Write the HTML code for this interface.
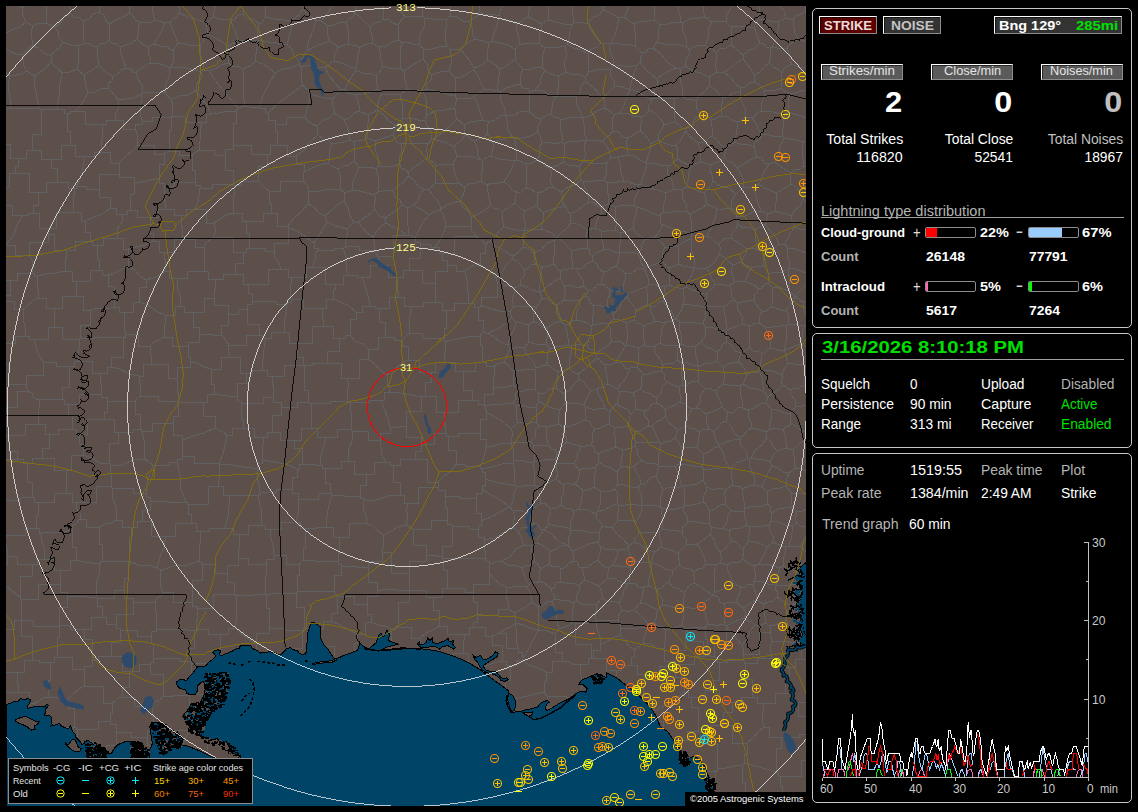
<!DOCTYPE html>
<html><head><meta charset="utf-8"><title>Lightning Map</title>
<style>
html,body{margin:0;padding:0;background:#000;}
body{width:1138px;height:812px;position:relative;overflow:hidden;font-family:"Liberation Sans", sans-serif;}
.t{position:absolute;white-space:nowrap;display:block;}
.pn{position:absolute;border:1px solid #c8c8c8;border-radius:5px;}
.bx{position:absolute;border:1px solid;border-color:#fff #8c8c8c #8c8c8c #fff;box-shadow:inset 1px 1px 0 rgba(0,0,0,.55);}
.ln{position:absolute;height:1px;background:#a0a0a0;}
.bar{position:absolute;width:49px;height:9px;border:1px solid #8c8c8c;border-radius:2px;background:#000;overflow:hidden;}
.bar i{position:absolute;left:0;top:0;height:9px;display:block;}
#map{position:absolute;left:6px;top:6px;width:800px;height:800px;}
#graph{position:absolute;left:812px;top:530px;}
</style></head><body>
<svg id="map" width="800" height="800" viewBox="6 6 800 800" fill="none" stroke-width="1">
<rect x="6" y="6" width="800" height="800" fill="#5d4f4a"/>
<path d="M806 804L804 804M806 716L798 716L798 702M798 702L806 702M804 804L795 804L795 792L782 792M806 760L801 760L801 776L780 776M782 792L782 786L780 786L780 776M781 737L769 737L769 727L764 727M781 737L781 748L776 748L776 772M747 743L753 738L758 732L764 727M747 743L747 754L744 754L744 763M744 763L755 766L766 769L776 772M781 737L799 737L799 734L806 734M776 772L778 772L778 776L780 776M580 664L574 665L568 661L562 661M580 664L581 675L581 680M581 686L581 686L582 690M570 697L566 697L566 696L547 696M562 661L552 661L552 672L546 672M546 672L546 681L544 681L544 692M544 692L547 696M508 701L519 698L531 695L544 692M522 660L516 660L516 665L510 665M510 665L510 680L505 680L505 687M522 660L529 665L538 668L546 672M550 708L550 707L547 707L547 706M547 699L547 696M806 659L801 659M801 659L795 659L795 667L789 667M798 702L791 702L791 693L785 693M789 667L789 677L785 677L785 693M764 727L762 719L763 711L763 703M785 693L775 693L775 703L763 703M691 697L705 697L705 690L713 690M691 697L691 707L698 707L698 731M713 690L719 690L719 702L732 702M732 702L732 712L723 712L723 725M723 725L710 725L710 733L703 733M698 731L703 733M747 743L732 743L732 725L723 725M752 697L757 697L757 703L763 703M752 697L741 697L741 702L732 702M717 769L717 744L703 744L703 733M717 769L726 768L734 766L742 765M744 763L742 765M23 309L14 309L14 301L6 301M23 309L23 318L25 327L26 336M26 336L15 336L15 343L6 343M478 6L479 6L480 12M480 12L486 15L493 14L499 16M499 16L500 12L502 7L502 6M469 21L473 19L477 16L480 12M469 21L463 21L457 17L450 16M450 16L451 11L450 6M803 166L800 169L795 170L791 173M803 166L803 158L802 150L803 142M791 173L786 170L780 166L775 162M775 162L779 155L780 146L784 138M803 142L797 140L790 139L784 138M806 166L803 166M806 141L803 142M736 804L736 806M736 804L741 804L741 796L745 796M745 796L755 796L755 804L770 804M770 806L770 804M715 800L728 800L728 804L736 804M717 769L717 770L715 770L715 771M742 765L742 782L745 782L745 796M715 771L715 788L715 788L715 789M782 792L782 796L770 796L770 804M522 660L528 650L533 640L538 630M562 661L562 652L555 652L555 634M538 630L544 630L550 632L555 634M591 658L592 658L592 658L593 658M591 658L588 658L588 664L580 664M616 676L616 670M593 658L606 658L606 670L616 670M659 721L663 721L663 727M675 740L679 740M679 740L679 746M679 740L687 740L687 731L698 731M715 771L708 771M599 586L602 583L605 581L608 578M599 586L601 590L602 594L602 598M608 578L615 579L621 582L628 584M602 598L607 601L613 601L619 603M628 584L624 590L622 597L619 603M789 667L780 667L780 658L772 658M752 697L752 679L745 679L745 663M772 658L757 658L757 663L745 663M801 659L801 648L802 648L802 642M802 642L788 642L788 641L772 641M772 658L771 652L770 647L772 641M719 662L727 662L727 660L743 660M719 662L719 680L713 680L713 690M743 660L744 660L744 663L745 663M687 629L693 627L699 627L705 628M687 629L687 641L703 641L703 656M705 628L705 639L707 639L707 655M703 656L705 656L705 655L707 655M702 607L696 608L690 608L684 607M702 607L705 612L706 618L708 624M683 608L684 607M683 608L684 614L683 620L682 625M708 624L705 628M685 628L682 625M685 628L687 629M685 628L685 650L678 650L678 664M678 664L694 664L694 656L703 656M708 624L714 625L719 625L724 624M724 624L726 626M726 626L726 641L714 641L714 657M714 657L707 655M25 6L22 8M19 6L22 8M47 6L46 13L46 23M26 22L24 18L22 13L22 8M26 22L33 26M33 26L37 24L42 23L46 23M529 6L529 10L528 17M528 17L524 19L521 22L516 24M499 17L504 20L511 20L516 24M611 43L619 44L627 44L635 46M611 43L615 35L617 27L619 18M635 46L636 39L635 31L634 24M634 24L631 22L627 20L625 17M619 18L625 17M640 62L642 53M640 62L645 69L651 74L657 79M657 79L663 74L669 71L676 68M676 68L668 63L661 54L653 48M653 48L649 48L646 52L642 53M660 25L658 31L659 36L657 42M660 25L655 20M657 42L653 48M655 20L648 21L641 21L634 24M635 46L642 53M6 295L10 295L10 280M6 280L10 280M6 459L17 459M9 435L9 451L17 451L17 459M9 435L6 435M153 465L169 465L169 462L177 462M153 465L150 474L147 483L146 493M146 493L146 497L150 497L150 501M150 501L168 501L168 502L186 502M177 462L180 475L181 489L186 502M749 326L752 325L755 323L759 323M749 326L749 334L749 341L750 348M759 323L765 327M750 348L753 351L757 351L761 353M761 353L765 353L767 349L771 348M765 327L768 334L770 341L771 348M752 268L749 272L747 277L745 281M752 268L748 266L744 264L741 262M741 262L733 265M733 265L731 271L733 277L733 283M733 283L737 281L741 282L745 281M743 324L742 316L738 310L737 302M743 324L749 326M759 323L759 319L760 315L762 312M737 302L742 302L748 301L754 300M762 312L759 308L756 304L754 300M782 375L783 371L786 367L788 363M782 375L775 372L768 370L761 370M761 370L760 364L762 359L761 353M771 348L775 349L780 351L784 350M788 363L786 359L786 354L784 350M685 66L686 60L689 55L689 50M685 66L681 68M657 42L667 45L677 44L687 47M681 68L676 68M689 50L687 47M805 12L805 7L806 6M805 12L806 12M793 20L786 18M793 20L796 16L801 14L805 12M780 6L784 11L786 18M798 39L795 33L794 27L793 20M798 39L804 41L806 41M806 118L801 116L794 114L788 112M806 90L805 90L798 92L790 94M790 94L788 100L788 106L788 112M782 136L784 138M782 136L783 129L783 122L785 115M785 115L788 112M607 183L613 182L618 182L624 181M607 183L604 180M618 157L620 165L621 173L624 181M618 157L611 157M604 180L606 175L606 170L606 164M611 157L606 164M627 155L618 157M627 155L628 149L626 143L628 138M628 138L622 137L619 132L613 131M613 131L610 135L605 138L603 142M611 157L609 151L607 146L603 142M762 134L760 139L755 142L754 147M762 134L769 135L776 137L782 136M769 164L764 163L762 158L757 157M769 164L775 162M754 147L757 157M738 224L736 229L732 233L731 238M738 224L743 228L749 227L755 230M731 238L736 241L742 245L746 249M755 230L755 236L756 242L756 248M746 249L756 248M761 211L753 212L745 216L736 216M761 211L768 214M768 214L765 224M736 216L738 224M765 224L762 227L758 228L755 230M719 254L724 257L728 261L733 265M719 254L720 251L720 247L719 244M719 244L722 241L726 238L731 238M741 262L743 258L746 254L746 249M765 224L770 231L776 237L779 244M765 253L769 249L775 248L779 244M765 253L763 250L758 251L756 248M764 265L763 261L764 257L765 253M764 265L760 267L756 266L752 268M660 216L661 224M660 216L652 213L644 209L636 207M636 207L636 214L634 221L633 228M633 228L636 233L641 236L645 240M661 224L661 229L658 233L655 237M645 240L649 239L652 238L655 237M607 183L607 190L609 197L608 204M634 205L628 206L622 205L616 207M634 205L635 198L638 192L639 185M639 185L634 184L629 182L624 181M608 204L616 207M444 412L444 425L445 425L445 433M444 412L458 412L458 400L472 400M445 433L446 433L446 436L448 436M448 436L458 436L458 433L480 433M472 400L478 400L478 404L484 404M484 404L484 406L485 406L485 406M485 406L485 410L486 410L486 412M480 433L480 419L486 419L486 412M701 342L704 338L706 332L705 327M701 342L696 346M696 346L691 346L686 346L681 344M705 327L703 323M681 344L682 336L679 329L680 322M703 323L695 323L688 322L680 322M802 642L802 640L803 640L803 638M806 636L803 638M554 599L560 600L567 600L573 603M554 599L552 601M552 601L555 610L557 620L559 629M559 629L564 627L569 625L573 622M573 603L573 609L572 616L573 622M591 658L591 644L575 644L575 623M559 629L555 634M573 622L575 623M600 645L606 642L613 638L620 635M600 645L600 637L597 629L596 621M596 620L603 621L611 620L618 620M620 635L621 628M621 628L618 620M593 658L593 650L600 650L600 645M616 670L621 670L621 665L631 665M634 650L634 657L631 657L631 665M634 650L629 646L625 640L620 635M575 623L582 623L589 623L596 621M596 605L597 610L595 615L596 620M596 605L589 604L582 604L576 601M576 601L573 603M602 598L596 605M622 610L619 603M622 610L620 613L618 616L618 620M669 582L665 584L662 588L657 589M669 582L673 587L679 589L684 593M684 593L684 598L683 602L684 607M683 608L676 608L669 606L662 605M657 589L659 594L662 599L662 605M673 571L665 569L659 565L651 563M673 571L672 575L669 578L669 582M651 563L651 571L649 578L648 586M657 589L654 589L651 586L648 586M613 565L615 561L617 556L618 551M613 565L618 566L624 566L630 568M630 568L633 561M633 561L631 556L629 552L628 547M628 547L625 550L621 549L618 551M608 568L604 566L601 564L598 560M608 568L613 565M598 560L599 555L601 551L600 546M600 546L605 549L612 549L618 551M608 578L607 575L609 571L608 568M628 584L630 583M630 583L629 578L630 573L630 568M630 583L635 583L638 587L643 587M651 563L645 562L639 562L633 561M648 586L643 587M534 562L537 563L539 566L541 569M534 562L534 556L531 551L531 546M537 543L531 546M537 543L542 545L546 548L551 551M541 569L549 564M551 551L549 555L550 560L549 564M544 530L541 534L538 538L537 543M544 530L552 534L558 541L567 545M551 551L556 549L561 546L567 545M582 568L579 567L577 562L574 561M582 568L583 572L584 576L584 580M584 580L579 586M579 586L573 583L566 583L560 582M574 561L569 563L566 567L561 569M560 582L561 578L560 573L561 569M599 586L594 584L590 582L584 580M598 560L593 563L588 567L582 568M576 601L576 596L579 591L579 586M552 589L555 587L556 583L560 582M552 589L551 592L554 595L554 599M539 581L539 576L539 572L541 569M539 581L544 583L548 586L552 589M549 564L553 567L558 566L561 569M772 641L770 632M743 660L743 658L743 658L743 654M770 632L759 632L759 654L743 654M673 571L679 565M684 593L687 589L690 585L694 583M679 565L684 568L689 568L694 572M694 583L695 579L693 575L694 572M687 544L684 547L681 550L678 554M687 544L690 544L694 545L697 544M679 565L680 561L678 558L678 554M694 572L698 569L703 568L706 564M697 544L701 550L704 557L706 564M26 22L20 27L12 30L6 33M6 108L10 108M6 144L10 144L10 158L18 158M18 158L26 158L26 150L32 150M10 108L20 108L29 108L39 108M39 108L41 110M41 110L41 134L32 134L32 150M69 6L70 9L70 13M46 23L55 27M55 27L61 23L64 17L70 13M6 187L9 187L9 173L15 173M15 173L29 173L29 192L38 192M6 205L12 205L12 215L23 215M38 192L38 205L33 205L33 213M23 215L28 215L28 213L33 213M18 158L18 166L15 166L15 173M6 245L13 236L17 225L23 215M142 121L140 112L141 103L141 94M142 121L142 124L135 124L135 129M141 94L134 98L126 99L118 100M118 100L119 107L116 113L115 120M135 129L123 129L123 120L115 120M75 111L85 111L85 124L102 124M75 111L80 106L84 100L88 93M88 93L95 92L101 89L108 88M108 88L112 92L115 96L118 100M102 124L106 124L106 120L115 120M57 182L57 168L51 168L51 159M57 182L68 182L68 188L74 188M74 188L76 188L76 186L77 186M77 186L81 176L83 166L85 156M51 159L61 159L61 145L70 145M85 156L75 156L75 145L70 145M32 150L41 150L41 159L51 159M38 192L46 192L46 182L57 182M67 113L67 131L70 131L70 145M67 113L64 113L64 109L57 109M57 109L52 109L46 109L41 110M67 113L70 113L70 111L75 111M101 152L101 139L102 139L102 124M101 152L94 152L94 156L85 156M245 106L243 94L243 82L243 70M245 106L238 108M228 63L232 66L239 66L243 70M228 63L221 65L215 69L209 71M209 71L218 84L228 96L238 108M209 71L203 70M203 70L201 72M201 72L201 78L197 84L196 90M196 90L201 98L207 105L211 114M238 108L236 111M236 111L227 111L219 113L211 114M275 124L275 131L277 131L277 145M275 124L275 120L268 120L268 113M277 145L270 145L270 154L267 154M268 113L265 113L265 108L259 108M259 108L254 107L250 107L245 106M236 111L236 123L233 123L233 145M267 154L251 154L251 145L233 145M211 114L206 114L206 122L202 122M233 145L233 149L225 149L225 155M225 155L214 155L214 150L199 150M199 150L200 141L200 131L202 122M171 100L179 96L188 95L196 90M171 100L173 105L172 110L172 116M202 122L185 122L185 116L172 116M171 100L165 93M142 121L152 121L152 117L171 117M141 94L143 92M143 92L150 93L158 92L165 93M172 116L172 116L171 116L171 117M199 150L192 155M171 117L171 130L169 130L169 151M169 151L179 151L179 155L192 155M213 6L215 7M215 7L216 6M179 13L180 9L178 6M179 13L177 17L173 19L170 22M170 22L165 23M165 23L155 20M155 20L152 10L152 6M140 23L145 22L151 22L155 20M140 23L136 20L133 16L130 13M130 13L129 9L130 6M165 93L166 84L169 76L170 68M201 72L191 69L181 67L171 67M170 68L171 67M178 43L185 44L193 46L200 45M178 43L173 51M200 45L200 54L203 62L203 70M171 67L173 62L173 56L173 51M178 43L175 36L172 29L170 22M165 23L162 30L158 37L154 44M173 51L167 47L160 46L154 44M469 21L472 27L472 33L475 39M499 17L497 25L494 33L492 41M475 39L479 40L484 41L488 43M492 41L488 43M611 43L609 44M637 65L629 67L621 65L613 67M637 65L640 62M609 44L610 52L613 59L613 67M637 65L634 73L632 80L630 88M630 88L625 88L620 86L615 86M615 86L614 81L611 76L610 70M610 70L613 67M572 6L572 10L573 16L574 23M603 10L603 9M603 10L599 15L592 18L588 23M600 6L603 9M574 23L579 22L584 23L588 23M603 10L609 12L614 15L619 18M609 44L601 43M588 23L591 30L596 37L601 43M589 72L588 66L588 60L588 54M589 72L596 70L603 69L610 70M601 43L597 47L591 49L588 54M6 245L15 245L15 255L29 255M10 280L17 280L17 273L33 273M33 273L32 266L32 260L29 255M23 309L28 306L32 301L38 298M38 298L38 289L37 289L37 276M33 273L34 273L34 276L37 276M431 372L419 372L419 360L408 360M431 372L431 382L425 382L425 396M425 396L421 397M421 397L411 395L400 393L389 392M408 360L401 364L394 370L387 375M389 392L389 385L387 385L387 375M444 412L436 412L436 396L425 396M472 400L472 390L463 390L463 371M463 371L455 371L455 362L444 362M444 362L435 362L435 372L431 372M406 426L406 437L421 437L421 444M406 426L406 411L421 411L421 397M445 433L434 433L434 444L421 444M390 427L399 427L399 426L406 426M390 427L388 418L384 409L381 400M381 400L384 400L384 392L389 392M272 376L284 376L284 365L303 365M272 376L272 385L273 385L273 397M303 365L304 365L304 365L304 365M273 397L273 402L281 402L281 407M281 407L297 407L297 402L308 402M304 365L304 390L308 390L308 402M9 435L25 435L25 424L38 424M17 459L23 459L23 463L27 463M38 424L45 424L45 434L49 434M49 434L49 448L42 448L42 458M27 463L32 463L32 458L42 458M66 470L54 470L54 458L42 458M66 470L66 483L66 483L66 493M66 493L54 493L54 502L38 502M27 463L27 482L32 482L32 497M32 497L34 497L34 502L38 502M32 497L20 497L20 500L6 500M6 672L17 672M6 629L14 629L14 620L21 620M21 620L21 636L32 636L32 660M17 672L24 672L24 660L32 660M6 692L18 692M17 672L17 684L18 684L18 692M9 435L8 426L7 417L6 407M39 400L39 408L38 416L38 424M39 400L34 398L32 393L27 391M6 407L17 407L17 391L27 391M69 366L69 387L62 387L62 399M69 366L56 366L56 362L43 362M43 362L43 375L26 375L26 384M62 399L54 399L47 399L39 400M27 391L27 388L26 388L26 384M34 339L36 347L39 355L43 362M34 339L29 339L29 336L26 336M26 384L8 384L8 364L6 364M34 339L48 339L48 327L54 327M69 366L74 366L74 361L78 361M78 361L78 349L79 349L79 339M79 339L62 339L62 327L54 327M38 298L46 298L46 308L54 308M76 281L72 281L72 271L65 271M76 281L76 286L76 291L76 296M37 276L46 274L56 273L65 271M76 296L62 296L62 308L54 308M54 327L54 319L54 319L54 308M68 404L68 415L72 415L72 429M68 404L79 404L79 394L101 394M104 419L104 412L107 412L107 401M104 419L87 419L87 434L79 434M79 434L76 434L76 429L72 429M107 401L107 397L101 397L101 394M62 399L64 399L64 404L68 404M49 434L58 434L58 429L72 429M78 361L92 361L92 373L100 373M100 373L100 383L101 383L101 394M83 455L83 444L79 444L79 434M83 455L92 458L100 463L109 464M109 464L109 443L118 443L118 432M118 432L114 432L114 419L104 419M83 455L71 455L71 470L66 470M386 462L374 462L374 474L366 474M386 462L382 455L381 447L380 440M366 474L354 474L354 461L348 461M348 461L348 451L352 441L352 431M380 440L368 440L368 431L352 431M390 427L390 433L380 433L380 440M415 459L415 451L421 451L421 444M415 459L400 459L400 465L393 465M393 465L390 465L390 462L386 462M330 493L330 483L325 483L325 468M330 493L331 493L331 495L332 495M325 468L341 468L341 461L348 461M366 474L366 485L360 485L360 496M360 496L344 496L344 495L332 495M269 628L284 628L284 630L302 630M269 628L269 633L256 633L256 644M294 649L294 648L302 648L302 630M256 644L256 648L257 648L257 649M294 440L280 440L280 432L272 432M294 440L294 448L302 448L302 464M302 464L299 464L299 469L297 469M263 437L267 437L267 432L272 432M263 437L263 444L262 444L262 460M297 469L286 464L274 462L262 460M215 428L215 416L203 416L203 402M215 428L219 430L223 432L227 435M227 435L232 435L232 428L243 428M243 428L243 419L241 419L241 403M214 394L207 394L207 402L203 402M214 394L221 395L229 396L237 396M237 396L237 401L241 401L241 403M182 440L193 436L204 433L215 428M182 440L182 451L182 451L182 456M219 463L194 463L194 456L182 456M219 463L223 454L225 445L227 435M263 437L254 437L254 428L243 428M272 432L272 415L281 415L281 407M273 397L263 397L263 403L241 403M272 376L267 376L267 370L262 370M246 373L252 373L252 370L262 370M246 373L246 383L237 383L237 396M157 568L157 569L160 569L160 571M157 568L160 557L164 547L166 536M160 571L173 566L187 565L199 561M166 536L175 536L175 523L191 523M199 561L199 543L200 543L200 531M200 531L196 531L196 523L191 523M142 521L137 521L137 527L131 527M142 521L151 521L151 536L166 536M131 527L131 537L129 537L129 561M129 561L138 565L148 565L157 568M202 564L202 580L192 580L192 602M202 564L202 562L199 562L199 561M192 602L173 602L173 592L163 592M163 592L160 585L161 578L160 571M142 521L142 510L150 510L150 501M186 502L187 502L187 504L188 504M188 504L188 514L191 514L191 523M415 459L427 459L427 482L438 482M448 436L448 450L456 450L456 464M438 482L444 476L451 471L456 464M357 634L348 629L340 625L331 621M357 634L365 634L365 622L371 622M371 622L371 614L367 614L367 604M331 621L331 613L337 613L337 596M367 604L354 604L354 596L337 596M163 592L161 596L157 598L155 602M155 602L146 602L146 602L133 602M129 561L128 561M128 561L128 578L124 578L124 590M124 590L124 598L133 598L133 602M34 706L34 703M66 727L69 727M72 727L74 727M48 697L43 698L39 701L34 703M48 697L59 697L59 699L68 699M68 699L68 708L74 708L74 727M18 692L29 692L29 698M31 703L34 703M77 729L76 729L76 727L74 727M77 729L77 737M50 662L39 662L39 660L32 660M50 662L50 680L48 680L48 697M112 703L103 703L103 686L84 686M112 703L112 713L110 713L110 721M110 721L98 721L98 729L77 729M84 686L79 689L73 694L68 699M806 301L803 302M795 296L803 302M795 296L800 291L805 286L806 284M806 316L804 310L803 302M805 326L800 325L794 324L789 324M805 326L802 332L802 338L801 344M801 344L795 346L790 348L784 350M784 350L786 342L786 334L787 325M787 325L789 324M806 325L805 326M806 347L805 346L801 344M788 363L794 364L800 364L806 366M765 327L773 327L780 326L787 325M789 324L788 319L788 314L786 310M795 296L793 301L789 306L786 310M762 312L766 311L769 309L771 307M771 307L776 308L781 310L786 310M783 430L778 429L774 428L769 430M783 430L785 427L789 426L791 423M769 430L770 423L772 416L771 409M791 423L790 414M790 414L784 413L777 410L771 409M782 375L782 379L781 382L783 385M803 385L804 380L806 374L806 374M803 385L799 388L794 388L790 390M783 385L790 390M759 371L756 373L751 372L747 375M759 371L762 378L763 385L764 392M747 375L743 384M743 384L750 388L757 389L764 392M790 414L796 406M796 406L795 400L791 395L790 390M771 409L766 403M783 385L778 390L773 393L768 397M766 403L768 397M761 370L759 371M764 392L768 397M712 22L705 17M712 22L708 29L708 38L705 45M705 45L699 45L694 47L689 50M687 47L686 39L683 31L682 23M705 17L698 18L690 19L682 23M660 25L667 24L674 22L681 22M681 22L682 23M798 39L794 42L790 44L787 48M806 69L805 68L798 67L792 64M792 64L789 59L789 53L787 48M779 21L786 18M779 21L778 30L776 39L772 47M787 48L782 48L777 48L772 47M681 68L680 78L682 87L682 96M657 79L657 86L654 91L654 98M682 96L674 99M674 99L667 98L661 98L654 98M630 89L638 92L645 96L651 100M651 100L654 98M685 66L693 71L701 73L709 77M716 53L717 59L715 66L717 72M716 53L713 49L708 48L705 45M717 72L709 77M716 53L720 49L726 48L731 45M731 45L735 48L739 52L743 55M743 55L743 59M743 59L736 63L731 68L724 72M717 72L724 72M696 101L691 99L686 99L682 96M696 101L699 96L705 91L709 86M709 77L709 86M743 55L748 51L755 48L760 43M760 43L764 44L766 47L770 48M743 59L747 64L751 69L754 75M770 48L771 53L770 58L769 63M754 75L760 72L764 67L769 63M792 64L788 66L784 69L782 73M772 47L770 48M769 63L773 67L778 69L782 73M790 94L787 92L784 91L781 88M781 88L781 83L781 78L782 73M435 184L443 183L451 184L459 183M435 184L435 178L435 172L436 166M459 183L456 177L454 170L453 164M436 166L442 164L447 164L453 164M465 135L462 140L457 143L454 147M465 135L468 136L471 140L474 141M474 141L477 147L477 154L481 160M481 160L473 157L465 156L457 156M454 147L457 156M481 181L481 175L483 168L482 161M481 181L476 183L469 184L464 187M464 187L459 183M482 161L481 160M453 164L457 156M776 211L781 213L786 214L791 216M776 211L775 205L777 199L776 193M791 216L795 210L800 206L803 199M776 193L782 190L786 187L791 184M791 184L796 187L800 192L803 197M803 197L803 199M768 214L776 211M779 244L785 244M785 244L788 238L791 232L795 227M795 227L794 223L791 220L791 216M761 211L758 203L756 195L752 187M752 187L759 184M759 184L764 188L770 190L776 193M769 164L765 170L762 177L759 184M791 173L790 177L790 180L791 184M806 195L803 197M806 202L803 199M752 187L743 187M757 157L750 160L744 164L737 168M743 187L743 180L741 174L737 168M736 216L736 212L734 210L731 208M731 208L731 202L733 198L736 194M743 187L736 194M719 244L715 242L711 238L707 236M731 208L726 208L722 210L717 209M717 209L715 219L711 228L707 236M719 254L716 260L712 265L706 268M691 239L691 249L694 258L695 268M691 239L692 236M706 268L703 269L699 268L695 268M707 236L702 237L697 235L692 236M661 224L671 228L681 231L691 233M691 239L686 241L682 243L678 246M678 246L673 247L669 247L665 247M655 237L659 240L662 243L665 247M692 236L691 233M645 240L642 244L641 249L638 254M665 247L663 251L662 256L662 261M662 261L656 264L650 266L644 267M638 254L640 258L641 263L644 267M707 307L712 306L718 306L723 307M707 307L706 303L706 299L706 295M706 295L709 291L713 288L715 284M723 307L727 305L730 302L734 300M715 284L720 284L725 285L730 285M734 300L731 295L731 290L730 285M705 327L712 327L719 330L726 331M726 330L726 322L725 315L723 307M703 323L705 318L705 313L707 308M743 324L737 326L732 328L726 330M737 302L734 300M733 283L730 285M706 268L710 273L712 279L715 284M745 281L749 283L754 285L758 288M758 288L757 292L754 295L754 300M706 295L699 292L692 290L686 287M694 268L692 275L688 281L686 287M678 246L678 252L678 258L678 264M694 268L689 267L683 266L678 264M662 261L664 263L666 266L670 268M678 264L670 268M557 237L562 241L567 246L571 250M557 237L562 232L567 228L571 223M571 223L577 224L583 227L588 230M588 230L586 235L588 242L587 248M571 250L577 250L581 248L587 248M480 433L480 439L486 439L486 446M456 464L465 464L465 466L480 466M486 446L485 453L483 460L480 466M699 367L698 371L699 377L698 382M699 367L698 365M698 365L692 365L686 362L681 363M698 382L692 381L687 385L682 385M682 385L682 377L681 370L681 363M696 346L695 353L697 359L698 365M681 344L679 346M679 346L677 350L677 355L677 360M677 360L681 363M717 361L723 367M717 361L717 352M723 367L728 364L733 363L738 362M717 352L721 349L722 345L726 342M726 342L732 345L735 351L741 353M741 353L738 362M701 342L706 347L712 349L717 352M699 367L705 363L711 364L717 361M723 384L725 378L724 372L723 367M723 384L729 385L735 385L740 386M747 375L745 370L742 365L738 362M740 386L743 384M726 331L726 335L727 338L726 342M750 348L741 353M682 486L676 488L669 487L663 490M682 486L680 479L679 473L675 467M659 466L664 466L670 466L675 467M659 466L656 476M656 476L658 481L661 485L663 490M651 563L652 559L653 556L655 552M678 554L673 551L667 549L661 547M661 547L655 552M687 544L686 539L683 536L682 532M659 532L660 537L661 542L661 547M659 532L662 529M662 529L669 530L675 530L682 532M748 458L742 461L736 463L731 468M748 458L746 451L741 446L740 439M740 439L733 440L726 442L719 445M729 467L731 468M729 467L725 460L723 452L719 446M719 446L719 445M707 487L703 480M707 487L713 490L720 488L726 490M726 490L732 485M732 485L732 479L731 474L731 468M704 470L712 469L720 468L729 467M704 470L703 480M766 432L769 430M766 432L761 430L756 429L751 428M766 403L760 404L754 408L748 410M751 428L751 422L748 416L748 410M766 432L766 438M751 458L755 450L762 445L766 438M751 458L749 458M740 439L740 438M751 428L747 431L744 435L740 438M740 386L740 394L742 400L743 408M743 408L748 410M675 467L679 464M683 486L690 485L697 484L703 480M704 470L702 467M679 464L687 465L694 466L702 467M719 446L714 448L709 452L703 454M702 467L703 463L704 459L703 454M679 464L681 459L681 453L682 448M703 454L697 448M697 448L692 447L687 447L682 448M723 384L716 390M698 382L705 389M716 390L712 390L709 388L705 389M194 631L194 630L196 630L196 629M194 631L182 629L169 629L156 629M192 602L192 606L197 606L197 608M156 629L156 611L155 611L155 602M197 608L197 620L196 620L196 629M190 661L190 662L191 662L191 663M190 661L190 648L194 648L194 631M191 663L205 663L205 663L207 663M220 650L220 644L221 634M196 629L208 629L208 634L221 634M256 644L249 639L241 634L235 628M221 634L228 634L228 628L235 628M634 650L637 648L640 646L643 643M621 628L629 629L638 628L646 627M643 643L644 638L646 632L646 627M682 625L676 627L671 629L665 630M678 664L676 664L676 666L675 666M675 666L675 661L664 661L664 649M664 649L665 642L666 636L665 630M644 674L659 674L659 666L675 666M644 674L644 686L643 686L643 697M654 710L654 704L649 704M643 699L643 697M654 711L664 706L674 700L684 692M684 692L684 677L675 677L675 666M631 665L637 665L637 674L644 674M643 643L650 644L657 648L664 649M641 697L643 697M691 697L688 697L688 692L684 692M719 662L717 662L717 657L714 657M803 638L798 632L792 627L785 622M770 632L770 626M785 622L780 623L775 625L770 626M749 458L750 467L754 476L755 485M732 485L736 487L740 486L742 489M742 489L747 487L751 485L755 485M751 458L757 459L764 460L770 462M766 438L771 441L773 446L777 451M770 462L772 458L774 454L777 451M783 430L785 436L786 442L786 448M786 448L777 451M544 530L540 529L538 524L534 523M544 530L549 524M549 524L548 518L551 513L550 508M534 523L532 519L530 516L530 512M530 512L534 508L537 506L541 503M541 503L545 503L547 506L550 508M493 387L493 394L484 394L484 404M493 387L500 387L507 387L514 385M514 385L518 391M485 406L494 404L503 404L513 403M513 403L516 399L515 395L518 391M486 412L495 417L503 422L511 429M511 443L502 443L494 446L486 446M511 443L511 442M511 442L512 437L513 433L511 429M609 424L610 420L609 416L610 412M609 424L604 426L600 428L595 429M585 407L585 412L585 416L586 420M585 407L592 409L598 409L605 408M595 429L592 426L590 422L586 420M605 408L610 412M585 407L584 405M584 405L586 400L588 395L591 391M605 408L603 402L599 396L597 389M591 391L597 389M568 545L572 551M568 545L568 540L570 535L571 530M572 551L581 548L589 544L598 542M571 530L581 530L590 533L599 532M599 532L599 535L599 539L598 542M567 545L568 545M574 561L573 557L573 554L572 551M571 529L564 527L556 526L549 524M571 529L571 530M600 546L598 542M726 626L732 623L738 620L744 618M726 626L731 633L737 639L742 645M742 645L747 639L750 631L755 625M744 618L748 621L752 622L755 625M743 654L743 649L742 649L742 645M765 623L770 626M765 623L762 625L759 625L755 625M694 583L701 587L706 591L713 595M706 564L716 565M716 565L714 574L714 584L714 593M714 593L713 595M724 624L725 618L726 611L724 604M743 608L736 602M743 608L745 611L745 615L744 618M724 604L728 602L732 603L736 602M702 607L705 602L709 599L713 595M724 604L720 602L718 597L713 595M749 541L743 549M749 541L755 542L761 544L767 547M759 564L762 558L765 553L767 547M759 564L754 566M743 549L744 553L742 556L743 559M754 566L750 564L747 562L743 559M714 593L721 590L727 587L733 583M736 602L738 597L740 592L741 587M733 583L741 587M716 565L720 563M720 563L727 565M733 583L731 577L728 571L727 565M10 108L10 98L8 87L10 76M39 108L37 98L35 87L34 76M34 76L27 71M10 76L16 75L22 74L27 71M10 76L6 73M22 54L23 60L24 66L27 71M22 54L16 54L11 52L6 49M32 46L32 39L31 32L33 26M32 46L29 48L26 51L22 54M32 46L39 48L44 53L51 56M55 27L58 32L59 38L63 42M63 42L60 47L55 51L51 56M34 76L40 72L46 68L51 62M57 109L59 97L60 85L62 72M62 72L58 69L55 66L51 62M51 62L51 56M119 167L119 163M119 167L119 174M119 174L119 177L134 177L134 183M119 163L125 157L132 151L138 145M134 183L142 182L150 180L159 178M138 145L154 145L154 154L164 154M164 154L164 164L159 164L159 178M99 189L86 189L86 186L77 186M99 189L99 174L119 174M101 152L110 152L110 163L119 163M135 129L137 134L137 139L138 145M169 151L164 154M164 186L164 183L159 183L159 178M164 186L174 186L174 182L195 182M195 182L195 170L192 170L192 155M303 181L280 181L280 191L269 191M303 181L306 183L308 187L309 191M288 226L294 218L302 211L308 204M288 226L277 226L277 213L271 213M309 191L308 195L308 199L308 204M271 213L271 203L269 203L269 191M303 181L304 172M277 145L287 145L287 156L296 156M304 172L304 164L296 164L296 156M267 154L267 166L258 166L258 181M269 191L265 188L261 184L258 181M130 210L130 194L134 194L134 183M130 210L127 210L127 214L123 214M99 189L99 197L110 197L110 208M123 214L116 214L116 208L110 208M130 210L137 210L137 217L150 217M164 186L164 201L165 201L165 209M165 209L158 209L158 217L150 217M259 108L263 96L269 84L275 73M243 70L247 67L252 65L255 61M275 73L269 68L263 64L255 61M130 13L123 17L116 20L110 24M110 24L106 21L104 15L99 12M99 12L99 6M70 13L74 17L79 17L83 21M83 21L89 19L93 14L99 12M207 23L213 17M207 23L206 27L208 31L207 34M213 17L219 19L225 19L231 20M207 34L215 38L222 42L229 46M231 20L233 27L236 33L238 40M229 46L232 44L235 42L238 40M215 7L213 17M179 13L188 17L198 20L207 23M200 45L203 42L204 38L207 34M243 14L243 9L242 6M243 14L238 15L235 19L231 20M228 63L228 57L227 51L229 46M255 61L256 54L257 47L258 40M258 40L251 41L244 41L238 40M148 47L148 52L150 57L150 63M148 47L144 45L140 42L137 39M120 47L126 45L132 43L137 39M120 47L121 54L124 61L126 68M150 63L145 66L141 69L136 72M126 68L130 68L133 72L136 72M170 68L164 65L157 63L150 63M154 44L148 47M140 23L138 28L138 34L137 39M109 40L112 43L117 44L120 47M109 40L110 35L109 29L110 24M143 92L142 85L138 79L136 72M113 77L112 81L108 84L108 88M113 77L118 74L121 70L126 68M548 6L548 13L548 20M574 23L572 25M548 20L556 22L564 24L572 25M528 17L533 19L537 21L541 24M548 20L541 24M588 54L581 50L574 48L567 44M572 25L570 31L569 38L567 44M492 41L500 43L508 45L515 49M488 43L488 49L487 54L487 60M499 69L496 65L491 62L487 60M499 69L505 67L510 63L515 59M515 59L516 56L515 52L515 49M541 24L541 30L539 36L539 43M565 46L559 47L552 47L545 48M565 46L567 44M539 43L545 48M516 24L517 31L519 38L519 45M539 43L533 43L526 43L519 45M519 45L515 49M493 387L493 380L495 373L494 366M463 371L475 371L475 362L482 362M494 366L486 366L486 362L482 362M445 342L445 353L444 353L444 362M445 342L457 339L468 337L480 336M482 362L482 345L480 345L480 336M478 307L478 320L483 320L483 332M478 307L474 307L474 303L468 303M445 342L444 338M468 303L454 303L454 310L446 310M444 338L444 328L446 328L446 310M483 332L480 336M510 312L500 311L491 309L481 305M510 312L514 306M514 306L512 300L514 294L515 288M481 305L481 297L497 297L497 282M497 282L503 285L509 285L515 288M496 278L502 272L506 265L512 259M496 278L497 282M512 259L517 261L521 265L524 270M524 270L524 276L520 280L520 285M520 285L515 288M540 293L542 298M540 293L546 288L553 282L560 278M542 298L548 299L552 303L557 305M560 278L564 286M564 286L565 291L565 295L564 300M564 300L557 305M520 285L527 287L532 290L539 292M539 292L540 293M537 306L542 298M537 306L529 307L521 306L514 306M561 271L565 269L568 269L572 268M561 271L560 278M584 286L577 288L571 285L564 286M584 286L583 280L579 275L577 269M577 269L572 268M356 69L357 62L358 55L360 48M356 69L349 66L341 63L334 61M360 48L357 46L352 45L348 44M348 44L345 45L341 46L338 48M334 61L334 56L336 52L338 48M304 172L312 168L320 165L328 163M296 156L304 150L310 142L318 135M318 135L323 139L328 140L332 144M332 144L329 150L330 156L328 163M340 189L330 189L320 191L309 191M340 189L340 182L340 175L338 169M338 169L334 167L331 166L328 163M408 173L414 167L421 163L427 157M408 173L406 170L401 168L400 164M400 164L399 158L402 151L401 144M427 157L427 152L426 148L428 144M428 144L419 143L410 143L401 144M422 6L422 10L423 16M423 16L417 16L411 16L405 17M405 17L401 11L400 6M450 16L446 20M423 16L424 18M446 20L439 19L432 19L424 18M468 303L468 292L467 281L465 271M435 283L435 271L447 271L447 265M435 283L435 289L436 295L435 302M446 310L442 310L442 302L435 302M447 265L456 265L456 271L465 271M478 307L480 307L480 305L481 305M496 278L492 272L485 268L480 263M465 271L470 267L475 265L480 263M408 360L408 346L402 346L402 340M444 338L422 338L422 333L409 333M402 340L409 333M435 302L423 302L423 306L412 306M409 333L409 324L410 315L412 306M344 201L337 205L331 211L325 216M344 201L348 208L350 216L354 222M347 229L354 222M347 229L340 227L333 225L327 222M327 222L325 216M340 189L345 193M345 193L344 201M308 204L314 207L319 213L325 216M374 250L359 250L359 246L345 246M374 250L374 241L373 241L373 237M373 237L367 233L362 227L358 222M345 246L346 241L347 235L347 229M358 222L354 222M326 437L337 437L337 429L351 429M326 437L317 437L317 428L311 428M311 428L311 413L311 413L311 403M311 403L330 403L330 401L348 401M351 429L351 413L350 413L350 402M350 402L350 402L348 402L348 401M320 465L322 465L322 468L325 468M320 465L321 455L324 446L326 437M352 431L352 430L351 430L351 429M294 440L301 440L301 428L311 428M302 464L315 464L315 465L320 465M308 402L309 402L309 403L311 403M304 365L312 365L312 363L327 363M327 363L341 363L341 378L347 378M347 378L349 386L347 393L348 401M381 400L369 400L369 402L350 402M387 375L380 370L375 364L368 359M347 378L359 378L359 359L368 359M323 326L323 319L322 319L322 308M323 326L312 326L312 343L297 343M322 308L303 308L303 299L291 299M297 343L289 343L289 332L284 332M284 332L284 323L286 314L286 304M291 299L291 302L286 302L286 304M303 365L303 357L297 357L297 343M327 363L327 351L339 351L339 338M339 338L333 338L333 326L323 326M262 370L263 359L264 349L266 338M266 338L271 338L271 332L284 332M312 267L315 261L315 255L318 250M312 267L306 267L306 277L291 277M314 243L306 237L297 231L288 227M314 243L314 248L318 248L318 250M288 227L288 243L274 243L274 251M274 251L275 258L279 263L281 269M291 277L288 277L288 269L281 269M343 248L346 257L346 266L348 275M343 248L334 248L334 250L318 250M348 275L343 275L343 284L335 284M335 284L325 284L325 267L312 267M333 299L326 299L326 308L322 308M333 299L333 289L335 289L335 284M291 299L290 291L291 284L291 277M288 226L288 227L288 227L288 227M327 222L323 229L319 236L314 243M343 248L343 247L345 247L345 246M99 527L105 524L111 523L116 520M99 527L86 527L86 519L80 519M116 520L117 509L113 499L112 488M77 502L76 508L80 513L80 519M77 502L96 502L96 486L111 486M111 486L112 488M131 527L122 527L122 520L116 520M102 561L115 561L115 561L128 561M102 561L102 544L99 544L99 527M146 493L133 493L133 488L112 488M110 465L110 473L111 473L111 486M66 493L72 493L72 502L77 502M153 465L145 459M145 459L133 460L122 465L110 465M21 620L21 613L21 613L21 599M6 586L12 591L20 597M21 599L20 597M38 502L38 515L36 515L36 528M36 528L25 528L25 535L6 535M6 564L7 564L7 556M20 597L20 576L32 576L32 564M32 564L17 564L17 556L7 556M6 535L6 538M6 544L7 549L7 556M90 310L90 325L80 325L80 338M90 310L98 308L106 309L114 307M80 338L94 338L94 337L123 337M114 307L119 307L119 312L124 312M124 312L124 320L124 327L126 334M126 334L125 334L125 337L123 337M79 339L79 338L80 338L80 338M76 296L83 296L83 310L90 310M100 373L107 373L107 367L111 367M111 367L111 357L123 357L123 337M139 302L148 305L156 311L165 315M139 302L133 302L133 312L124 312M165 315L165 324L164 324L164 337M126 334L138 334L138 346L150 346M150 346L154 342L159 340L164 337M182 440L182 435L173 435L173 423M203 402L195 402L195 402L178 402M173 423L173 416L178 416L178 402M145 459L144 450L144 440L142 431M182 456L182 459L177 459L177 462M173 423L152 423L152 431L142 431M118 432L133 432L133 429L140 429M140 429L141 429L141 431L142 431M107 401L127 401L127 401L135 401M140 429L140 414L135 414L135 401M360 496L360 498L364 498L364 501M332 495L329 505L327 516L326 527M326 527L333 527L333 537L339 537M339 537L349 537L349 523L366 523M366 523L366 516L363 508L364 501M393 465L393 482L400 482L400 495M364 501L376 500L388 496L400 495M338 561L326 561L315 561L303 560M338 561L338 553L339 553L339 537M326 527L316 527L316 528L305 528M303 560L303 548L305 548L305 528M219 463L219 463L219 463L219 464M262 460L262 463L257 463L257 469M257 469L244 467L232 465L219 464M188 504L208 504L208 486L218 486M225 528L228 517L229 506L229 495M225 528L209 528L209 531L200 531M229 495L223 495L223 486L218 486M219 464L219 478L218 478L218 486M539 581L536 583L532 582L529 585M534 562L530 565L526 566L522 568M522 568L524 574L526 580L529 585M377 591L377 582L368 582L368 567M377 591L387 589L398 590L409 590M409 590L409 584L409 578L409 573M409 573L391 573L391 552L382 552M382 552L382 561L368 561L368 567M367 604L367 596L377 596L377 591M341 566L341 575L334 575L334 591M341 566L357 566L357 567L368 567M337 596L334 591M338 561L338 564L341 564L341 566M383 535L378 531L373 526L366 523M383 535L383 546L382 546L382 552M552 601L547 602L543 605L539 607M539 607L538 614L539 622L538 630M529 585L527 587M527 587L530 592L531 597L531 602M539 607L531 602M191 663L191 673L191 673M197 694L202 694L202 696L203 696M99 563L100 563L100 561L102 561M99 563L99 574L96 585L96 597M124 590L114 590L114 598L97 598M96 597L97 598M788 269L782 272L775 272L769 274M788 269L789 277L790 284L789 291M789 291L783 289L778 287L772 287M769 274L768 283M768 283L772 287M795 296L789 291M771 307L773 300L772 294L772 287M764 265L765 268L768 271L769 274M758 288L762 288L765 284L768 283M803 385L806 388M796 406L802 406L806 405M732 6L731 8L727 14L726 22M726 22L731 27M731 27L738 26L746 27L754 27M758 6L759 7L759 14L758 20M754 27L758 20M712 22L717 21L721 21L726 22M705 17L703 10L703 6M731 45L732 39L731 33L731 27M760 43L758 38L756 32L754 27M779 21L772 22L765 19L758 20M628 138L632 136L636 133L640 131M613 131L612 125L612 120L614 115M620 113L614 115M620 113L627 113L633 116L640 117M640 117L642 121L640 126L640 131M630 89L627 97L624 105L620 113M651 100L651 103L648 106L649 110M640 117L644 116L647 113L649 110M674 99L674 107L674 115L676 123M676 123L672 122L668 124L664 124M649 110L655 113L660 118L664 124M724 72L730 77L735 83L741 88M754 75L754 82M741 88L745 87L749 83L754 82M781 88L776 90L770 90L764 90M764 90L761 87L758 84L754 82M785 115L777 113L769 111L761 111M764 90L764 97L761 104L761 111M762 134L758 129L756 123L752 118M752 118L755 116L757 113L761 111M504 227L503 222L502 217L502 212M504 227L499 231L495 237L490 241M491 205L494 208L499 209L502 212M491 205L485 210L478 214L471 218M471 226L471 218M471 226L471 230L474 233L476 236M476 236L479 238L482 241L485 243M490 241L487 241L487 243L485 243M524 231L518 230L511 229L504 227M524 231L526 224L523 217L525 211M525 211L521 209L518 206L515 203M515 203L511 206L506 209L502 212M512 256L505 251L497 247L490 241M512 256L517 254L520 250L524 247M524 247L523 241L523 236L525 231M487 185L492 183L498 183L504 182M487 185L488 192L489 198L491 205M504 182L509 185L512 190L517 192M517 192L515 196L516 199L515 203M481 181L487 185M464 187L464 192L462 197L460 201M460 201L463 207L469 212L471 218M442 253L442 260L447 260L447 265M442 253L454 253L454 236L476 236M480 263L480 253L485 253L485 243M512 256L512 259M435 184L429 189M460 201L453 203L447 205L441 209M429 189L433 196L438 201L441 209M408 173L408 176M436 166L434 163L430 160L427 157M408 176L414 180L418 186L424 189M429 189L424 189M352 190L360 191L367 193L374 195M352 190L345 193M358 222L364 218L370 214L375 209M374 195L376 199L374 204L375 209M785 244L788 248M788 269L789 268M789 268L789 261L787 254L788 248M789 268L795 269L801 271L806 273M795 227L800 229L806 229L806 229M788 248L795 249L801 251L806 253M717 209L714 207L711 206L707 204M691 233L691 227L691 220L690 214M690 214L696 211L702 208L707 204M696 101L696 106L698 111L700 115M676 123L679 125L682 128L686 128M686 128L692 125L694 119L700 115M603 9L605 6M625 17L627 11L629 6M655 20L654 16L655 10L654 6M560 321L560 316L558 311L557 305M560 321L564 324M579 300L579 307L576 313L577 320M579 300L574 301L569 300L564 300M564 324L569 324L572 320L577 320M571 223L570 214M602 207L601 214L597 220L595 228M602 207L597 206L594 202L589 202M588 230L595 228M570 214L577 211L583 206L589 202M604 180L597 180L590 182L583 181M608 204L602 207M589 202L588 195L585 188L583 181M579 167L580 172L580 176L581 180M579 167L583 161M606 164L598 163L591 163L583 161M583 181L581 180M616 207L615 215L617 223L615 230M595 228L601 231M601 231L606 231L610 230L615 230M634 205L636 207M633 228L629 230L625 232L620 233M620 233L615 230M553 264L554 256L554 248L555 240M553 264L549 266L545 267L542 267M555 240L547 243L541 250L533 253M533 253L534 257L534 261L536 264M536 264L542 267M557 237L556 238M571 250L571 256L573 262L572 268M556 238L555 240M561 271L558 270L556 266L553 264M539 292L540 283L541 275L542 267M556 238L552 233L547 231L541 229M541 229L536 230L530 229L525 231M524 247L527 248L531 250L533 253M524 270L528 268L531 265L536 264M659 532L653 532L646 532L639 532M655 552L647 550L641 545L634 542M639 532L638 535L635 538L634 542M628 547L629 546M629 546L634 542M684 505L691 505L697 504L703 502M684 505L683 507M683 507L684 512L687 516L688 521M688 521L695 522L702 523L709 524M703 502L706 504L708 508L710 511M709 524L709 520L709 515L710 511M683 486L685 492L684 499L684 505M707 487L706 492L703 497L703 502M663 490L661 496L660 501L660 507M660 507L661 508M661 508L668 509L676 509L683 507M662 529L662 522L662 515L661 508M682 532L682 527L686 525L688 521M725 504L720 505L715 509L710 511M725 504L726 499L724 495L726 490M660 507L654 505L648 506L643 505M639 532L638 529L636 525L635 521M635 521L639 517L641 512L642 506M643 505L642 506M659 466L658 465M675 438L678 441L680 445L682 448M675 438L671 441L665 442L661 444M661 444L660 451L658 458L658 465M740 438L734 433L731 426L726 421M743 408L738 407L734 412L728 412M728 412L726 421M716 390L717 395L720 401L722 407M728 412L722 407M719 445L716 440L715 436L713 431M726 421L721 423L718 428L713 431M357 634L357 643L354 643L354 651M322 629L323 629L323 621L331 621M326 646L334 646L334 657M658 610L652 607L646 604L640 603M658 610L656 614L656 618L654 622M654 622L648 624M648 624L644 619L639 614L634 610M634 610L640 603M643 587L643 592L642 598L640 603M662 605L658 610M665 630L662 626L657 626L654 622M646 627L648 624M622 610L626 611L630 611L634 610M510 665L506 665L506 661L502 661M502 661L494 663L486 666L478 667M754 566L755 571L756 576L754 581M741 587L745 587L748 584L753 584M743 559L738 563L732 562L727 565M754 581L753 584M743 608L748 605L752 602L757 600M753 584L754 589L756 594L757 600M765 623L765 617L764 611L763 604M757 600L763 604M785 622L787 617L788 611L791 606M763 604L768 602L773 601L777 597M791 606L786 603L781 600L777 597M806 607L806 607L800 606L793 604M791 606L793 604M754 581L762 582L768 584L775 585M777 597L778 593L775 589L775 585M772 513L770 510L770 506L767 504M772 513L771 521M767 504L760 507L752 506L745 509M769 525L771 521M769 525L762 526L756 526L749 527M749 527L747 525M747 525L746 520L744 516L744 511M744 511L745 509M749 541L748 536L750 532L749 527M767 547L774 542M774 542L773 536L770 531L769 525M731 510L735 512L739 511L744 511M731 510L725 504M742 489L743 495L744 502L745 509M755 485L762 487M770 462L772 466M772 466L768 473L765 480L762 487M767 504L767 500L767 496L767 492M762 487L767 492M485 479L485 472L482 472L482 469M485 479L495 482L506 484L516 486M482 469L492 467L502 464L513 463M516 486L514 479L515 471L513 463M511 443L513 449L513 455L514 461M482 469L482 468L480 468L480 466M513 463L514 461M559 424L558 419L559 414L560 410M559 424L563 427M584 405L578 403L572 404L566 402M586 420L578 423L571 426L563 427M560 410L566 402M536 407L529 408L523 405L516 406M536 407L536 412L536 417L536 422M536 422L530 423L524 423L518 422M516 406L517 412L516 417L518 422M535 390L529 389L524 391L518 391M535 390L538 393M513 403L516 406M538 393L539 401M539 401L536 407M511 429L518 422M533 445L538 446L544 445L549 446M533 445L531 441M531 441L535 437L535 430L539 426M549 446L547 439L546 433L546 427M546 427L539 426M511 442L518 442L525 443L531 441M536 422L539 426M559 424L555 425L550 426L546 427M563 427L563 432L566 437L567 442M567 442L563 445L560 450L557 453M557 453L555 449L551 449L549 446M539 401L545 405L552 408L560 410M628 426L623 427L619 427L614 427M628 426L629 422L629 418L631 414M614 427L609 424M610 412L612 409L614 406L617 404M617 404L621 407L627 409L631 414M680 402L681 397L679 391L680 386M680 402L675 405L670 407L665 410M680 386L675 386L671 384L667 382M665 410L663 407L660 405L657 403M657 403L656 398M667 382L662 387L661 393L656 398M509 507L500 512L491 517L481 521M509 507L501 500L491 495L482 489M481 521L481 513L476 513L476 498M482 489L482 493L476 493L476 498M485 479L485 485L482 485L482 489M510 507L509 507M510 507L513 501L514 493L517 487M489 573L489 567L489 567L489 564M489 573L494 579L500 584L506 587M522 568L515 565L508 565L501 561M506 587L513 587L520 586L527 587M501 561L497 561L493 563L489 564M531 546L524 545M501 561L510 557L516 549L524 545M534 523L529 527L523 527L518 532M524 545L522 541L521 536L518 532M530 512L524 512L519 510L513 511M513 511L515 517L513 522L514 528M518 532L514 528M720 552L725 549L728 545L732 541M720 552L716 546L714 540L710 534M712 528L715 527L719 529L723 528M712 528L710 534M723 528L729 531M729 531L729 535L730 538L732 541M720 563L721 560L721 556L720 552M743 549L740 546L736 542L732 541M697 544L702 541L706 538L710 534M731 510L728 516L727 522L723 528M709 524L712 528M747 525L741 528L734 528L729 531M83 44L79 45M83 44L88 43L93 46L98 46M79 45L78 53L79 61L77 69M98 46L97 52L98 59L99 65M99 65L94 69L89 72L84 75M84 75L77 69M83 21L83 29L83 36L83 44M63 42L68 44L74 46L79 45M109 40L106 43L101 43L98 46M62 72L68 73L72 71L77 69M113 77L108 73L103 70L99 65M88 93L86 87L85 81L84 75M271 213L263 213L263 221L246 221M274 251L265 251L265 248L249 248M246 221L246 233L249 233L249 248M76 281L90 281L90 270L99 270M114 307L114 286L108 286L108 275M108 275L102 275L102 270L99 270M90 241L90 232L85 232L85 221M90 241L75 241L75 250L66 250M66 250L54 250L54 234L48 234M73 212L81 212L81 221L85 221M73 212L56 212L56 228L48 228M48 228L48 230L48 230L48 234M123 214L122 222L117 229L117 238M110 208L103 214L94 217L85 221M117 238L103 238L103 245L97 245M97 245L92 245L92 241L90 241M65 271L65 258L66 258L66 250M97 245L97 259L99 259L99 270M29 255L29 242L48 242L48 234M74 188L74 195L73 195L73 212M33 213L39 213L39 228L48 228M286 304L276 304L276 301L252 301M281 269L268 269L268 284L248 284M248 284L248 293L252 293L252 301M259 335L262 335L262 338L266 338M259 335L259 324L247 324L247 309M247 309L247 304L252 304L252 301M246 373L240 373L240 357L229 357M214 394L214 384L211 384L211 369M211 369L221 369L221 357L229 357M259 335L246 335L246 345L229 345M229 345L228 349L229 353L229 357M146 280L153 278L159 275L165 271M146 280L140 276L135 270L128 267M128 267L128 255L128 255L128 249M128 249L136 247L145 245L153 241M165 271L165 260L164 260L164 252M153 241L159 241L159 252L164 252M139 302L139 287L146 287L146 280M108 275L115 273L121 270L128 267M117 238L123 238L123 249L128 249M150 217L150 233L153 233L153 241M302 6L302 7M301 6L302 7M318 135L317 126M344 120L341 117L337 115L334 113M344 120L347 126L349 133L350 140M350 140L344 142L338 143L332 144M334 113L329 118L322 121L317 126M275 124L286 124L286 117L305 117M305 117L308 121L312 124L317 126M301 67L309 65L317 68L325 67M301 67L302 73L301 79L303 85M325 67L329 76L335 83L341 90M303 85L305 88L308 90L309 93M309 93L317 96L325 98L333 99M341 90L338 93L335 96L333 99M268 113L279 103L291 94L303 85M275 73L283 69L291 68L299 64M299 64L301 67M356 70L352 76L348 83L345 89M345 89L341 90M334 61L331 62L329 66L325 67M305 117L307 109L309 102L309 93M334 113L334 108L332 104L333 99M307 51L314 47L322 44L330 41M307 51L309 40L313 31L316 20M330 41L328 36L327 30L327 25M327 25L321 21M321 21L316 20M299 64L299 61M299 61L303 58L304 54L307 51M338 48L336 45L332 43L330 41M346 22L348 29L349 36L348 44M346 22L340 22L334 25L327 25M355 13L353 17L349 19L346 22M355 13L355 6M332 6L328 13L321 21M302 7L302 10M302 10L307 13L311 17L316 20M400 164L393 166L386 166L379 166M408 176L404 182L398 186L393 191M393 191L388 190L383 191L378 192M378 192L378 184L378 176L376 169M379 166L376 169M352 190L353 182L356 174L359 167M378 192L374 195M376 169L371 167L365 168L359 167M350 140L354 142M338 169L343 166L349 165L354 161M354 142L355 148L354 155L354 161M359 167L354 161M475 39L469 42L465 45L460 49M487 60L483 64L479 66L474 68M474 68L470 61L465 55L460 49M484 89L481 83L478 76L474 70M484 89L481 92L477 94L474 97M474 97L469 99L463 98L457 99M474 70L468 73L462 77L455 78M455 78L455 84L455 90L455 96M455 96L457 99M499 69L499 76L498 83L497 90M497 90L493 90L489 89L484 89M474 68L474 70M345 89L348 93L351 94L355 95M344 120L350 118L354 113L359 111M355 95L358 100L359 105L359 111M356 70L362 73L370 73L376 76M355 95L363 94L371 92L378 89M376 76L376 80L377 85L378 89M457 119L455 115L456 111L454 108M457 119L450 126L442 133L433 139M454 108L445 110L436 111L427 115M433 139L432 139M432 139L431 132L427 126L425 120M425 120L427 115M464 125L457 119M464 125L470 122L477 121L483 120M483 120L480 112L478 105L474 97M457 99L454 108M465 135L464 132L464 129L464 125M454 147L447 143L440 141L433 139M426 89L423 91M426 89L436 91L446 94L455 96M423 91L426 99L426 107L427 115M428 144L432 139M403 119L410 118L418 120L425 120M403 119L402 111L402 103L400 95M423 91L418 90L412 91L407 89M400 95L407 89M404 71L404 77L406 83L407 89M404 71L400 68M376 76L379 73L381 70L383 66M378 89L382 94M382 94L388 94L394 94L400 95M400 68L394 69L389 68L383 66M423 59L427 64L428 70L431 75M423 59L424 50M424 50L432 49L439 47L447 46M431 75L437 73L443 71L449 71M449 71L451 64L451 56L450 49M447 46L450 49M426 89L427 84L431 80L431 75M404 71L410 67L416 63L423 59M419 44L424 50M419 44L413 44L408 42L402 42M402 42L400 51L400 60L400 68M446 20L446 29L445 37L447 46M424 18L424 27L420 35L419 44M455 78L449 71M460 49L450 49M333 299L341 302L349 306L356 312M339 338L345 338L345 335L350 335M356 312L356 319L350 319L350 335M368 359L368 349M350 335L355 341L363 344L368 349M402 340L394 340L394 337L385 337M385 337L378 337L378 349L368 349M398 297L389 297L389 308L379 308M398 297L398 291L397 291L397 277M397 277L388 277L388 265L379 265M370 306L375 306L375 308L379 308M370 306L368 296L365 286L362 277M362 277L370 277L370 265L379 265M412 306L404 306L404 297L398 297M385 337L385 322L379 322L379 308M435 283L422 283L422 270L409 270M409 270L403 270L403 277L397 277M356 312L362 312L362 306L370 306M348 275L357 275L357 277L362 277M378 256L378 259L379 259L379 265M378 256L374 250M76 560L76 547L72 547L72 530M76 560L70 560L70 570L60 570M60 570L54 570L54 559L44 559M44 559L45 550L42 542L41 533M72 530L62 532L51 532L41 533M99 563L91 563L84 562L76 560M80 519L77 523L73 525L72 530M60 584L60 575L60 575L60 570M60 584L60 592L67 592L67 596M96 597L87 597L87 596L67 596M21 599L38 599L38 584L60 584M32 564L37 564L37 559L44 559M36 528L39 528L39 533L41 533M177 378L168 378L168 364L151 364M177 378L177 392L178 392L178 401M178 401L158 401L158 396L140 396M140 396L140 383L139 383L139 376M139 376L143 376L143 364L151 364M150 346L150 356L151 356L151 364M164 337L172 337L172 346L188 346M190 362L190 357L188 357L188 346M190 362L190 367L177 367L177 378M211 369L204 367L197 363L190 362M135 401L140 396M111 367L120 369L129 374L139 376M406 525L408 517L406 510L408 503M406 525L413 529M413 529L431 529L431 520L447 520M408 503L418 503L418 487L438 487M447 520L447 508L445 508L445 496M438 487L438 490L445 490L445 496M383 535L391 531L398 527L406 525M400 495L404 495L404 503L408 503M426 555L426 545L413 545L413 529M426 555L426 561L409 561L409 573M438 482L438 483L438 483L438 487M476 498L459 498L459 496L445 496M443 558L459 558L459 558L485 558M443 558L442 558L442 556L442 556M442 556L442 546L452 546L452 526M452 526L469 526L469 529L478 529M478 529L478 537L484 537L484 540M485 558L485 550L484 550L484 540M447 588L465 588L465 592L473 592M447 588L447 570L443 570L443 558M473 592L473 584L489 584L489 573M489 564L489 561L485 561L485 558M447 588L442 588L442 597L433 597M426 555L437 555L437 556L442 556M409 590L426 590L426 597L433 597M447 520L447 524L452 524L452 526M481 521L481 525L478 525L478 529M510 507L513 511M514 528L504 532L495 538L484 540M334 591L319 591L319 591L297 591M303 560L299 564M299 564L299 575L297 575L297 591M308 628L304 628M304 628L304 607L296 607L296 593M297 591L297 592L296 592L296 593M269 628L269 608L266 608L266 595M302 630L303 630L303 628L304 628M296 593L286 593L276 593L266 595M261 525L265 525L265 529L270 529M261 525L262 514L260 505L258 495M270 529L281 529L281 522L296 522M258 495L258 494L260 494L260 492M260 492L276 492L276 489L292 489M296 522L298 514L299 507L298 499M298 499L298 493L292 493L292 489M239 534L248 534L248 525L261 525M239 534L233 534L233 528L225 528M229 495L246 495L246 495L258 495M305 528L300 528L300 522L296 522M299 564L286 564L286 555L274 555M274 555L273 546L271 538L270 529M257 469L257 477L259 484L260 492M297 469L297 477L292 477L292 489M330 493L318 493L318 499L298 499M515 624L510 627L505 629L500 633M515 624L516 623M516 623L514 613M500 633L492 636M509 609L514 613M509 609L498 609L498 615L477 615M492 636L485 636L485 627L473 627M477 615L477 622L473 622L473 627M518 648L516 640L517 632L515 624M518 648L506 648L506 633L500 633M522 660L522 652L518 652L518 648M538 630L530 628L523 625L516 623M531 602L526 607L520 610L514 613M502 661L502 645L492 645L492 636M506 587L506 595L508 602L509 609M473 592L473 602L477 602L477 615M152 706L155 702L160 700L163 696M152 706L152 716L153 716L153 721M163 696L173 696L173 695L189 695M189 695L189 706M191 726L191 729M164 728L166 728L166 730L189 730M191 729L190 729L190 730L189 730M133 602L133 614L116 614L116 624M97 598L97 606L102 606L102 617M116 624L106 624L106 617L102 617M149 731L147 731L147 737M183 744L184 742L189 730M147 737L147 745L151 745M112 703L115 701L118 698L122 697M110 721L110 724L116 724L116 732M152 706L134 706L134 697L122 697M147 737L131 737L131 732L116 732M116 732L116 745L106 745L106 749M723 98L729 96L734 93L740 91M723 98L722 104L721 110L721 116M740 91L741 100L745 108L746 117M721 116L727 117L732 120L737 122M746 117L743 119L740 121L737 122M709 86L715 89L719 94L723 98M741 88L740 91M700 115L704 116L707 116L711 119M711 119L715 119L718 117L721 116M752 118L746 117M754 147L748 144L740 144L734 142M734 142L736 135L737 129L737 122M471 226L463 227L454 226L446 227M441 209L440 210M446 227L445 221L443 215L440 210M442 253L439 253L439 247L435 247M446 227L443 234L440 240L435 247M409 270L409 258L420 258L420 244M435 247L430 247L430 244L420 244M393 191L395 197L400 200L402 205M375 209L377 213L380 216L385 218M402 205L397 210L391 214L385 218M373 237L377 231L381 226L386 223M386 223L385 218M378 256L393 256L393 235L406 235M386 223L393 227L400 230L406 235M639 185L641 184M660 216L663 212M641 184L649 188L658 190L666 193M666 193L665 200L663 206L663 212M690 214L687 212M663 212L671 212L679 211L687 212M664 124L662 129L659 134L658 140M640 131L644 134L648 139L651 144M651 144L658 140M627 155L634 156L640 160L646 163M651 144L650 150L648 156L646 163M641 184L643 177L645 171L647 164M646 163L647 164M636 310L633 305L629 301L627 296M636 310L640 308L643 306L648 305M648 305L647 299L647 293L646 287M646 287L640 289L633 292L627 294M627 294L627 296M625 274L632 273L637 269L644 268M625 274L625 280L623 285L623 291M644 268L646 273L648 278L649 284M649 284L646 287M623 291L627 294M670 268L669 273L669 279L669 285M686 287L684 288M669 285L674 287L679 288L684 288M649 284L654 284L659 286L664 287M669 285L664 287M707 308L699 306L691 305L683 304M684 288L683 293L685 299L683 304M680 322L676 319M683 304L682 309L679 314L676 319M681 22L680 15L678 9L678 6M597 358L600 360L602 363L605 365M597 358L596 354M605 365L609 364L613 364L616 362M616 362L619 356L623 351L625 345M625 345L621 342L617 341L612 341M596 354L602 349L608 346L612 341M564 324L567 331L568 338L569 345M577 320L582 321L587 323L592 326M569 345L571 346M571 346L577 344L582 345L587 345M587 345L589 338L591 332L592 326M561 192L563 196L562 202L565 206M561 192L553 187M565 206L557 208L550 210L543 213M553 187L548 188L544 191L539 193M539 193L537 197L538 202L537 206M543 213L537 206M570 214L565 206M581 180L575 185L568 187L561 192M579 167L574 165L568 165L563 162M550 168L554 167L559 165L563 162M550 168L552 174L550 181L553 187M541 229L542 224L544 218L543 213M525 211L529 209L533 207L537 206M527 188L524 189L521 192L517 192M527 188L531 189L535 192L539 193M619 252L619 257L618 262L616 266M619 252L614 252L610 249L604 249M616 266L611 268L608 271L603 272M604 249L601 251L596 253L593 256M603 272L599 269L597 264L592 261M592 261L593 256M638 254L632 252L626 252L619 252M625 274L623 271L619 269L616 266M620 233L621 240L619 246L619 252M601 231L601 237L603 243L604 249M587 248L590 250L589 254L593 256M577 269L582 268L587 264L592 261M512 318L505 324L497 329L488 333M512 318L516 322M516 322L514 330L510 337L508 345M488 333L494 337L500 342L508 345M483 332L485 332L485 333L488 333M510 312L512 318M533 322L538 323L542 327L548 327M533 322L528 325M528 325L528 331L528 337L529 342M548 327L547 333L547 338L546 344M546 344L540 344L535 344L529 342M560 321L555 323L551 325L548 327M537 306L535 311L533 316L533 322M516 322L520 322L524 324L528 325M550 349L556 347L563 346L569 345M550 349L546 344M524 348L519 347L514 348L510 349M524 348L527 355L533 361L536 368M510 349L508 353L506 358L504 362M504 362L508 365L511 369L515 371M515 371L522 370L529 369L536 369M508 345L510 349M529 342L524 348M546 365L548 360L547 354L550 349M546 365L543 365L540 367L536 368M494 366L497 364L501 363L504 362M514 385L513 380L513 376L515 371M535 390L536 383L535 376L536 369M569 368L565 370L561 371L557 371M569 368L572 371L575 373L578 374M578 374L579 379M579 379L574 384L570 390L563 393M557 371L557 377L557 382L556 388M556 388L563 393M546 365L550 366L553 369L557 371M571 346L571 354L569 361L569 368M597 358L591 363L585 369L578 374M596 354L594 350L589 349L587 345M605 365L606 371L607 378L607 384M607 384L604 387L600 387L597 389M591 391L587 387L584 382L579 379M566 402L563 393M538 393L545 393L550 388L556 388M618 521L612 527M618 521L617 516L619 510L618 505M617 504L611 506L604 510L597 512M612 527L608 528L605 526L601 528M601 528L601 523L597 519L596 514M597 512L596 514M635 521L630 520L624 520L618 521M629 546L623 539L617 534L612 527M642 506L634 504L626 505L618 505M600 491L605 491L610 491L615 489M600 491L601 498L600 505L597 512M615 489L617 493L617 499L617 504M599 532L601 528M640 485L638 488M640 485L640 479L637 473L634 466M638 488L631 487L625 485L618 484M618 484L617 480L617 476L617 472M634 466L630 468L625 466L620 468M620 468L617 472M656 476L650 478L646 483L640 485M643 505L641 500L641 494L638 488M658 465L653 463L647 463L642 460M642 460L634 466M615 489L618 484M642 460L638 456L637 450L635 446M635 446L631 448L627 449L623 450M623 450L622 456L621 462L620 468M660 443L652 442L644 442L636 442M660 443L657 437L655 432L652 426M648 426L652 426M648 426L643 429L639 431L634 432M634 432L634 435L634 439L636 442M661 444L660 443M635 446L636 442M678 430L675 438M678 430L673 426L668 422L665 416M665 416L661 420L656 422L652 426M665 410L665 416M657 403L652 404L649 409L644 411M644 411L645 416L648 420L648 426M628 426L634 432M644 411L636 409M631 414L636 409M614 427L614 433L616 440L615 447M615 447L623 450M699 432L695 429L690 428L686 426M699 432L702 430L705 429L709 429M709 429L707 424L706 419L706 414M686 426L687 420L689 414L692 409M706 414L703 412L700 409L696 408M692 409L696 408M678 430L686 426M697 448L698 443L699 437L699 432M713 431L709 429M722 407L717 410L711 412L706 414M680 402L685 404L688 407L692 409M705 389L701 394L700 402L696 408M680 386L682 385M191 729L196 733L198 733M210 755L210 753L207 753L207 739M371 622L378 625L385 626L391 629M409 590L409 602L398 602L398 627M391 629L395 629L395 627L398 627M391 629L391 641M391 647L391 648M795 571L796 575L797 579L800 583M795 571L791 569L787 568L783 566M776 585L783 586L791 585L799 584M776 585L777 579L778 573L780 568M799 584L800 583M780 568L783 566M806 584L805 583L800 583M806 559L802 563L799 568L795 571M793 604L794 597L797 591L799 584M759 564L766 564L773 566L780 568M774 542L777 544L781 546L785 547M785 547L785 553L783 560L783 566M789 546L792 546L796 546L800 547M789 546L791 539L792 533L792 526M800 547L803 541L806 536M806 527L805 527L800 526L797 523M792 526L797 523M785 547L789 546M806 552L800 547M771 521L778 522L785 525L792 526M790 507L796 512M790 507L784 508L778 509L772 513M796 512L796 516L795 519L797 523M772 466L778 468L783 472L789 473M767 492L773 489L780 488L786 486M789 473L787 478L786 482L786 486M790 507L792 503L791 498L792 493M792 493L786 486M571 529L570 523L573 517L574 511M550 508L554 509L558 507L561 505M561 505L565 508L570 508L574 511M596 514L591 512L585 509L579 509M579 509L574 511M615 447L609 450L604 451L598 454M617 472L611 468L605 466L599 462M599 462L598 454M595 429L592 434L593 440L591 445M598 454L595 452L594 447L591 445M567 442L572 444L577 445L582 447M591 445L582 447M556 479L558 474L556 469L557 463M556 479L550 482L544 486L537 487M555 460L548 459L541 461L534 461M555 460L557 463M537 487L534 485M534 485L534 477L534 469L533 462M534 461L533 462M541 503L540 497L538 492L537 487M563 485L564 492L561 498L561 505M563 485L556 479M557 453L555 460M533 445L534 450L534 456L534 461M574 464L577 458L578 452L582 447M574 464L569 463L563 464L557 463M517 487L522 486L528 485L534 485M514 461L521 460L527 462L533 462M617 404L618 399L620 395L619 391M636 409L635 404L635 398L633 393M633 393L629 392L624 391L619 391M656 398L651 394L645 392L640 389M633 393L640 389M607 384L610 385L614 387L617 389M617 389L619 391M616 362L622 363L625 368L630 368M617 389L623 382L627 376L630 368M677 360L673 364L667 363L663 366M667 382L664 379L664 374L661 371M663 366L661 371M679 346L673 345L666 346L660 343M660 343L654 347M663 366L661 360L656 354L654 347M640 389L642 384L641 379L643 374M661 371L655 371L649 374L643 374M630 368L637 367M637 367L643 374M165 209L174 209L174 215L181 215M164 252L174 252L174 239L182 239M181 215L181 227L182 227L182 239M233 213L226 215L220 219L214 223M233 213L233 195L234 195L234 185M233 184L233 184L233 185L234 185M233 184L212 184L212 188L200 188M214 223L206 223L206 209L195 209M200 188L199 195L198 202L195 209M258 181L241 181L241 185L234 185M246 221L242 221L242 213L233 213M225 155L225 170L233 170L233 184M195 182L195 185L200 185L200 188M181 215L186 215L186 209L195 209M247 309L238 309L238 314L228 314M229 345L227 342L224 338L221 335M228 314L228 325L221 325L221 335M188 346L188 342L199 342L199 334M221 335L213 335L213 334L199 334M249 248L246 248L246 252L243 252M214 223L215 228L215 233L213 237M243 252L233 252L233 237L213 237M248 284L243 284L243 274L235 274M243 252L243 263L235 263L235 274M182 239L195 239L195 247L204 247M204 247L206 243L210 240L213 237M287 45L277 43L268 42L258 40M287 45L289 37L291 29L291 21M291 21L283 20L274 19L266 17M258 40L257 34L258 29L259 24M259 24L262 23L264 19L266 17M299 61L294 56L292 49L287 45M302 10L299 15L295 18L291 21M266 6L265 10L266 17M243 14L247 18L254 20L259 24M497 90L500 92M483 120L489 122M500 92L500 100L504 107L506 115M506 115L500 116L495 120L489 122M474 141L479 139L484 137L488 134M489 122L487 126L487 130L488 134M542 67L535 67L529 70L523 69M542 67L545 71M545 71L541 77L540 84L535 90M523 69L521 74L520 79L520 84M520 84L523 88L528 88L530 92M530 92L535 90M515 59L517 63L520 66L523 69M545 48L543 54L542 61L542 67M500 92L506 88L513 86L520 84M565 46L567 55L564 63L566 72M545 71L549 73L554 75L558 76M566 72L558 76M589 72L585 77M566 72L572 75L579 74L585 77M368 115L371 113L374 112L377 110M368 115L368 123L367 130L367 138M377 110L384 115L389 121L396 126M367 138L375 141M375 141L381 139L387 137L393 135M393 135L396 126M359 111L368 115M382 94L379 99L378 104L377 110M354 142L358 140L363 140L367 138M403 119L396 126M379 166L378 157L375 149L375 141M401 144L397 142L395 138L393 135M398 25L393 23L389 20L384 19M398 25L398 30L398 35L398 40M398 40L392 42L386 46L379 47M384 19L379 22L374 23L370 27M370 27L371 32L373 38L372 43M372 43L379 47M405 17L402 19L400 22L398 25M383 6L383 12L384 19M402 42L398 40M383 66L381 60L380 53L379 47M355 13L360 17L365 22L370 27M360 48L364 45L368 44L372 43M265 594L265 575L266 575L266 564M265 594L254 594L254 595L236 595M266 564L248 564L248 558L238 558M236 595L235 595L235 594L234 594M234 594L234 582L227 582L227 573M227 573L227 565L238 565L238 558M274 555L274 559L266 559L266 564M266 595L266 595L266 594L265 594M235 628L237 617L236 606L236 595M239 534L239 549L238 549L238 558M197 608L213 608L213 594L234 594M202 564L215 564L215 573L227 573M111 656L111 642L120 642L120 630M111 656L122 656L122 671L129 671M120 630L137 630L137 636L151 636M129 671L139 671L139 664L150 664M151 636L151 643L153 643L153 658M153 658L153 662L150 662L150 664M156 629L156 631L151 631L151 636M116 624L116 628L120 628L120 630M163 696L163 674L150 674L150 664M122 697L122 687L129 687L129 671M190 661L179 661L179 658L153 658M84 629L84 639L92 639L92 660M84 629L70 629L70 625L59 625M59 626L59 637L57 637L57 657M59 626L59 626L59 625L59 625M57 657L72 657L72 669L84 669M84 669L84 666L92 666L92 660M102 617L91 617L91 629L84 629M111 656L98 656L98 660L92 660M67 596L67 607L59 607L59 625M21 620L33 620L33 626L59 626M50 662L54 662L54 657L57 657M84 686L84 680L84 680L84 669M429 215L423 222L419 230L415 238M429 215L424 211L418 208L413 205M413 205L408 208M408 208L407 217L408 226L409 235M415 238L409 235M440 210L436 211L432 213L429 215M420 244L420 242L415 242L415 238M424 189L420 194L418 201L413 205M402 205L408 208M406 235L409 235M736 194L729 188L720 186L713 181M707 204L705 200L706 196L704 193M713 181L711 185L708 189L704 193M579 300L586 296M584 286L588 291M588 291L586 296M603 272L603 276L601 280L602 284M588 291L593 290L597 285L602 284M623 291L618 292L613 291L609 289M602 284L609 289M613 314L612 311L609 308L607 306M613 314L614 319M614 319L608 324M608 324L603 323L598 324L593 325M607 306L602 306L597 305L593 306M593 325L592 318L594 312L593 306M627 296L622 302L619 309L613 314M609 289L610 295L607 300L607 306M612 341L610 335L611 329L608 324M592 326L593 325M586 296L589 298L590 302L593 306M643 326L643 333L644 339L644 345M643 326L641 324L637 323L634 320M634 320L626 323M626 323L627 330L628 337L626 345M626 345L631 346L635 347L639 348M639 348L644 345M636 310L635 313L635 317L634 320M614 319L618 319L622 321L626 323M637 367L639 361L638 354L639 348M654 347L651 346L647 347L644 345M655 321L665 323M655 321L653 316L651 312L650 307M650 307L655 306L659 302L663 301M663 301L667 307L672 312L675 319M665 323L668 321L672 321L675 319M660 343L661 336L662 329L665 323M643 326L647 324L652 323L655 321M648 305L650 307M664 287L665 292L665 296L663 301M676 319L675 319M420 638L420 645L421 645L421 648M420 638L426 633L433 630L439 626M439 626L447 626L447 634L464 634M453 655L453 653L463 653M463 653L463 647L464 640L464 634M398 627L411 627L411 638L420 638M433 597L433 610L439 610L439 626M473 627L469 627L469 634L464 634M468 662L468 653L463 653M791 423L796 426L800 430L805 432M796 468L800 469L803 470L806 470M796 468L794 462L794 456L793 450M793 450L796 447L800 443L805 441M805 441L806 442M786 448L793 450M789 473L796 468M805 432L805 441M796 512L803 511L806 509M792 493L798 494L804 493L806 493M595 467L590 469L584 468L579 470M595 467L595 474L594 481L594 487M579 470L579 475L578 480L575 484M594 487L590 489L587 490L583 490M583 490L575 484M574 464L579 470M599 462L595 467M600 491L594 487M563 485L567 483L571 484L575 484M579 509L581 502L582 496L583 490M214 298L204 298L204 312L193 312M214 298L214 289L215 289L215 279M204 271L208 271L208 279L215 279M204 271L187 271L187 278L178 278M178 278L177 287L180 296L180 306M180 306L184 306L184 312L193 312M228 314L228 305L214 305L214 298M199 334L199 327L193 327L193 312M235 274L223 274L223 279L215 279M204 247L204 258L204 258L204 271M165 271L169 271L169 278L178 278M165 315L175 315L175 306L180 306M530 92L529 98L530 105L529 112M506 115L514 115L521 111L529 112M482 161L484 159L488 157L491 156M488 134L490 136L490 141L493 143M491 156L492 152L493 148L493 143M504 182L508 175L512 168L515 160M491 156L499 159L507 160L515 160M506 115L507 122L508 130L512 136M493 143L499 140L505 139L512 136M615 86L611 90L607 94L604 99M585 77L586 82M586 82L593 87L598 93L604 99M614 115L611 112L608 110L605 108M604 99L605 108M603 142L598 140L592 141L587 140M583 161L586 154L584 147L586 140M586 140L587 140M563 162L564 156L564 150L564 144M586 140L579 141L571 141L564 144M686 128L686 131M658 140L664 143L670 145L676 145M686 131L683 136L680 141L676 145M542 143L541 140L540 136L538 132M542 143L539 148L540 155L537 160M538 132L530 136L522 138L514 139M514 139L516 146L516 153L517 160M537 160L534 162L531 163L527 163M527 163L523 163L520 161L517 160M550 168L545 166L542 162L537 160M564 144L562 142M562 142L555 144L549 142L542 143M529 112L533 114L535 117L540 119M540 119L540 123L537 128L538 132M512 136L514 139M515 160L517 160M527 188L526 180L526 171L527 163M576 97L577 105L580 111L583 118M576 97L570 96L563 96L557 96M583 118L575 117L568 118L561 120M556 97L557 96M556 97L553 102L552 108L551 114M551 114L554 117L558 117L561 120M586 82L581 86L580 93L576 97M605 108L597 111L591 115L583 118M558 76L558 83L558 89L557 96M587 140L584 133L584 125L583 118M562 142L562 135L560 127L561 120M535 90L543 91L549 95L556 97M540 119L543 117L547 115L551 114M698 143L700 149L700 156L701 162M698 143L703 142L708 139L712 136M712 136L717 140L721 145L726 150M711 165L701 162M711 165L715 163L720 161L724 157M724 157L726 150M711 119L711 124L713 130L712 136M686 131L689 136L693 139L698 143M734 142L732 145L728 146L726 150M737 168L733 163L728 161L724 157M713 181L712 175L710 170L711 165M667 165L671 165L674 162L678 159M667 165L668 174L672 181L674 189M678 159L682 162L687 164L692 165M692 165L689 172L688 180L686 187M674 189L682 190M682 190L686 187M647 164L654 163L660 165L667 165M676 145L678 150L677 155L678 159M666 193L674 189M701 162L692 165M704 193L698 191L692 188L686 187M687 212L686 204L682 197L682 190" stroke="#5f6162" shape-rendering="crispEdges"/>
<path d="M6.0 806.0 L6.0 704.4 L9.3 703.7 L13.9 701.7 L18.5 701.1 L20.5 698.5 L24.5 699.8 L27.7 698.5 L30.4 699.8 L29.7 703.7 L27.1 705.7 L27.7 708.3 L33.0 707.0 L40.3 706.4 L45.5 706.4 L46.2 704.4 L48.2 705.0 L47.5 707.7 L45.5 708.3 L45.5 712.3 L44.2 715.6 L48.2 715.3 L50.8 716.2 L51.5 719.5 L52.1 724.8 L50.8 726.1 L55.4 724.8 L59.4 723.5 L61.4 726.1 L64.7 727.5 L68.0 728.8 L70.6 726.1 L71.9 730.1 L73.2 732.1 L75.2 734.0 L75.9 737.3 L77.8 739.3 L79.8 741.3 L81.8 744.6 L83.8 743.3 L85.1 741.3 L88.4 740.6 L90.4 742.6 L93.0 743.3 L95.6 742.6 L96.9 745.2 L99.6 745.9 L100.9 748.5 L104.2 747.9 L106.2 751.2 L106.8 753.2 L111.4 753.8 L114.1 748.5 L118.0 744.6 L124.6 742.0 L132.5 741.3 L139.1 744.6 L145.7 747.2 L148.4 751.2 L149.7 757.8 L148.5 754.4 L149.8 749.1 L152.4 743.8 L151.1 735.9 L149.8 726.7 L151.7 722.1 L156.4 722.7 L161.6 726.7 L165.6 732.0 L169.5 735.9 L173.5 733.3 L177.5 732.0 L181.4 737.2 L182.7 741.8 L178.8 744.5 L182.7 745.1 L188.0 746.2 L192.0 747.8 L198.5 750.4 L203.8 753.0 L209.1 755.7 L214.4 758.0 L240.7 758.0 L240.7 757.0 L235.4 754.4 L230.2 751.7 L228.9 746.4 L226.2 741.8 L220.9 742.5 L217.0 738.5 L211.7 739.9 L206.4 737.2 L201.2 737.2 L198.5 732.0 L193.3 726.7 L189.3 722.7 L185.4 720.1 L182.7 716.1 L188.0 709.5 L192.0 703.0 L198.5 705.6 L201.2 700.3 L203.8 696.4 L205.1 689.8 L203.8 681.2 L201.2 682.5 L197.9 685.8 L197.2 691.1 L195.2 694.4 L190.6 695.0 L186.7 693.1 L185.4 689.8 L182.7 689.1 L178.8 687.8 L176.8 684.5 L176.8 681.9 L179.4 679.9 L184.0 679.9 L186.7 680.5 L189.3 676.6 L193.3 672.6 L197.6 666.9 L202.2 666.9 L206.1 665.6 L208.8 662.3 L212.1 659.7 L215.4 656.4 L214.7 653.7 L212.7 652.4 L214.0 650.4 L218.0 649.8 L220.6 651.1 L219.3 654.4 L221.3 655.7 L225.9 653.7 L231.2 651.7 L235.8 649.1 L239.1 648.5 L240.4 645.8 L250.9 645.8 L252.3 648.5 L256.9 650.4 L260.8 653.1 L265.4 652.4 L269.4 651.7 L273.4 652.4 L277.3 654.4 L281.3 654.4 L284.6 651.1 L286.5 648.5 L290.5 647.8 L293.1 649.8 L297.1 650.4 L299.7 653.7 L303.7 654.4 L305.7 652.4 L305.8 655.3 L307.0 642.9 L308.2 630.6 L311.9 622.0 L315.6 623.2 L320.5 626.9 L320.5 638.0 L324.2 645.4 L327.9 649.1 L331.6 655.3 L335.3 659.0 L340.2 657.2 L343.9 655.3 L351.3 652.8 L357.5 650.3 L359.9 642.9 L363.6 646.6 L368.6 649.1 L376.0 642.9 L378.4 635.6 L380.9 633.1 L383.3 636.8 L387.0 630.6 L389.5 634.3 L388.3 640.5 L394.4 642.9 L398.1 644.2 L388.3 646.6 L380.9 649.8 L390.7 649.1 L406.0 647.9 L400.0 648.0 L408.4 648.3 L421.1 648.7 L436.6 650.8 L449.2 654.6 L460.5 658.8 L470.3 663.7 L478.7 668.7 L487.2 675.0 L495.6 681.3 L502.6 686.2 L508.3 690.5 L509.0 693.3 L507.6 698.2 L506.6 701.7 L507.6 705.9 L509.7 710.1 L511.8 713.0 L516.7 711.5 L522.3 711.0 L526.5 709.4 L532.2 708.7 L537.8 706.6 L540.6 703.1 L543.4 701.7 L547.6 700.3 L549.0 702.4 L546.2 704.5 L545.5 708.7 L546.9 710.8 L551.8 708.0 L557.5 704.5 L560.0 703.1 L569.8 698.4 L576.0 693.4 L580.9 691.0 L585.8 692.2 L587.0 688.5 L583.3 684.8 L578.4 684.8 L582.1 679.9 L588.3 677.4 L596.9 673.7 L606.0 677.4 L606.0 672.5 L615.9 677.4 L625.7 684.8 L635.6 692.2 L642.9 699.6 L650.3 707.0 L656.5 716.8 L660.2 726.7 L667.6 731.6 L673.7 740.2 L679.9 748.9 L682.4 756.2 L679.9 763.6 L687.3 758.7 L694.7 756.2 L700.8 761.2 L704.5 766.1 L708.2 776.0 L711.9 783.3 L714.4 790.7 L714.4 806.0 L6.0 806.0 Z" fill="#004468" stroke="#000" shape-rendering="crispEdges"/>
<path d="M806.0 600.0 L806.0 600.0 L800.6 604.9 L801.6 614.8 L799.1 624.6 L802.6 634.5 L800.1 643.1 L806.0 645.6 L812.0 646.0 L812.0 600.0 Z" fill="#004468" stroke="#000" shape-rendering="crispEdges"/>
<path d="M806.0 562.4 L800.5 567.6 L802.2 574.5 L798.8 584.8 L802.2 591.7 L800.5 602.1 L802.9 612.4 L802.0 622.8 L804.4 633.1 L807.0 636.6 L807.0 562.4 Z" fill="#004468" stroke="#000" shape-rendering="crispEdges"/>
<path d="M416.9 644.1 L419.7 641.2 L419.0 644.1 L422.5 644.8 L426.7 642.0 L427.4 637.7 L430.2 640.5 L432.3 638.4 L433.0 642.7 L438.0 643.4 L443.6 641.2 L448.5 638.4 L449.2 642.0 L453.4 640.5 L452.7 644.1 L455.5 647.6 L453.4 649.0 L447.8 645.5 L442.2 646.9 L439.4 649.0 L435.9 646.9 L431.6 646.2 L426.7 647.6 L421.1 647.6 L417.6 644.8 Z" fill="#004468" stroke="#000" shape-rendering="crispEdges"/>
<path d="M473.1 655.3 L475.9 657.4 L480.8 655.3 L482.2 658.8 L485.8 659.5 L490.0 657.4 L493.5 654.6 L495.6 651.8 L498.4 653.2 L497.0 656.7 L492.8 659.5 L489.3 661.6 L485.8 663.7 L483.0 665.9 L485.1 669.4 L487.9 670.8 L491.4 671.5 L497.0 672.2 L499.8 676.4 L502.6 678.5 L506.9 677.8 L508.3 679.9 L504.7 681.3 L501.2 680.6 L497.7 676.4 L494.2 674.3 L490.0 673.6 L485.8 672.2 L482.2 670.1 L479.4 665.9 L477.3 661.6 L475.2 660.2 Z" fill="#004468" stroke="#000" shape-rendering="crispEdges"/>
<path d="M509.0 693.3 L512.5 695.4 L515.0 699.6 L515.6 705.9 L514.2 710.4 L512.2 711.8 L510.4 708.7 L508.5 703.8 L507.6 698.2 Z" fill="#004468" stroke="#000" shape-rendering="crispEdges"/>
<path d="M523.0 713.0 L527.9 715.8 L533.6 719.7 L540.6 718.3 L549.0 714.4 L560.0 708.0 L563.6 705.0 L569.8 699.6 L576.0 695.2" stroke="#000" stroke-width="1.5" shape-rendering="crispEdges"/>
<path d="M507.1 695.0 L506.2 700.3 L507.6 705.9 L509.7 710.1 L511.8 713.2" stroke="#000" stroke-width="1.5" shape-rendering="crispEdges"/>
<path d="M363.6 648.6 L378.4 650.8 L390.7 649.8 L406.0 648.4 L408.4 648.4 L421.1 649.0" stroke="#000" stroke-width="1.5" shape-rendering="crispEdges"/>
<path d="M799 577h3v2h-3zM802 636h4v3h-4zM798 578h2v2h-2zM798 595h2v2h-2zM795 632h3v3h-3zM802 566h4v3h-4zM802 601h4v3h-4zM802 572h3v2h-3zM800 576h2v2h-2zM798 602h3v2h-3zM795 605h2v2h-2zM795 638h3v2h-3zM800 621h2v2h-2zM798 611h4v2h-4zM794 592h4v2h-4zM797 594h4v2h-4zM796 650h2v2h-2zM799 576h4v2h-4zM798 605h3v3h-3zM798 616h2v2h-2zM799 621h3v2h-3zM801 629h3v2h-3zM801 577h3v2h-3zM799 595h3v2h-3zM794 643h2v2h-2zM796 605h3v2h-3zM794 576h4v3h-4zM801 605h2v2h-2zM793 620h3v2h-3zM801 597h3v2h-3zM797 628h3v2h-3zM798 646h4v2h-4zM801 646h3v2h-3zM798 640h4v2h-4zM801 613h3v2h-3zM795 609h2v2h-2zM802 622h2v2h-2zM799 614h4v2h-4zM800 622h3v2h-3zM797 574h3v2h-3zM800 618h2v2h-2zM794 620h3v2h-3zM795 605h3v2h-3zM796 578h2v3h-2zM801 625h2v2h-2zM801 596h4v3h-4zM799 577h3v3h-3zM800 615h3v2h-3zM800 576h3v3h-3zM797 633h2v3h-2zM798 615h3v3h-3zM799 589h3v2h-3zM796 616h3v2h-3zM799 568h4v2h-4zM799 638h4v3h-4zM793 617h4v2h-4zM797 608h4v2h-4zM793 582h4v2h-4zM799 584h4v3h-4zM800 600h4v2h-4zM795 591h2v2h-2zM797 604h3v2h-3zM800 617h3v2h-3zM797 604h3v3h-3zM798 596h2v2h-2zM796 590h4v3h-4zM798 575h2v3h-2zM801 589h4v2h-4zM794 649h4v2h-4zM796 622h3v2h-3z" fill="#004468" shape-rendering="crispEdges"/>
<path d="M796.9 563.3 L797.0 561.9 L796.2 560.5 L796.1 562.0 M795.7 562.2 L796.1 561.2 L796.3 559.6 L796.3 558.3 L795.8 559.1 M793.9 564.1 L793.9 562.7 L794.4 561.5 L793.6 562.4 M793.3 564.6 L793.1 565.9 L792.7 564.3 M792.4 563.3 L791.8 562.4 L791.2 561.5 L790.5 560.0 M789.3 564.7 L789.3 563.7 L789.2 562.8 L789.5 563.9 L788.8 565.5 M788.3 563.3 L788.4 564.5 L788.2 566.1 L788.5 567.1 L788.8 565.5 M800.9 563.0 L799.5 563.9 L798.0 562.9 L796.9 563.3 L795.7 562.2 L795.0 562.7 L793.9 564.1 L793.3 564.6 L792.4 563.3 L791.6 563.4 L790.2 563.1 L789.3 564.7 L788.3 563.3 M798.3 566.4 L798.6 565.1 L798.7 566.1 M796.9 566.7 L796.0 565.7 L795.8 564.7 M795.3 565.7 L795.2 564.9 L795.5 566.2 L794.5 565.0 M792.6 567.5 L791.7 569.2 L791.1 568.4 M790.4 569.1 L790.4 567.4 L789.8 565.8 L788.9 566.7 L788.7 565.0 M787.0 570.8 L787.4 572.4 L786.8 574.2 L786.2 575.4 L785.5 574.1 M785.9 570.1 L786.1 568.8 L785.7 569.9 M800.5 566.2 L799.3 566.4 L798.3 566.4 L796.9 566.7 L795.3 565.7 L793.9 567.3 L792.6 567.5 L791.3 567.5 L790.4 569.1 L789.4 570.0 L788.2 570.4 L787.0 570.8 L785.9 570.1 L785.3 569.5 L784.5 568.5 M801.2 571.3 L800.5 569.6 L800.4 570.6 L800.7 572.2 M796.8 569.9 L796.6 568.3 L796.7 566.8 L796.7 567.9 L796.0 566.5 M802.1 570.7 L801.2 571.3 L799.7 571.9 L798.9 570.9 L798.0 570.0 L796.8 569.9 L795.7 568.9 M802.2 572.8 L801.7 574.6 L801.2 572.9 L801.3 571.4 L801.0 570.4 M803.8 574.0 L802.2 572.8 L801.4 572.3 L800.2 572.7 L799.2 573.6 M803.8 576.6 L803.7 577.9 L803.3 577.0 M798.8 575.4 L798.4 576.7 L798.9 575.5 L799.3 577.0 M789.2 579.4 L788.2 580.8 L788.4 579.5 M804.8 576.8 L803.8 576.6 L802.3 577.6 L801.6 576.8 L800.9 576.2 L799.4 575.4 L798.8 575.4 L797.3 575.3 L795.8 575.4 L794.7 576.6 L793.4 577.4 L792.3 578.5 L791.5 578.5 L790.6 579.1 L789.2 579.4 M798.0 582.2 L797.8 583.5 L797.1 584.8 L797.4 586.2 M802.5 581.1 L801.4 580.8 L800.3 580.8 L799.6 580.9 L798.0 582.2 M802.1 585.3 L802.1 586.3 L801.8 587.9 L802.1 589.4 M800.8 586.5 L800.6 585.2 L799.8 583.8 L799.1 582.8 L798.5 584.5 M802.7 586.4 L802.1 585.3 L800.8 586.5 L799.8 585.9 L799.0 587.5 M792.7 590.5 L792.9 588.7 L792.0 587.3 M791.9 591.1 L791.9 592.3 L791.9 590.9 M789.5 590.6 L788.8 592.3 L788.1 593.7 L788.4 595.3 L788.5 593.7 M802.6 589.3 L801.9 588.9 L800.4 589.1 L799.6 589.5 L798.9 589.7 L797.5 589.3 L796.2 588.8 L794.8 589.7 L794.2 590.6 L792.7 590.5 L791.9 591.1 L791.3 591.7 L790.5 591.6 L789.5 590.6 L788.2 591.6 M802.5 594.3 L801.9 592.7 L802.0 591.8 M803.5 594.5 L802.5 594.3 L801.6 594.7 L800.7 596.1 L799.8 596.6 L798.7 596.3 L797.4 596.9 L795.8 595.4 L794.5 594.6 L793.8 593.6 L793.1 592.8 L792.0 592.9 L790.8 594.5 L789.4 593.1 L788.1 591.6 M799.2 597.6 L798.8 598.9 L798.6 600.3 L798.6 601.1 M796.8 598.4 L796.2 597.1 L795.6 597.9 L794.7 599.4 M795.9 599.3 L795.0 600.2 L794.1 598.8 M801.7 597.5 L800.2 597.6 L799.2 597.6 L797.8 597.8 L796.8 598.4 L795.9 599.3 L795.2 599.6 M798.8 600.1 L798.6 601.6 L798.1 603.1 L797.8 601.4 M797.4 599.3 L796.8 600.4 L796.3 598.9 L795.7 597.2 M796.3 599.8 L796.8 599.0 L796.9 597.5 L797.2 598.4 L797.6 597.1 M792.8 597.5 L792.1 596.3 L791.5 597.9 L791.4 599.0 L790.8 597.7 M790.1 595.5 L790.5 593.8 L790.1 595.1 M787.9 595.4 L788.0 596.8 L787.1 598.0 M786.5 594.8 L785.6 593.9 L784.8 592.8 L784.7 594.4 M799.5 600.6 L798.8 600.1 L797.4 599.3 L796.3 599.8 L795.1 599.4 L794.3 598.9 L792.8 597.5 L791.9 596.2 L791.2 594.9 L790.1 595.5 L788.8 594.9 L787.9 595.4 L786.5 594.8 M796.4 606.8 L796.5 605.7 L796.6 604.0 L796.9 603.1 L796.2 604.2 M794.2 607.4 L793.7 608.6 L793.0 607.1 L792.2 608.7 M792.7 606.9 L791.9 608.6 L791.4 610.1 L790.7 611.9 M791.1 606.1 L791.1 604.9 L791.0 606.0 L790.2 607.1 L790.5 605.5 M801.6 605.3 L800.5 606.4 L799.7 607.2 L798.8 605.7 L797.7 605.9 L796.4 606.8 L795.6 607.7 L794.2 607.4 L792.7 606.9 L791.1 606.1 L790.4 604.7 M804.0 609.5 L803.1 608.6 L801.9 608.9 L800.8 608.7 L799.8 610.0 M800.1 612.6 L800.3 611.0 L800.2 612.6 M796.1 615.9 L796.4 617.2 L796.9 616.4 L796.1 614.8 L796.5 616.2 M793.2 616.4 L792.4 614.8 L792.2 613.4 M791.2 614.7 L790.2 613.5 L789.7 612.0 L789.2 610.6 M804.3 613.9 L803.2 613.1 L801.7 612.6 L800.1 612.6 L799.5 613.9 L798.0 615.2 L797.2 615.0 L796.1 615.9 L795.0 617.1 L794.3 617.9 L793.2 616.4 L792.1 615.3 L791.2 614.7 M801.3 615.8 L800.5 614.1 L800.7 615.8 M798.8 615.9 L798.2 617.0 L798.2 618.6 L798.2 619.4 M795.3 613.9 L795.7 612.7 L795.1 614.4 M791.9 614.7 L791.5 616.5 L790.8 615.4 L791.1 616.8 M802.3 616.4 L801.3 615.8 L799.9 617.2 L798.8 615.9 L798.0 614.6 L796.7 613.6 L795.3 613.9 L794.2 613.9 L792.9 615.0 L791.9 614.7 L791.2 614.3 L789.8 615.3 L789.1 616.2 L787.9 615.7 L787.2 616.4 M799.0 617.3 L799.1 616.0 L798.5 614.3 L798.2 613.0 M796.7 618.9 L796.8 620.0 L796.4 619.0 M795.5 617.6 L794.9 616.5 L794.4 617.9 M802.5 620.5 L801.4 619.0 L800.0 617.8 L799.0 617.3 L798.1 618.6 L796.7 618.9 L795.5 617.6 M800.8 624.8 L801.1 625.8 L800.8 626.8 L799.9 625.4 M800.2 625.4 L799.8 626.5 L798.9 628.1 L798.7 629.7 M801.6 624.9 L800.8 624.8 L800.2 625.4 L798.7 625.1 L797.5 626.4 L796.4 626.2 L795.5 624.7 M790.1 629.6 L789.4 627.9 L789.1 628.7 L789.2 629.5 L789.5 631.2 M787.5 627.8 L787.6 628.7 L786.9 630.4 L787.1 629.4 M800.7 630.1 L799.8 631.0 L798.3 630.2 L797.5 631.4 L796.4 630.2 L795.3 630.7 L793.8 632.3 L792.3 631.8 L791.2 630.8 L790.1 629.6 L788.7 629.2 L787.5 627.8 L786.1 627.3 M800.4 633.6 L799.9 635.1 L800.0 636.8 M797.5 632.2 L796.8 630.7 L797.0 629.2 M796.4 631.6 L796.2 630.2 L796.3 631.9 L796.5 630.8 L796.1 629.5 M795.8 632.9 L796.3 634.2 L796.1 633.3 M794.2 631.9 L793.9 630.3 L794.1 628.9 L793.3 629.7 L792.4 628.7 M789.5 635.8 L789.9 636.9 L789.7 638.4 M801.2 633.1 L800.4 633.6 L799.1 632.4 L797.5 632.2 L796.4 631.6 L795.8 632.9 L794.2 631.9 L793.0 632.4 L791.8 633.3 L790.7 634.4 L789.5 635.8 L788.1 635.0 L787.3 635.2 M796.2 634.4 L795.9 633.0 L796.3 633.9 M794.4 635.1 L794.7 636.2 L794.4 637.0 L794.3 638.5 L793.8 637.6 M793.1 635.4 L792.9 634.6 L792.8 633.7 L792.4 635.0 L792.8 633.5 M789.9 634.4 L789.8 633.6 L789.7 632.0 L789.4 630.8 M787.5 634.6 L786.8 633.3 L786.7 634.9 M800.7 635.7 L800.0 635.6 L799.1 635.9 L797.7 635.9 L796.2 634.4 L795.3 634.8 L794.4 635.1 L793.1 635.4 L791.8 636.9 L790.9 635.7 L789.9 634.4 L788.9 635.5 L787.5 634.6 L786.4 634.6 L785.6 634.5 M798.8 638.8 L798.2 640.1 L797.7 639.1 M795.4 637.0 L795.2 638.1 L794.6 637.0 L794.2 637.8 M794.7 637.3 L794.5 638.6 L794.8 639.7 L794.7 640.7 M792.0 635.6 L792.3 634.0 L792.1 632.4 M799.8 639.5 L798.8 638.8 L797.9 637.7 L796.9 638.5 L795.4 637.0 L794.7 637.3 L793.9 636.6 L792.8 636.2 L792.0 635.6 M799.2 645.8 L799.6 646.6 L799.5 647.7 L798.9 646.7 M798.2 645.7 L797.7 644.1 L796.8 642.9 L796.9 644.4 L797.4 645.3 M796.7 647.0 L796.5 648.3 L796.5 649.1 L796.9 650.8 M788.6 648.6 L788.1 649.7 L788.0 648.8 M801.8 644.9 L801.2 646.1 L800.2 644.8 L799.2 645.8 L798.2 645.7 L796.7 647.0 L795.6 646.2 L794.8 646.1 L793.2 645.7 L791.7 646.6 L790.5 646.3 L789.6 647.3 L788.6 648.6 L787.8 647.8 L787.0 646.2" stroke="#000" stroke-width="1.4" shape-rendering="crispEdges"/>
<path d="M806.0 646.3 L804.8 646.2 L804.0 646.3 L803.1 646.9 L801.6 647.7 L799.8 647.8 L798.2 647.5 L797.3 647.0 L796.9 646.9 L796.6 647.4 L795.9 648.5 L794.7 649.5 L793.1 650.2 L791.4 650.2 L789.9 649.7 L789.1 649.4 L787.9 649.9 L787.9 650.3 L788.1 651.1 L788.3 652.4 L788.1 653.9 L787.5 655.5 L786.5 656.9 L785.7 657.8 L784.9 658.5 L784.2 659.2 L783.9 659.8 L783.9 660.4 L784.3 661.2 L784.7 662.4 L784.9 663.9 L784.5 665.5 L783.8 666.9 L782.8 668.0 L782.1 668.7 L781.6 669.1 L781.7 669.8 L781.5 670.8 L782.7 671.8 L783.5 673.2 L783.9 675.0 L783.3 675.9 L783.4 675.7 L784.8 675.3 L786.5 676.3 L787.5 678.2 L787.4 680.2 L786.6 681.2 L786.5 681.5 L787.0 681.5 L788.1 681.8 L789.5 682.7 L790.6 684.2 L791.1 685.9 L791.0 687.5 L790.2 688.2 L790.6 687.8 L792.3 687.9 L793.8 690.5 L792.4 692.1 L791.0 692.3 L791.1 692.3 L792.1 692.9 L793.0 694.7 L792.9 696.9 L792.4 698.2 L791.7 699.3 L791.5 699.9 L791.7 700.1 L792.6 700.3 L793.8 700.9 L795.1 702.1 L795.8 703.7 L795.1 705.8 L793.8 706.3 L792.9 706.4 L792.7 706.5 L793.0 707.2 L793.3 708.4 L793.2 710.0 L792.3 711.8 L790.9 712.9 L789.5 713.3 L788.5 713.4 L788.1 713.5 L788.1 714.0 L788.0 714.9 L788.3 716.4 L788.2 718.1 L787.4 719.8 L786.3 721.1 L785.6 721.5 L785.0 722.1 L784.9 722.8 L785.2 723.7 L785.5 725.0 L785.4 726.6 L784.8 727.9 L784.2 728.8 L784.0 729.6 L784.1 730.6" stroke="#000" stroke-width="3.6" stroke-linejoin="round"/>
<path d="M806.0 646.3 L804.8 646.2 L804.0 646.3 L803.1 646.9 L801.6 647.7 L799.8 647.8 L798.2 647.5 L797.3 647.0 L796.9 646.9 L796.6 647.4 L795.9 648.5 L794.7 649.5 L793.1 650.2 L791.4 650.2 L789.9 649.7 L789.1 649.4 L787.9 649.9 L787.9 650.3 L788.1 651.1 L788.3 652.4 L788.1 653.9 L787.5 655.5 L786.5 656.9 L785.7 657.8 L784.9 658.5 L784.2 659.2 L783.9 659.8 L783.9 660.4 L784.3 661.2 L784.7 662.4 L784.9 663.9 L784.5 665.5 L783.8 666.9 L782.8 668.0 L782.1 668.7 L781.6 669.1 L781.7 669.8 L781.5 670.8 L782.7 671.8 L783.5 673.2 L783.9 675.0 L783.3 675.9 L783.4 675.7 L784.8 675.3 L786.5 676.3 L787.5 678.2 L787.4 680.2 L786.6 681.2 L786.5 681.5 L787.0 681.5 L788.1 681.8 L789.5 682.7 L790.6 684.2 L791.1 685.9 L791.0 687.5 L790.2 688.2 L790.6 687.8 L792.3 687.9 L793.8 690.5 L792.4 692.1 L791.0 692.3 L791.1 692.3 L792.1 692.9 L793.0 694.7 L792.9 696.9 L792.4 698.2 L791.7 699.3 L791.5 699.9 L791.7 700.1 L792.6 700.3 L793.8 700.9 L795.1 702.1 L795.8 703.7 L795.1 705.8 L793.8 706.3 L792.9 706.4 L792.7 706.5 L793.0 707.2 L793.3 708.4 L793.2 710.0 L792.3 711.8 L790.9 712.9 L789.5 713.3 L788.5 713.4 L788.1 713.5 L788.1 714.0 L788.0 714.9 L788.3 716.4 L788.2 718.1 L787.4 719.8 L786.3 721.1 L785.6 721.5 L785.0 722.1 L784.9 722.8 L785.2 723.7 L785.5 725.0 L785.4 726.6 L784.8 727.9 L784.2 728.8 L784.0 729.6 L784.1 730.6" stroke="#004468" stroke-width="1.8" stroke-linejoin="round"/>
<path d="M784.1 731.9 L789.0 734.3 L793.9 740.5 L796.4 747.9 L791.5 754.1 L787.8 750.4 L785.3 743.0 L783.3 736.8 Z" fill="#2d4a6b"/>
<path d="M312.4 663.4 L321.8 661.7 L331.6 660.7 L336.0 658.7 L336.8 659.9 L332.1 662.2 L321.8 663.1 L312.9 664.6 Z" fill="#5d4f4a" stroke="#000" shape-rendering="crispEdges"/>
<path d="M15.9 719.5 L20.5 717.6 L25.8 716.2 L29.7 718.2 L34.3 720.9 L39.0 721.9 L37.6 724.2 L34.3 726.1 L35.0 729.4 L31.0 730.1 L27.1 726.8 L21.8 724.2 L17.9 722.8 L15.2 720.9 Z" fill="#5d4f4a" stroke="#000" shape-rendering="crispEdges"/>
<path d="M65.3 742.6 L68.0 745.2 L71.9 740.0 L74.5 739.3 L76.5 742.0 L77.8 746.6 L81.1 748.5 L79.8 751.8 L75.9 751.8 L71.9 749.9 L68.0 746.6 L66.0 744.6 Z" fill="#5d4f4a" stroke="#000" shape-rendering="crispEdges"/>
<path d="M523.0 712.4 L532.2 712.0 L531.9 714.8 L528.6 716.5 L525.8 714.4 Z" fill="#5d4f4a" stroke="#000" shape-rendering="crispEdges"/>
<path d="M194 707h2v2h-2zM205 713h2v1h-2zM207 698h2v2h-2zM190 728h3v1h-3zM201 728h3v1h-3zM185 713h3v2h-3zM227 673h2v2h-2zM214 680h3v1h-3zM217 683h2v1h-2zM223 679h1v2h-1zM218 674h1v1h-1zM202 721h2v2h-2zM223 674h2v1h-2zM208 679h2v1h-2zM188 717h3v2h-3zM189 728h3v1h-3zM187 712h1v1h-1zM201 726h3v1h-3zM226 683h1v1h-1zM212 684h2v1h-2zM224 683h3v2h-3zM206 696h2v2h-2zM198 731h1v2h-1zM223 686h2v1h-2zM208 695h1v2h-1zM214 689h3v1h-3zM198 722h2v1h-2zM195 705h2v2h-2zM209 689h3v2h-3zM217 706h3v1h-3zM199 704h1v2h-1zM217 685h1v2h-1zM194 706h2v1h-2zM225 689h2v1h-2zM191 724h1v2h-1zM215 695h3v1h-3zM193 730h1v1h-1zM200 708h3v1h-3zM207 690h2v2h-2zM192 717h3v1h-3zM209 681h3v1h-3zM212 690h1v1h-1zM206 701h3v2h-3zM206 718h2v1h-2zM222 691h3v1h-3zM225 685h2v1h-2zM213 677h3v1h-3zM208 711h2v2h-2zM220 698h2v1h-2zM205 708h3v2h-3zM191 720h2v1h-2zM193 713h2v2h-2zM198 704h3v1h-3zM215 691h3v1h-3zM212 694h2v1h-2zM185 720h2v1h-2zM206 711h2v1h-2zM200 704h3v1h-3zM202 728h3v2h-3zM199 704h1v2h-1zM191 714h2v1h-2zM220 693h2v1h-2zM195 720h3v1h-3zM219 693h3v2h-3zM223 697h3v2h-3zM206 714h2v2h-2zM201 706h2v2h-2zM223 678h3v1h-3zM205 692h3v1h-3zM184 716h3v2h-3zM207 673h3v1h-3zM193 733h3v2h-3zM206 688h3v2h-3zM209 686h3v2h-3zM202 726h3v2h-3zM205 682h1v2h-1zM225 680h1v2h-1zM200 703h1v1h-1zM208 707h3v2h-3zM223 688h1v1h-1zM220 679h3v2h-3zM196 727h3v2h-3zM214 699h3v1h-3zM199 705h2v2h-2zM189 721h2v1h-2zM208 710h2v1h-2zM214 691h1v1h-1zM203 726h2v1h-2zM185 722h3v2h-3zM204 720h2v1h-2zM201 709h2v1h-2zM214 702h3v2h-3zM205 702h1v1h-1zM186 715h3v2h-3zM190 710h1v1h-1zM226 679h1v2h-1zM194 703h3v1h-3zM205 707h2v1h-2zM205 697h2v1h-2zM204 703h1v2h-1zM207 691h2v2h-2zM201 724h1v1h-1zM225 676h1v1h-1zM200 730h2v2h-2zM215 693h2v2h-2zM199 722h3v1h-3zM203 704h2v2h-2zM203 716h2v1h-2zM191 713h3v2h-3zM192 711h3v2h-3zM206 691h3v1h-3zM209 708h3v2h-3zM203 729h1v1h-1zM226 691h3v1h-3zM178 744h2v1h-2zM172 733h2v2h-2zM171 741h1v2h-1zM163 735h1v1h-1zM171 744h2v1h-2zM178 736h3v2h-3zM166 740h2v2h-2zM156 732h3v1h-3zM166 752h1v1h-1zM163 736h2v2h-2zM152 729h1v2h-1zM162 729h3v1h-3zM153 737h2v1h-2zM175 734h3v1h-3zM174 745h3v2h-3zM160 742h2v2h-2zM179 736h2v1h-2zM157 744h3v1h-3zM156 728h2v2h-2zM175 746h2v2h-2zM163 748h3v1h-3zM151 725h2v2h-2zM167 743h1v2h-1zM180 746h3v1h-3zM163 753h2v2h-2zM164 751h2v1h-2zM169 738h2v1h-2zM156 729h1v1h-1zM159 739h2v1h-2zM168 732h2v2h-2zM164 743h3v2h-3zM157 733h3v1h-3zM165 750h2v1h-2zM165 750h3v1h-3zM174 733h2v2h-2zM170 731h3v2h-3zM161 755h1v1h-1zM170 745h2v1h-2zM180 740h2v1h-2zM173 738h3v1h-3zM159 730h3v2h-3zM172 745h2v2h-2zM164 746h3v2h-3zM163 724h3v2h-3zM154 725h2v1h-2zM166 734h2v1h-2zM168 735h2v1h-2zM161 728h3v2h-3zM169 734h1v1h-1zM171 733h1v1h-1zM165 733h3v1h-3zM161 747h3v1h-3zM176 743h1v1h-1zM164 737h3v1h-3zM174 740h3v1h-3zM162 726h3v2h-3zM142 747h2v2h-2zM131 743h2v1h-2zM139 756h2v1h-2zM133 750h1v2h-1zM130 747h3v2h-3zM143 750h2v2h-2zM143 746h2v2h-2zM142 756h2v2h-2zM140 750h3v1h-3zM138 745h2v2h-2zM142 746h1v1h-1zM137 755h3v1h-3zM137 753h2v2h-2zM133 754h1v2h-1zM131 744h3v1h-3zM146 752h2v2h-2zM140 746h2v2h-2zM136 750h2v1h-2zM136 756h1v1h-1zM138 749h2v2h-2zM134 748h3v1h-3zM133 753h3v2h-3zM136 757h2v2h-2zM137 755h2v1h-2zM142 751h2v1h-2zM139 745h3v2h-3zM137 753h3v1h-3zM140 751h3v2h-3zM140 744h3v2h-3zM137 754h3v2h-3zM136 746h3v1h-3zM137 751h3v1h-3zM147 751h3v2h-3zM219 740h3v1h-3zM218 747h2v1h-2zM207 740h2v2h-2zM225 742h1v2h-1zM230 752h1v2h-1zM231 752h2v2h-2zM210 738h1v1h-1zM215 739h3v1h-3zM220 744h2v1h-2zM203 740h2v2h-2zM207 738h3v2h-3zM207 738h3v1h-3zM215 744h2v1h-2zM90 753h2v1h-2zM98 757h3v1h-3zM90 751h3v1h-3zM100 749h2v2h-2zM95 756h1v1h-1zM90 755h3v2h-3zM98 749h1v1h-1zM89 750h3v1h-3zM100 754h1v2h-1zM91 755h2v2h-2zM85 751h3v2h-3zM92 748h3v2h-3zM101 753h3v2h-3zM93 746h2v2h-2zM97 756h3v2h-3zM100 757h1v2h-1zM97 756h3v1h-3zM104 751h2v2h-2zM95 752h1v2h-1zM98 754h3v1h-3zM105 753h2v2h-2zM91 745h1v2h-1zM92 743h3v2h-3zM92 755h2v1h-2zM87 755h2v1h-2zM88 754h3v2h-3zM97 753h2v1h-2zM104 755h1v2h-1zM103 754h2v2h-2zM98 744h2v1h-2zM103 752h3v1h-3zM89 751h2v1h-2zM94 744h2v1h-2zM95 755h1v1h-1zM94 753h3v1h-3zM89 749h1v1h-1zM98 752h3v1h-3zM90 754h3v2h-3zM87 744h2v2h-2zM97 748h3v1h-3zM687 763h2v1h-2zM689 764h2v1h-2zM682 759h2v2h-2zM687 756h3v2h-3zM684 754h1v2h-1zM685 763h2v2h-2zM686 764h2v2h-2zM679 760h2v2h-2zM688 763h2v2h-2zM687 764h2v2h-2zM686 757h1v1h-1zM686 757h2v2h-2zM680 756h1v1h-1zM707 783h1v1h-1zM713 781h3v2h-3zM710 781h3v2h-3zM708 778h2v2h-2zM713 790h3v1h-3zM711 784h2v1h-2zM707 787h3v1h-3zM708 788h1v1h-1zM709 780h1v2h-1zM706 784h2v2h-2zM707 781h1v1h-1zM711 786h3v1h-3zM710 790h3v2h-3zM707 782h2v2h-2zM707 784h3v1h-3zM710 784h3v1h-3zM598 674h2v2h-2zM600 678h1v1h-1zM594 676h1v1h-1zM596 678h3v1h-3zM599 675h2v1h-2zM594 680h2v1h-2zM594 678h2v1h-2z" fill="#5d4f4a" shape-rendering="crispEdges"/>
<path d="M186 721h3v1h-3zM205 719h3v2h-3zM220 701h2v2h-2zM212 691h3v2h-3zM192 726h3v2h-3zM200 710h3v2h-3zM203 719h2v2h-2zM198 723h3v2h-3zM199 718h3v1h-3zM197 711h2v2h-2zM187 711h2v1h-2zM198 726h1v2h-1zM202 705h2v2h-2zM193 720h3v2h-3zM206 684h3v1h-3zM207 699h3v1h-3zM194 728h3v1h-3zM192 707h1v1h-1zM195 730h2v1h-2zM209 698h2v1h-2zM222 677h3v2h-3zM213 710h2v2h-2zM200 724h3v2h-3zM197 734h3v2h-3zM187 710h1v2h-1zM200 725h2v1h-2zM215 690h2v1h-2zM218 705h2v1h-2zM204 717h3v2h-3zM207 703h3v1h-3zM206 703h3v2h-3zM222 680h2v1h-2zM220 685h3v2h-3zM202 717h3v1h-3zM219 676h2v2h-2zM191 718h1v2h-1zM187 724h1v1h-1zM225 674h3v2h-3zM205 685h3v2h-3zM207 679h3v2h-3zM196 719h2v1h-2zM208 714h3v2h-3zM200 729h1v2h-1zM203 725h1v2h-1zM203 698h3v2h-3zM214 673h2v1h-2zM218 687h2v2h-2zM219 685h3v2h-3zM196 715h2v1h-2zM206 704h1v2h-1zM203 721h3v2h-3zM206 717h3v2h-3zM205 673h3v2h-3zM195 727h3v2h-3zM192 723h2v2h-2zM210 705h1v1h-1zM203 698h1v1h-1zM227 686h1v2h-1zM190 712h2v1h-2zM220 690h3v2h-3zM209 673h2v2h-2zM205 684h3v2h-3zM226 674h2v2h-2zM196 727h1v2h-1zM193 723h3v2h-3zM187 717h1v2h-1zM217 693h2v1h-2zM201 734h1v2h-1zM192 727h3v2h-3zM225 692h3v1h-3zM199 711h3v1h-3zM200 723h1v1h-1zM221 675h2v2h-2zM207 699h2v2h-2zM218 698h3v1h-3zM196 706h3v1h-3zM192 704h1v2h-1zM192 723h2v1h-2zM223 696h2v2h-2zM204 706h3v1h-3zM220 691h2v1h-2zM219 695h2v1h-2zM214 704h2v2h-2zM202 721h2v1h-2zM202 705h2v2h-2zM208 698h2v2h-2zM220 701h3v1h-3zM205 687h3v2h-3zM209 708h3v1h-3zM187 715h2v1h-2zM211 708h1v1h-1zM209 683h3v1h-3zM207 697h1v2h-1zM215 692h1v2h-1zM222 700h3v2h-3zM222 683h2v2h-2zM214 706h2v1h-2zM210 693h3v1h-3zM210 686h2v1h-2zM208 712h2v1h-2zM188 720h3v2h-3zM214 678h3v1h-3zM203 716h1v2h-1zM208 679h2v1h-2zM219 697h3v1h-3zM212 710h2v2h-2zM206 687h1v1h-1zM208 690h3v1h-3zM196 731h2v2h-2zM199 722h3v1h-3zM197 721h2v2h-2zM216 687h2v2h-2zM217 685h2v2h-2zM192 725h2v1h-2zM217 697h3v2h-3zM222 704h3v1h-3zM193 725h3v2h-3zM223 681h2v1h-2zM212 681h3v2h-3zM199 703h3v1h-3zM215 708h3v1h-3zM190 732h3v1h-3zM190 715h1v1h-1zM208 692h2v1h-2zM214 687h2v1h-2zM188 729h2v1h-2zM206 717h3v2h-3zM208 710h3v1h-3zM191 714h2v1h-2zM216 696h1v2h-1zM217 703h2v1h-2zM198 725h2v2h-2zM187 723h3v2h-3zM213 700h2v1h-2zM214 699h1v1h-1zM201 736h1v1h-1zM207 690h3v1h-3zM206 703h2v2h-2zM220 704h2v1h-2zM187 716h3v1h-3zM198 723h3v2h-3zM210 712h2v2h-2zM206 688h3v2h-3zM218 673h3v1h-3zM201 703h3v2h-3zM192 730h1v1h-1zM190 717h3v2h-3zM201 736h2v1h-2zM224 687h2v2h-2zM196 710h2v2h-2zM208 679h3v2h-3zM224 689h2v1h-2zM194 721h3v1h-3zM223 694h2v1h-2zM208 698h2v2h-2zM203 718h2v2h-2zM219 696h3v2h-3zM208 703h3v2h-3zM228 682h3v2h-3zM204 700h3v1h-3zM220 675h3v1h-3zM198 734h2v1h-2zM210 680h2v2h-2zM190 731h3v2h-3zM217 683h2v1h-2zM212 706h3v2h-3zM194 716h1v2h-1zM192 705h1v1h-1zM197 711h2v2h-2zM204 709h2v2h-2zM199 707h2v1h-2zM205 693h2v2h-2zM194 718h3v1h-3zM208 716h2v1h-2zM209 694h2v2h-2zM220 696h2v2h-2zM200 709h1v1h-1zM211 710h2v2h-2zM195 733h3v2h-3zM194 716h3v2h-3zM208 700h1v2h-1zM214 700h1v2h-1zM207 677h3v2h-3zM200 731h2v1h-2zM215 708h2v1h-2zM191 717h1v2h-1zM221 695h1v1h-1zM208 699h1v2h-1zM224 686h3v2h-3zM223 682h1v2h-1zM227 687h3v2h-3zM215 691h1v2h-1zM190 707h2v1h-2zM209 707h3v1h-3zM205 705h1v2h-1zM216 707h2v1h-2zM220 681h3v1h-3zM211 688h3v2h-3zM193 727h3v2h-3zM210 690h2v1h-2zM201 724h3v1h-3zM191 717h2v2h-2zM217 694h1v2h-1zM198 703h3v2h-3zM198 703h2v2h-2zM221 692h2v2h-2zM221 694h1v1h-1zM197 702h2v1h-2zM192 725h3v1h-3zM223 684h2v1h-2zM226 674h3v2h-3zM215 684h2v2h-2zM203 718h2v1h-2zM191 715h1v2h-1zM195 711h2v1h-2zM196 734h2v2h-2zM217 683h2v1h-2zM206 688h2v1h-2zM194 721h3v2h-3zM203 700h2v1h-2zM208 681h3v1h-3zM221 701h1v2h-1zM199 729h3v1h-3zM221 699h1v1h-1zM195 734h2v1h-2zM222 691h2v2h-2zM199 728h2v1h-2zM183 716h3v2h-3zM217 682h1v1h-1zM222 696h3v2h-3zM216 692h1v1h-1zM212 691h3v2h-3zM206 716h2v1h-2zM195 723h2v1h-2zM205 680h3v2h-3zM210 689h2v1h-2zM224 693h2v2h-2zM197 729h2v1h-2zM187 721h3v2h-3zM213 694h2v2h-2zM216 684h3v2h-3zM217 697h3v2h-3zM203 707h1v1h-1zM209 678h3v2h-3zM221 690h3v1h-3zM185 717h2v1h-2zM204 705h1v1h-1zM212 673h3v1h-3zM206 711h3v1h-3zM211 683h3v1h-3zM220 695h3v2h-3zM219 691h3v1h-3zM222 694h1v2h-1zM223 683h2v1h-2zM228 678h1v2h-1zM191 727h2v1h-2zM191 715h1v2h-1zM192 710h2v1h-2zM206 706h3v2h-3zM203 714h2v1h-2zM213 676h3v1h-3zM190 727h2v2h-2zM206 716h2v1h-2zM218 700h3v2h-3zM197 707h1v1h-1zM186 722h2v1h-2zM199 722h2v1h-2zM204 699h3v2h-3zM208 686h3v2h-3zM208 681h3v1h-3zM206 675h2v2h-2zM210 677h3v1h-3zM216 687h2v1h-2zM188 715h2v1h-2zM215 696h2v1h-2zM214 709h3v1h-3zM201 701h3v2h-3zM214 696h2v2h-2zM192 708h3v2h-3zM202 705h2v1h-2zM203 713h3v1h-3zM188 730h3v2h-3zM221 695h3v2h-3zM202 701h1v2h-1zM199 708h1v2h-1zM219 690h2v2h-2zM218 689h1v1h-1zM207 694h2v2h-2zM200 717h3v1h-3zM212 679h1v2h-1zM205 705h2v1h-2zM208 702h3v2h-3zM210 687h2v1h-2zM205 718h3v1h-3zM203 712h1v2h-1zM211 675h2v2h-2zM225 688h1v2h-1zM216 698h2v1h-2zM216 688h3v1h-3zM207 684h2v2h-2zM206 714h2v1h-2zM206 695h3v2h-3zM214 679h2v1h-2zM190 717h1v1h-1zM213 673h2v1h-2zM199 715h3v2h-3zM198 720h2v1h-2zM221 675h1v1h-1zM213 691h2v1h-2zM197 728h3v2h-3zM206 713h2v1h-2zM220 685h2v2h-2zM226 678h2v2h-2zM223 693h1v2h-1zM196 716h2v1h-2zM225 672h2v2h-2zM193 709h2v1h-2zM215 705h2v2h-2zM189 726h1v2h-1zM225 692h3v2h-3zM214 707h2v2h-2zM212 696h3v1h-3zM200 717h3v2h-3zM221 701h3v1h-3zM221 681h1v1h-1zM202 731h2v2h-2zM193 728h2v2h-2zM228 680h3v2h-3zM213 687h2v2h-2zM200 728h1v2h-1zM196 728h2v1h-2zM219 676h2v2h-2zM224 690h1v2h-1zM208 692h2v1h-2zM208 686h3v1h-3zM205 694h2v1h-2zM209 702h2v1h-2zM214 707h1v2h-1zM209 677h2v1h-2zM219 672h3v2h-3zM190 725h3v2h-3zM213 708h2v1h-2zM205 699h3v2h-3zM222 681h3v1h-3zM205 680h2v2h-2zM211 693h2v1h-2zM202 703h2v1h-2zM213 698h1v2h-1zM222 679h2v1h-2zM222 681h1v2h-1zM196 709h3v2h-3zM214 686h1v2h-1zM212 680h2v2h-2zM216 684h2v2h-2zM212 685h1v1h-1zM218 705h3v2h-3zM211 704h2v1h-2zM218 695h3v1h-3zM198 712h2v1h-2zM216 683h3v1h-3zM214 678h2v1h-2zM223 697h3v1h-3zM194 703h3v2h-3zM200 725h2v2h-2zM219 677h1v2h-1zM202 722h3v2h-3zM222 698h2v1h-2zM204 723h2v2h-2zM206 686h3v1h-3zM223 682h3v2h-3zM214 693h2v2h-2zM220 699h1v1h-1zM206 693h2v1h-2zM226 686h2v1h-2zM192 711h1v1h-1zM223 695h2v1h-2zM205 696h2v1h-2zM197 717h3v1h-3zM213 673h3v1h-3zM206 718h3v2h-3zM227 686h2v2h-2zM211 706h2v2h-2zM225 680h3v2h-3zM195 715h2v2h-2zM188 728h1v1h-1zM222 689h2v2h-2zM189 710h3v2h-3zM189 708h2v1h-2zM201 713h2v2h-2zM199 726h2v2h-2zM221 679h2v2h-2zM190 709h3v2h-3zM198 725h2v2h-2zM206 712h1v1h-1zM191 729h3v1h-3zM205 704h2v1h-2zM187 715h3v1h-3zM202 704h2v2h-2zM226 684h3v1h-3zM208 683h3v2h-3zM208 696h3v1h-3zM207 689h2v2h-2zM200 702h1v2h-1zM190 730h2v1h-2zM214 674h3v1h-3zM223 690h2v1h-2zM199 727h2v2h-2zM210 679h1v2h-1zM193 718h1v2h-1zM206 703h2v2h-2zM211 694h2v1h-2zM223 684h2v2h-2zM213 701h3v2h-3zM201 737h1v2h-1zM211 676h3v1h-3zM188 724h3v2h-3zM205 694h1v2h-1zM226 675h3v1h-3zM209 682h2v2h-2zM228 683h1v2h-1zM214 704h2v2h-2zM216 680h1v2h-1zM226 676h3v1h-3zM194 709h2v2h-2zM208 700h3v2h-3zM190 708h3v2h-3zM194 718h3v1h-3zM208 711h1v1h-1zM223 696h2v1h-2zM190 722h2v2h-2zM199 709h3v1h-3zM197 705h2v1h-2zM212 711h1v1h-1zM216 683h2v1h-2zM198 708h2v1h-2zM200 724h2v1h-2zM203 699h2v2h-2zM207 700h3v2h-3zM195 704h2v2h-2zM196 730h1v1h-1zM215 674h1v1h-1zM224 691h2v1h-2zM208 679h1v2h-1zM220 680h2v2h-2zM193 718h2v2h-2zM199 717h3v2h-3zM216 705h3v1h-3zM208 678h2v1h-2zM224 697h3v2h-3zM207 717h3v1h-3zM217 673h3v2h-3zM202 718h2v2h-2zM224 696h3v2h-3zM196 702h3v1h-3zM223 699h3v2h-3zM214 684h3v1h-3zM197 715h2v2h-2zM198 707h3v2h-3zM215 689h3v2h-3zM193 704h2v2h-2zM202 706h3v2h-3zM215 698h2v1h-2zM199 731h3v2h-3zM216 674h1v2h-1zM220 705h2v1h-2zM201 725h3v1h-3zM214 694h1v1h-1zM190 717h1v2h-1zM208 685h2v2h-2zM211 689h2v1h-2zM218 696h2v2h-2zM216 696h2v1h-2zM201 707h1v1h-1zM208 681h2v1h-2zM209 684h2v1h-2zM200 729h2v1h-2zM209 680h3v2h-3zM209 702h3v2h-3zM214 692h3v1h-3zM210 708h3v2h-3zM211 710h2v2h-2zM207 717h1v2h-1zM207 703h3v1h-3zM189 725h2v2h-2zM222 680h3v2h-3zM217 675h2v1h-2zM224 672h2v1h-2zM205 698h2v2h-2zM214 674h2v1h-2zM199 727h3v2h-3zM204 708h2v1h-2zM205 699h1v2h-1zM187 723h3v2h-3zM196 725h1v2h-1zM194 708h3v1h-3zM199 707h1v2h-1zM190 731h1v1h-1zM218 690h2v1h-2zM195 713h2v2h-2zM196 726h3v2h-3zM201 736h2v1h-2zM213 694h2v2h-2zM196 731h3v2h-3zM205 697h3v1h-3zM192 708h2v2h-2zM208 701h2v1h-2zM211 696h1v2h-1zM217 705h2v1h-2zM199 719h3v2h-3zM186 723h2v2h-2zM204 723h2v2h-2zM220 700h1v1h-1zM217 699h2v1h-2zM200 701h1v1h-1zM206 692h1v1h-1zM198 705h3v2h-3zM212 682h2v1h-2zM220 695h3v2h-3zM220 695h3v1h-3zM204 716h1v2h-1zM185 721h3v2h-3zM211 703h3v1h-3zM219 675h1v1h-1zM201 726h2v1h-2zM218 685h3v1h-3zM211 695h3v1h-3zM219 687h3v1h-3zM204 724h2v2h-2zM218 683h2v1h-2zM194 727h3v2h-3zM210 697h1v2h-1zM219 706h3v2h-3zM221 672h3v1h-3zM185 717h1v2h-1zM194 707h1v1h-1zM218 685h3v2h-3zM194 709h2v1h-2zM189 720h2v2h-2zM207 689h3v1h-3zM190 729h2v1h-2zM206 685h3v2h-3zM221 699h3v2h-3zM199 705h3v1h-3zM188 724h2v1h-2zM197 707h2v2h-2zM201 719h2v2h-2zM203 706h1v1h-1zM189 726h3v1h-3zM212 673h3v2h-3zM198 708h1v2h-1zM218 691h1v2h-1zM189 709h2v2h-2zM201 719h2v2h-2zM228 680h2v2h-2zM203 706h1v2h-1zM189 710h3v2h-3zM205 715h2v1h-2zM199 711h2v1h-2zM213 678h3v2h-3zM195 727h2v1h-2zM203 716h2v2h-2zM201 713h2v2h-2zM191 732h3v2h-3zM219 683h1v2h-1zM193 726h2v2h-2zM227 678h3v2h-3zM200 707h1v2h-1zM207 701h2v1h-2zM208 679h2v1h-2zM208 710h3v1h-3zM206 680h3v1h-3zM204 676h3v2h-3zM192 703h3v1h-3zM200 709h2v2h-2zM205 720h1v1h-1zM212 695h3v1h-3zM208 684h3v2h-3zM185 717h3v1h-3zM209 695h1v2h-1zM206 687h1v1h-1zM212 681h1v2h-1zM178 746h3v2h-3zM157 728h1v2h-1zM178 736h1v2h-1zM165 749h1v1h-1zM157 745h3v1h-3zM175 741h3v2h-3zM161 751h2v1h-2zM157 742h3v2h-3zM159 726h2v1h-2zM175 744h3v1h-3zM170 747h3v1h-3zM169 749h3v2h-3zM161 730h3v1h-3zM168 737h3v1h-3zM168 732h3v1h-3zM168 741h3v1h-3zM161 735h3v1h-3zM172 743h3v1h-3zM156 737h2v1h-2zM157 736h1v1h-1zM178 739h2v2h-2zM161 743h3v2h-3zM153 727h3v1h-3zM158 738h1v2h-1zM155 736h2v2h-2zM178 739h2v1h-2zM162 752h2v2h-2zM155 725h2v2h-2zM159 752h2v2h-2zM160 750h3v1h-3zM178 744h2v1h-2zM153 736h3v2h-3zM160 746h2v1h-2zM159 741h2v1h-2zM162 735h3v2h-3zM171 738h1v1h-1zM164 739h1v2h-1zM165 748h3v1h-3zM167 745h2v1h-2zM158 726h2v2h-2zM157 723h2v1h-2zM161 744h1v1h-1zM156 742h3v1h-3zM174 746h3v2h-3zM176 747h2v2h-2zM156 736h2v1h-2zM169 746h2v2h-2zM165 731h1v1h-1zM159 722h1v1h-1zM161 729h2v1h-2zM161 741h3v2h-3zM171 737h2v2h-2zM156 736h3v2h-3zM156 741h2v2h-2zM179 738h3v1h-3zM159 736h3v2h-3zM157 722h1v2h-1zM156 728h3v2h-3zM160 738h3v1h-3zM161 731h2v2h-2zM156 742h2v1h-2zM168 742h2v1h-2zM171 742h1v1h-1zM177 746h2v2h-2zM174 736h3v2h-3zM160 733h2v2h-2zM161 723h3v1h-3zM162 751h2v1h-2zM175 734h3v1h-3zM161 725h3v2h-3zM161 730h1v2h-1zM160 746h2v2h-2zM158 736h2v2h-2zM180 741h3v2h-3zM154 729h3v1h-3zM172 741h2v2h-2zM154 729h2v2h-2zM151 724h3v2h-3zM173 741h2v1h-2zM174 740h1v2h-1zM179 743h2v1h-2zM163 752h3v1h-3zM175 733h3v2h-3zM159 731h3v2h-3zM156 722h3v1h-3zM177 742h2v2h-2zM178 735h3v2h-3zM163 737h2v2h-2zM165 736h3v2h-3zM175 737h2v1h-2zM170 738h2v1h-2zM156 742h1v2h-1zM157 729h2v1h-2zM163 726h2v1h-2zM173 732h3v1h-3zM162 726h1v1h-1zM162 730h3v2h-3zM161 731h2v2h-2zM181 740h1v1h-1zM155 742h3v1h-3zM179 743h2v1h-2zM166 743h3v1h-3zM172 746h2v2h-2zM163 731h3v2h-3zM163 723h1v2h-1zM160 735h2v2h-2zM154 728h2v2h-2zM151 725h1v2h-1zM157 738h2v2h-2zM167 728h1v1h-1zM168 747h2v2h-2zM155 740h2v1h-2zM166 730h2v2h-2zM177 739h2v1h-2zM177 734h2v1h-2zM159 748h2v1h-2zM158 744h3v1h-3zM161 733h2v1h-2zM166 745h3v2h-3zM169 747h2v2h-2zM166 751h2v2h-2zM165 732h3v1h-3zM158 724h3v2h-3zM160 747h2v2h-2zM161 737h3v2h-3zM157 746h1v1h-1zM152 728h2v2h-2zM177 740h2v1h-2zM170 739h2v2h-2zM162 726h2v2h-2zM169 731h2v1h-2zM170 734h3v1h-3zM155 740h3v1h-3zM160 752h3v2h-3zM161 723h3v1h-3zM163 732h2v1h-2zM150 725h3v2h-3zM163 751h3v1h-3zM161 735h2v2h-2zM153 729h1v2h-1zM168 744h3v1h-3zM164 747h1v2h-1zM158 737h2v1h-2zM160 747h1v2h-1zM151 728h2v1h-2zM179 744h2v2h-2zM158 738h1v2h-1zM162 752h3v1h-3zM159 743h1v2h-1zM168 749h2v2h-2zM182 738h2v2h-2zM159 739h1v1h-1zM160 736h3v1h-3zM161 740h2v2h-2zM174 742h1v2h-1zM165 727h2v1h-2zM162 751h3v2h-3zM174 743h3v2h-3zM163 729h2v1h-2zM164 745h2v1h-2zM159 728h1v1h-1zM170 733h2v1h-2zM179 742h1v1h-1zM164 751h2v2h-2zM153 728h2v1h-2zM180 742h2v2h-2zM153 725h3v2h-3zM166 728h3v2h-3zM153 728h2v2h-2zM164 752h3v2h-3zM177 745h2v1h-2zM176 745h3v1h-3zM151 723h3v1h-3zM152 722h2v1h-2zM179 743h2v2h-2zM154 730h3v1h-3zM168 730h1v1h-1zM165 744h3v1h-3zM160 727h2v1h-2zM156 729h2v1h-2zM169 736h3v1h-3zM158 734h3v1h-3zM156 726h1v2h-1zM180 743h1v2h-1zM155 737h3v1h-3zM165 730h3v2h-3zM162 736h1v2h-1zM163 741h3v1h-3zM170 735h3v1h-3zM170 735h3v2h-3zM162 738h2v1h-2zM160 739h3v1h-3zM165 734h3v2h-3zM151 727h3v1h-3zM180 740h3v1h-3zM169 746h2v2h-2zM162 729h2v2h-2zM154 729h2v2h-2zM173 740h1v1h-1zM171 736h3v2h-3zM163 749h2v2h-2zM157 733h2v2h-2zM152 725h3v1h-3zM173 736h2v1h-2zM161 737h3v2h-3zM164 736h2v2h-2zM158 727h3v2h-3zM158 733h1v1h-1zM178 744h2v2h-2zM163 730h2v2h-2zM161 725h1v1h-1zM158 724h2v1h-2zM158 744h3v1h-3zM173 740h1v2h-1zM164 724h3v2h-3zM159 723h3v2h-3zM167 735h3v2h-3zM178 745h1v2h-1zM156 739h1v1h-1zM158 736h2v2h-2zM176 747h3v2h-3zM173 747h3v1h-3zM164 741h2v2h-2zM171 746h2v2h-2zM157 732h2v2h-2zM161 751h2v2h-2zM169 742h1v2h-1zM169 740h3v2h-3zM161 738h3v2h-3zM173 747h3v1h-3zM160 744h1v1h-1zM174 739h2v2h-2zM172 737h1v2h-1zM157 736h2v1h-2zM176 734h3v2h-3zM162 741h1v1h-1zM165 751h2v2h-2zM157 742h3v1h-3zM174 745h3v1h-3zM160 744h2v2h-2zM168 745h2v1h-2zM157 726h3v1h-3zM153 726h2v2h-2zM161 724h1v1h-1zM165 733h2v1h-2zM162 723h2v1h-2zM158 733h3v1h-3zM169 738h1v2h-1zM157 736h1v1h-1zM157 738h1v2h-1zM162 753h2v1h-2zM161 723h2v2h-2zM171 745h3v1h-3zM155 739h1v2h-1zM159 748h3v2h-3zM165 744h2v2h-2zM166 729h2v1h-2zM170 742h3v1h-3zM171 730h3v1h-3zM176 735h2v1h-2zM173 736h2v1h-2zM166 744h1v1h-1zM179 738h3v1h-3zM159 748h3v2h-3zM163 732h1v1h-1zM163 749h3v1h-3zM157 738h3v1h-3zM153 727h2v2h-2zM181 742h1v1h-1zM158 748h2v1h-2zM168 734h2v1h-2zM167 746h2v2h-2zM161 753h2v1h-2zM164 726h3v1h-3zM155 737h1v1h-1zM157 738h2v2h-2zM162 754h3v1h-3zM176 734h3v1h-3zM167 734h3v1h-3zM164 730h3v2h-3zM167 733h3v2h-3zM152 733h2v1h-2zM174 742h2v2h-2zM137 746h1v2h-1zM145 755h2v2h-2zM142 748h3v2h-3zM138 743h1v2h-1zM131 750h1v1h-1zM141 747h3v1h-3zM134 741h2v2h-2zM141 753h2v2h-2zM131 744h3v1h-3zM139 757h3v1h-3zM132 741h1v2h-1zM146 753h3v1h-3zM145 754h2v2h-2zM134 757h3v1h-3zM137 747h2v2h-2zM132 742h2v2h-2zM144 748h1v2h-1zM134 757h2v1h-2zM131 749h1v2h-1zM132 746h1v1h-1zM138 756h3v1h-3zM137 754h3v2h-3zM133 742h1v2h-1zM134 747h2v2h-2zM138 755h1v2h-1zM143 755h1v2h-1zM146 751h2v1h-2zM145 752h1v1h-1zM132 756h2v1h-2zM133 751h2v2h-2zM142 754h1v1h-1zM145 753h2v2h-2zM134 755h3v2h-3zM130 751h3v2h-3zM138 742h2v2h-2zM134 753h2v2h-2zM138 755h2v1h-2zM133 742h3v2h-3zM138 744h3v1h-3zM133 742h3v1h-3zM134 749h3v1h-3zM141 747h3v2h-3zM136 747h2v2h-2zM141 750h3v2h-3zM136 745h3v1h-3zM131 748h2v1h-2zM145 753h3v1h-3zM143 751h3v2h-3zM132 749h3v1h-3zM139 757h2v1h-2zM139 745h3v2h-3zM137 742h3v2h-3zM136 755h3v2h-3zM130 757h2v2h-2zM138 746h2v1h-2zM142 748h2v1h-2zM130 753h2v1h-2zM135 743h1v1h-1zM136 756h2v1h-2zM143 748h1v2h-1zM140 754h3v2h-3zM131 742h2v1h-2zM140 743h3v1h-3zM135 747h1v1h-1zM135 749h3v1h-3zM139 756h3v1h-3zM135 752h1v1h-1zM131 756h3v1h-3zM132 751h3v2h-3zM140 749h2v1h-2zM136 749h2v2h-2zM131 755h2v1h-2zM141 745h3v2h-3zM138 751h3v1h-3zM135 742h3v1h-3zM140 744h3v1h-3zM137 741h2v2h-2zM143 757h3v1h-3zM140 755h3v2h-3zM136 757h2v2h-2zM142 754h2v2h-2zM137 756h2v2h-2zM147 753h3v2h-3zM132 752h2v2h-2zM140 757h1v2h-1zM132 744h2v2h-2zM138 747h1v2h-1zM134 745h1v1h-1zM145 748h1v1h-1zM135 752h3v2h-3zM139 752h2v2h-2zM144 748h2v2h-2zM139 749h2v1h-2zM134 748h1v1h-1zM133 741h3v1h-3zM138 755h2v1h-2zM130 757h3v1h-3zM145 754h3v2h-3zM141 753h3v1h-3zM137 743h1v1h-1zM134 753h3v2h-3zM130 743h2v2h-2zM131 751h2v2h-2zM131 749h1v2h-1zM132 751h2v2h-2zM136 747h2v2h-2zM137 741h2v1h-2zM130 752h2v2h-2zM132 745h3v1h-3zM135 746h3v2h-3zM133 755h3v1h-3zM138 752h2v2h-2zM137 741h2v1h-2zM141 748h3v1h-3zM143 748h2v1h-2zM133 753h3v1h-3zM140 748h3v1h-3zM140 746h2v1h-2zM140 757h3v1h-3zM139 745h2v2h-2zM135 746h2v2h-2zM141 748h3v1h-3zM135 748h3v2h-3zM134 749h2v1h-2zM140 752h2v2h-2zM135 751h3v1h-3zM134 744h3v1h-3zM139 744h2v1h-2zM141 745h2v1h-2zM141 753h3v2h-3zM142 750h2v2h-2zM145 757h2v1h-2zM136 750h3v2h-3zM130 750h3v2h-3zM136 754h2v2h-2zM145 756h3v1h-3zM132 745h2v2h-2zM133 743h2v1h-2zM138 743h2v2h-2zM136 757h3v1h-3zM130 757h3v2h-3zM134 743h2v2h-2zM136 749h2v2h-2zM134 742h2v2h-2zM131 741h2v1h-2zM142 755h3v1h-3zM141 752h3v2h-3zM138 752h1v1h-1zM139 748h3v1h-3zM134 746h3v2h-3zM142 757h3v2h-3zM136 752h2v2h-2zM132 748h2v1h-2zM139 747h3v1h-3zM132 750h3v1h-3zM139 743h1v1h-1zM132 756h3v1h-3zM133 752h2v1h-2zM139 742h3v1h-3zM135 756h2v1h-2zM139 744h1v2h-1zM134 744h2v2h-2zM135 751h2v1h-2zM135 743h2v1h-2zM143 754h1v1h-1zM144 756h3v1h-3zM132 749h1v1h-1zM132 754h3v2h-3zM137 743h3v2h-3zM147 749h2v1h-2zM138 742h3v2h-3zM131 751h2v1h-2zM133 748h2v2h-2zM133 753h1v1h-1zM146 752h3v1h-3zM132 753h3v2h-3zM141 756h3v1h-3zM140 753h2v2h-2zM137 749h1v2h-1zM138 753h3v2h-3zM136 751h2v2h-2zM209 743h1v1h-1zM233 755h3v1h-3zM238 757h1v1h-1zM211 743h3v1h-3zM237 752h1v2h-1zM237 753h2v2h-2zM226 750h3v1h-3zM223 741h1v2h-1zM235 755h1v1h-1zM205 741h2v2h-2zM232 746h2v1h-2zM223 744h2v2h-2zM221 746h2v1h-2zM231 752h1v1h-1zM232 750h3v1h-3zM228 752h1v2h-1zM228 749h3v2h-3zM232 750h3v2h-3zM214 741h2v1h-2zM225 750h3v1h-3zM231 747h2v1h-2zM219 742h3v2h-3zM224 748h1v2h-1zM213 739h3v1h-3zM205 738h2v1h-2zM235 752h3v1h-3zM218 744h3v1h-3zM212 744h3v2h-3zM230 750h2v2h-2zM204 740h2v2h-2zM206 737h3v2h-3zM212 742h1v1h-1zM202 736h2v1h-2zM222 748h3v2h-3zM219 741h2v2h-2zM217 741h1v2h-1zM209 740h3v1h-3zM212 743h1v2h-1zM228 745h3v2h-3zM222 746h1v2h-1zM219 745h1v1h-1zM228 750h2v2h-2zM229 745h3v1h-3zM204 741h1v2h-1zM230 753h1v1h-1zM233 748h3v1h-3zM239 755h2v2h-2zM233 747h3v1h-3zM212 744h3v1h-3zM229 748h3v2h-3zM208 740h1v2h-1zM217 739h2v1h-2zM230 745h2v1h-2zM232 752h1v2h-1zM235 750h3v1h-3zM231 746h3v1h-3zM222 747h3v2h-3zM236 755h1v1h-1zM214 742h3v2h-3zM201 737h3v2h-3zM227 743h3v2h-3zM207 742h3v2h-3zM222 743h3v2h-3zM233 749h1v2h-1zM233 748h3v1h-3zM230 751h3v1h-3zM87 753h2v2h-2zM98 749h2v2h-2zM98 757h3v2h-3zM87 749h2v2h-2zM92 753h2v1h-2zM96 746h3v1h-3zM97 745h2v1h-2zM87 757h2v2h-2zM94 756h3v1h-3zM102 753h3v2h-3zM87 748h2v1h-2zM93 751h3v1h-3zM99 747h2v1h-2zM95 743h2v1h-2zM87 750h3v1h-3zM98 751h2v1h-2zM96 749h3v2h-3zM101 757h2v1h-2zM92 744h2v1h-2zM104 756h3v2h-3zM92 743h1v1h-1zM103 751h2v1h-2zM91 756h2v2h-2zM103 757h2v2h-2zM98 744h3v1h-3zM102 748h3v2h-3zM94 743h3v1h-3zM90 754h3v2h-3zM94 755h2v1h-2zM101 756h2v2h-2zM96 746h3v2h-3zM102 757h2v2h-2zM94 747h3v1h-3zM88 751h2v1h-2zM90 747h3v2h-3zM94 753h2v1h-2zM99 749h3v2h-3zM95 753h1v1h-1zM94 756h2v2h-2zM102 751h3v2h-3zM88 748h2v1h-2zM89 753h2v2h-2zM97 754h3v2h-3zM90 751h3v1h-3zM98 754h3v1h-3zM100 747h2v1h-2zM86 751h3v1h-3zM91 752h1v2h-1zM91 757h3v1h-3zM96 756h3v1h-3zM102 747h2v1h-2zM100 753h2v1h-2zM104 756h1v1h-1zM88 749h3v1h-3zM91 753h1v1h-1zM98 747h2v1h-2zM102 749h3v1h-3zM104 752h3v1h-3zM95 746h2v1h-2zM89 749h3v1h-3zM98 750h2v2h-2zM95 753h3v1h-3zM97 757h2v2h-2zM92 752h2v2h-2zM88 757h3v1h-3zM102 753h2v2h-2zM90 749h2v1h-2zM86 747h2v1h-2zM89 755h3v1h-3zM86 752h3v2h-3zM104 751h3v2h-3zM103 754h3v1h-3zM91 757h1v2h-1zM100 751h2v1h-2zM102 753h3v2h-3zM104 753h3v2h-3zM96 757h3v2h-3zM85 747h2v1h-2zM101 752h1v2h-1zM95 743h1v1h-1zM93 748h3v2h-3zM86 752h3v1h-3zM88 753h1v2h-1zM91 749h1v2h-1zM102 755h3v2h-3zM96 750h3v1h-3zM95 749h3v1h-3zM104 751h3v1h-3zM102 750h2v2h-2zM90 754h3v2h-3zM87 754h3v2h-3zM87 747h2v1h-2zM102 747h2v2h-2zM96 750h3v1h-3zM106 751h3v2h-3zM100 751h3v1h-3zM104 756h2v1h-2zM89 747h3v1h-3zM101 749h3v1h-3zM97 748h3v2h-3zM93 751h2v1h-2zM93 752h3v1h-3zM90 750h3v2h-3zM85 744h1v2h-1zM103 757h1v2h-1zM100 750h3v1h-3zM101 750h3v1h-3zM87 749h1v1h-1zM89 754h3v1h-3zM94 750h2v2h-2zM101 750h3v1h-3zM87 744h3v2h-3zM87 756h2v2h-2zM86 755h1v2h-1zM97 749h2v2h-2zM103 751h1v2h-1zM104 754h2v2h-2zM100 757h3v1h-3zM87 743h2v2h-2zM97 749h3v2h-3zM103 748h3v1h-3zM104 750h3v2h-3zM99 751h3v2h-3zM85 744h3v2h-3zM101 748h2v1h-2zM99 745h2v2h-2zM106 752h3v1h-3zM90 754h1v1h-1zM98 748h1v2h-1zM97 751h3v2h-3zM87 756h2v1h-2zM86 749h3v2h-3zM89 747h1v1h-1zM86 750h2v2h-2zM95 751h3v2h-3zM88 750h3v1h-3zM85 750h2v2h-2zM97 753h2v2h-2zM84 743h1v1h-1zM100 754h1v2h-1zM89 744h2v2h-2zM88 754h2v1h-2zM97 747h3v1h-3zM87 753h3v2h-3zM98 747h2v1h-2zM91 744h3v1h-3zM87 750h2v1h-2zM87 754h3v1h-3zM97 756h3v1h-3zM101 751h2v2h-2zM683 761h1v1h-1zM683 752h3v2h-3zM679 756h3v1h-3zM682 760h3v1h-3zM688 761h2v2h-2zM683 756h2v1h-2zM683 764h3v1h-3zM685 756h2v2h-2zM685 765h3v1h-3zM684 753h3v2h-3zM682 764h2v1h-2zM679 757h3v2h-3zM686 754h2v2h-2zM683 753h3v1h-3zM682 763h2v2h-2zM683 757h1v1h-1zM687 763h3v2h-3zM684 752h2v1h-2zM686 752h1v1h-1zM686 758h3v2h-3zM680 762h2v1h-2zM682 754h3v2h-3zM685 754h2v1h-2zM687 756h2v1h-2zM679 754h2v2h-2zM683 751h3v1h-3zM683 761h3v2h-3zM683 763h1v1h-1zM685 762h3v1h-3zM683 759h2v1h-2zM686 758h2v2h-2zM685 764h1v2h-1zM679 752h3v2h-3zM681 762h2v2h-2zM680 761h1v2h-1zM679 760h3v1h-3zM680 757h1v2h-1zM683 754h1v2h-1zM682 759h1v1h-1zM687 762h2v2h-2zM687 760h2v1h-2zM680 751h2v2h-2zM681 751h1v1h-1zM684 761h3v1h-3zM686 763h3v2h-3zM679 750h1v2h-1zM681 761h3v1h-3zM683 765h3v2h-3zM684 764h3v1h-3zM687 760h1v2h-1zM682 763h3v2h-3zM683 755h1v2h-1zM686 760h1v1h-1zM679 759h2v2h-2zM685 763h3v2h-3zM688 761h3v2h-3zM678 759h2v1h-2zM684 754h2v2h-2zM684 765h3v1h-3zM687 761h2v1h-2zM681 763h2v1h-2zM686 762h1v1h-1zM683 757h2v2h-2zM683 759h2v1h-2zM686 762h1v2h-1zM681 755h2v2h-2zM710 780h2v1h-2zM712 785h2v1h-2zM708 780h2v1h-2zM712 789h2v2h-2zM706 783h3v2h-3zM711 779h2v1h-2zM712 789h2v2h-2zM708 783h3v2h-3zM708 781h3v2h-3zM714 787h1v2h-1zM707 784h2v2h-2zM714 783h3v1h-3zM705 785h3v1h-3zM712 783h3v2h-3zM711 782h2v1h-2zM708 786h2v1h-2zM704 779h3v2h-3zM711 782h1v1h-1zM713 789h3v1h-3zM705 786h3v2h-3zM707 783h2v2h-2zM707 781h3v1h-3zM712 780h3v2h-3zM713 787h3v2h-3zM714 783h2v2h-2zM711 785h1v1h-1zM707 784h1v2h-1zM707 789h2v2h-2zM705 780h2v1h-2zM707 784h1v1h-1zM711 785h3v1h-3zM709 788h2v2h-2zM711 789h3v2h-3zM713 786h1v1h-1zM707 789h3v1h-3zM709 779h3v2h-3zM709 782h2v2h-2zM709 784h2v2h-2zM710 785h2v2h-2zM709 789h3v2h-3zM714 783h2v1h-2zM710 779h2v1h-2zM712 790h2v2h-2zM713 785h3v2h-3zM710 785h3v1h-3zM712 780h3v1h-3zM706 786h3v1h-3zM706 786h2v1h-2zM712 781h1v2h-1zM711 780h3v1h-3zM712 778h3v2h-3zM710 789h1v2h-1zM711 780h2v1h-2zM710 785h1v2h-1zM705 787h3v2h-3zM707 789h2v1h-2zM705 779h2v1h-2zM708 791h3v1h-3zM710 790h3v2h-3zM706 789h2v1h-2zM711 780h2v1h-2zM708 787h2v1h-2zM704 779h1v1h-1zM706 785h3v2h-3zM710 781h3v2h-3zM704 778h2v2h-2zM709 787h1v2h-1zM705 782h2v1h-2zM708 789h2v2h-2zM706 778h3v1h-3zM707 784h1v2h-1zM708 784h3v1h-3zM712 781h2v2h-2zM712 785h1v1h-1zM708 779h2v1h-2zM602 678h3v2h-3zM593 679h2v2h-2zM597 682h1v2h-1zM600 674h2v1h-2zM595 678h2v2h-2zM596 679h2v1h-2zM599 674h3v2h-3zM598 674h2v1h-2zM597 675h2v2h-2zM597 680h3v1h-3zM593 677h3v1h-3zM594 683h1v2h-1zM601 678h3v2h-3zM597 675h2v2h-2zM598 679h2v1h-2zM601 677h1v1h-1zM592 679h1v1h-1zM599 682h3v2h-3zM601 678h2v1h-2zM591 677h3v1h-3zM593 682h3v2h-3zM595 681h3v1h-3zM601 680h2v1h-2zM600 681h3v2h-3zM593 678h1v1h-1zM592 676h3v2h-3zM600 679h2v1h-2zM596 682h3v2h-3zM598 675h1v2h-1zM598 678h3v1h-3zM599 681h3v1h-3zM596 674h3v1h-3zM599 676h2v2h-2zM600 681h2v1h-2zM598 678h3v1h-3zM595 677h1v2h-1zM594 679h2v2h-2zM594 679h1v2h-1zM592 677h3v2h-3zM594 682h3v1h-3zM598 676h3v1h-3z" fill="#000" shape-rendering="crispEdges"/>
<path d="M228.5 662.7 L235.8 664.5" stroke="#000" stroke-width="1.6" stroke-dasharray="3 2" shape-rendering="crispEdges"/>
<path d="M241.1 664.9 L244.4 664.5" stroke="#000" stroke-width="1.6" stroke-dasharray="3 2" shape-rendering="crispEdges"/>
<path d="M247.7 662.0 L250.9 661.4" stroke="#000" stroke-width="1.6" stroke-dasharray="3 2" shape-rendering="crispEdges"/>
<path d="M257.5 661.4 L265.4 662.3 L274.7 663.6" stroke="#000" stroke-width="1.6" stroke-dasharray="3 2" shape-rendering="crispEdges"/>
<path d="M277.3 664.7 L285.2 665.3" stroke="#000" stroke-width="1.6" stroke-dasharray="3 2" shape-rendering="crispEdges"/>
<path d="M305.0 660.3 L308.3 662.7" stroke="#000" stroke-width="1.6" stroke-dasharray="3 2" shape-rendering="crispEdges"/>
<path d="M249.6 678.8 L252.9 682.7 L254.2 689.3 L252.9 697.2 L250.9 703.8 L247.7 709.1 L243.7 713.0 L239.1 717.0" stroke="#000" stroke-width="1.6" stroke-dasharray="3 2" shape-rendering="crispEdges"/>
<path d="M241.7 701.2 L245.7 695.9 L249.6 693.3" stroke="#000" stroke-width="1.6" stroke-dasharray="3 2" shape-rendering="crispEdges"/>
<path d="M299.4 59.2 L300.6 61.4 L302.8 62.9 L305.2 62.3 L306.2 60.2 L307.1 58.0 L308.9 57.1 L310.5 58.6 L310.5 62.3 L310.8 68.5 L312.6 70.9 L314.2 74.6 L314.5 78.9 L314.5 83.2 L316.3 86.3 L318.8 88.8 L320.6 91.8 L321.8 94.9 L322.5 96.8 L323.7 94.3 L323.4 90.6 L321.8 87.5 L320.3 84.5 L319.1 80.8 L319.1 77.1 L320.3 74.0 L323.1 73.4 L323.7 71.5 L321.2 70.9 L318.8 70.3 L316.9 67.2 L315.7 62.3 L314.5 58.0 L311.4 56.2 L308.3 55.2 L305.8 55.5 L304.0 57.4 L303.1 60.2 L301.2 60.5 L300.0 59.2 Z" fill="#2d4a6b"/>
<path d="M368.0 261.9 L369.3 260.3 L371.4 259.3 L373.6 258.0 L375.5 258.2 L377.7 259.3 L379.4 260.8 L381.1 262.5 L382.4 264.0 L385.0 264.9 L387.6 266.2 L390.2 266.8 L391.0 268.5 L391.5 270.3 L393.6 272.0 L395.3 273.5 L396.6 275.9 L396.9 276.9 L395.3 276.5 L393.2 275.4 L391.5 273.7 L389.3 272.4 L387.6 270.7 L385.4 269.8 L383.3 269.0 L381.3 268.5 L380.7 266.8 L378.5 266.8 L377.2 265.3 L378.1 264.2 L376.4 262.5 L374.7 261.4 L372.9 261.0 L371.2 260.8 L369.9 261.9 L368.8 262.9 Z" fill="#2d4a6b"/>
<path d="M614.0 285.2 L614.8 286.9 L614.3 288.6 L616.2 287.7 L617.3 286.9 L617.9 288.9 L618.7 290.0 L617.6 291.1 L615.7 290.8 L615.4 292.2 L616.8 292.7 L614.8 293.6 L615.4 294.9 L618.2 295.2 L621.5 294.9 L623.7 294.4 L624.3 292.7 L622.6 291.6 L620.9 292.2 L620.4 291.1 L621.5 290.0 L620.4 288.3 L620.4 286.4 L621.8 286.4 L622.6 288.3 L623.1 290.5 L624.8 292.2 L626.5 293.0 L628.1 293.3 L626.7 294.7 L625.9 296.3 L624.3 297.2 L623.7 299.4 L622.0 300.2 L620.4 301.0 L620.7 302.7 L619.3 303.3 L618.2 304.9 L617.1 306.6 L615.4 307.7 L615.9 309.9 L616.8 310.5 L614.8 311.0 L613.2 311.3 L612.1 311.0 L610.4 311.8 L609.9 313.2 L607.9 313.8 L606.5 313.0 L606.5 311.0 L605.7 309.3 L604.3 308.2 L604.2 306.6 L605.1 306.0 L606.5 307.1 L607.9 308.2 L609.3 307.7 L609.6 306.0 L609.3 304.1 L610.7 305.2 L612.1 306.0 L613.7 305.2 L614.6 303.8 L614.6 301.6 L615.4 299.9 L614.8 298.3 L612.6 297.7 L612.1 295.5 L612.3 293.8 L613.2 292.2 L614.0 290.5 L612.3 289.4 L612.3 288.3 L613.2 287.5 Z" fill="#2d4a6b"/>
<path d="M526.4 502.1 L527.7 502.5 L528.1 505.1 L530.3 506.4 L532.0 503.8 L532.8 500.8 L534.1 501.2 L533.7 505.1 L532.4 508.1 L531.1 511.6 L530.3 515.9 L529.4 519.3 L529.0 523.6 L530.7 526.2 L532.4 527.5 L535.0 525.3 L537.2 524.9 L535.0 527.5 L532.4 530.1 L534.1 532.2 L535.0 534.4 L533.3 537.0 L532.8 538.7 L530.7 537.8 L529.0 535.7 L528.5 533.5 L525.1 531.4 L527.2 529.7 L527.7 526.6 L526.8 524.1 L526.4 521.0 L525.1 519.3 L525.9 516.7 L527.7 515.0 L528.5 511.6 L529.4 508.5 L527.2 506.8 L526.2 504.7 Z" fill="#2d4a6b"/>
<path d="M136.0 657.3 L136.7 660.4 L136.2 663.4 L134.7 666.0 L132.3 667.7 L129.5 668.2 L126.6 667.5 L124.1 665.7 L122.3 663.1 L121.7 660.0 L122.1 656.9 L123.6 654.4 L126.0 652.7 L128.8 652.2 L131.7 652.9 L134.2 654.7 Z" fill="#2d4a6b"/>
<path d="M145.2 697.1 L151.3 695.9 L153.8 700.8 L152.6 707.0 L147.6 710.7 L143.9 714.4 L140.2 710.7 L142.7 704.5 Z" fill="#2d4a6b"/>
<path d="M42.9 681.1 L46.6 679.9 L50.3 684.8 L51.6 688.5 L47.9 689.7 L44.2 686.0 Z" fill="#2d4a6b"/>
<path d="M57.7 691.0 L60.2 686.0 L62.7 692.2 L65.1 698.4 L70.0 702.1 L77.4 703.3 L83.6 705.8 L84.3 709.4 L78.7 709.0 L71.3 707.0 L65.1 705.8 L60.2 700.8 L58.2 695.9 Z" fill="#2d4a6b"/>
<path d="M541.5 613.4 L546.4 610.9 L548.9 606.0 L553.8 607.2 L555.0 610.9 L558.7 609.7 L563.6 610.4 L563.6 613.4 L556.2 614.6 L551.3 617.1 L547.6 619.5 L542.7 618.3 Z" fill="#2d4a6b"/>
<path d="M438.3 377.1 L440.9 371.0 L445.2 367.6 L447.8 363.3 L451.2 365.9 L448.6 370.2 L445.2 373.6 L443.4 377.1 L440.0 377.9 Z" fill="#2d4a6b"/>
<path d="M424.1 413.3 L426.2 415.9 L427.1 421.0 L428.8 426.2 L431.4 428.8 L430.5 434.0 L427.9 433.1 L427.1 427.9 L425.3 422.8 L424.1 417.6 Z" fill="#2d4a6b"/>
<g stroke="#897200" stroke-width="0.8" shape-rendering="crispEdges">
<path d="M182.1 6.0 L193.2 18.3 L199.3 38.0 L200.6 70.0 L196.9 99.6 L188.3 111.9 L183.3 134.1 L176.0 148.9 L174.7 156.2 L158.7 178.4 L145.2 206.0"/>
<path d="M240.5 6.0 L230.6 18.3 L228.2 35.6 L225.7 52.8 L215.9 65.1 L206.0 68.8 L200.6 70.0"/>
<path d="M240.5 6.0 L247.9 15.9 L259.0 30.6 L263.9 47.9 L271.3 57.7 L287.3 60.7 L299.6 54.0 L309.4 54.0 L324.2 62.7 L339.0 73.7 L353.8 84.8 L361.9 90.0"/>
<path d="M206.0 203.0 L220.8 190.7 L242.9 178.4 L270.0 168.6 L304.5 162.4 L334.1 158.7 L340.0 156.7"/>
<path d="M400.8 159.9 L398.1 168.6 L396.9 206.0"/>
<path d="M472.5 6.0 L471.3 23.2 L465.1 45.4 L454.0 55.3 L434.3 60.2 L429.4 70.0 L425.7 82.4 L421.3 91.0"/>
<path d="M479.9 137.3 L482.4 139.0 L500.6 136.8"/>
<path d="M427.4 159.9 L442.9 178.4 L449.1 190.7 L462.7 203.0 L466.3 206.0"/>
<path d="M588.3 6.0 L587.0 20.8 L595.7 35.6 L603.0 45.4 L606.0 59.0"/>
<path d="M806.0 72.5 L788.3 77.4 L773.5 82.4 L758.7 88.5 L743.9 95.9 L729.2 104.5 L714.4 114.4 L702.1 121.8"/>
<path d="M659.0 141.5 L666.3 151.3 L672.5 153.8 L673.7 163.6 L682.4 171.0 L684.8 183.3 L691.0 188.3 L704.5 189.5 L714.4 189.5 L734.1 184.6 L753.8 180.9 L776.0 176.0 L793.2 173.5 L806.0 174.7"/>
<path d="M714.4 189.5 L721.8 200.6 L726.7 206.0"/>
<path d="M6.0 257.0 L35.6 255.3 L62.7 250.3 L84.8 242.9 L109.4 235.6 L134.1 226.9 L153.8 223.7 L161.2 225.7"/>
<path d="M161.2 222.0 L173.5 221.3 L176.0 226.9 L173.5 230.6 L162.4 231.1 L160.7 226.9 L161.2 222.0"/>
<path d="M176.0 224.5 L190.7 212.2 L206.0 202.8"/>
<path d="M145.2 206.0 L150.1 215.9 L153.8 223.7"/>
<path d="M164.9 230.6 L167.3 250.3 L169.8 267.6 L173.5 284.8 L172.3 304.5 L174.7 321.8 L177.2 339.0 L180.9 356.2 L183.3 373.5 L182.1 388.3 L177.2 406.0"/>
<path d="M396.9 206.0 L398.6 225.7 L395.7 242.9 L393.2 257.7 L396.9 275.0 L395.7 299.6 L399.3 316.8 L401.8 336.5"/>
<path d="M465.1 206.0 L472.5 214.6 L479.9 223.2 L484.8 230.6 L497.1 236.8 L504.5 239.3"/>
<path d="M504.5 239.3 L498.4 250.3 L495.9 262.7 L487.3 277.4 L477.4 294.7 L467.6 309.4 L457.7 324.2 L447.9 334.1 L435.6 342.7"/>
<path d="M526.7 236.0 L521.8 238.0 L514.4 235.6 L504.5 239.3"/>
<path d="M521.8 238.0 L526.7 245.4 L534.1 250.3 L536.5 262.7 L541.5 277.4 L545.2 292.2 L551.3 300.8"/>
<path d="M584.6 293.4 L581.4 299.6"/>
<path d="M543.9 351.3 L524.2 355.0 L511.9 356.2 L499.6 358.7 L479.9 362.4"/>
<path d="M635.6 311.9 L650.3 304.5 L665.1 294.7 L679.9 284.8 L694.7 279.9 L709.4 273.7 L716.8 270.0 L726.7 257.7 L739.0 254.0 L751.3 247.9 L763.6 240.5 L778.4 233.1 L793.2 226.9 L806.0 222.0"/>
<path d="M726.7 206.0 L734.1 213.4 L743.9 215.9 L753.8 228.2 L758.7 240.5 L763.6 255.3 L768.6 275.0 L769.8 279.9"/>
<path d="M739.0 254.0 L743.9 265.1 L756.2 272.5 L768.6 279.9 L778.4 287.3 L788.3 297.1 L798.1 304.5 L806.0 308.2"/>
<path d="M638.0 363.6 L660.2 367.3 L682.4 368.6 L704.5 371.0 L724.2 372.3 L743.9 373.5 L756.2 371.0 L766.1 363.6 L778.4 358.7 L793.2 351.3 L803.0 343.9 L806.0 339.0"/>
<path d="M606.0 395.7 L608.5 403.0 L610.9 406.0"/>
<path d="M6.0 460.7 L20.8 462.2 L35.6 463.9 L55.3 466.3 L75.0 471.3 L89.7 476.2 L99.6 475.0 L114.4 473.0 L134.1 473.0 L143.9 476.2 L148.9 479.4 L153.8 479.9 L168.6 479.9 L183.3 478.7 L198.1 476.2 L206.0 475.7"/>
<path d="M177.2 406.0 L171.0 413.4 L163.6 428.2 L161.2 442.9 L158.7 455.3 L153.8 470.0 L151.3 479.9 L146.4 487.3 L139.0 499.6 L135.3 511.9 L132.8 529.2 L130.4 546.4 L129.2 563.6 L127.9 583.3 L126.7 600.6 L126.0 606.0"/>
<path d="M147.6 479.9 L146.4 473.7 L155.0 468.8 L153.8 479.9"/>
<path d="M340.2 406.0 L329.2 418.3 L316.8 430.6 L304.5 442.9 L297.1 455.3 L287.3 463.9 L277.4 468.8 L260.2 473.7 L242.9 474.5 L220.8 475.5 L206.0 476.2"/>
<path d="M260.2 473.7 L252.8 484.8 L247.9 499.6 L240.5 511.9 L235.6 521.8 L230.6 534.1 L220.8 546.4 L215.9 556.2 L214.6 573.5 L210.9 588.3 L206.0 600.6"/>
<path d="M406.0 535.3 L398.1 546.4 L388.3 558.7 L378.4 566.1 L366.1 576.0 L353.8 584.6 L343.9 593.2 L329.2 598.1 L316.8 600.6 L309.4 606.0"/>
<path d="M439.3 472.0 L460.2 471.3 L479.9 465.1 L497.1 457.7 L510.7 449.1 L519.3 435.6 L526.7 425.7 L534.1 417.1 L542.7 410.9 L545.2 406.0"/>
<path d="M439.3 472.0 L435.6 482.4 L428.2 497.1 L420.8 511.9 L413.4 524.2 L406.0 535.3"/>
<path d="M610.9 406.0 L618.3 413.4 L626.9 422.0 L633.1 429.4 L636.8 431.9"/>
<path d="M626.9 422.0 L630.6 430.6 L633.1 436.8 L631.9 440.5 L636.8 431.9"/>
<path d="M636.8 431.9 L645.4 438.0 L650.3 445.4 L665.1 452.8 L682.4 459.0 L699.6 463.9 L714.4 466.3 L734.1 468.8 L753.8 472.5 L773.5 478.7 L788.3 484.8 L800.6 488.5 L806.0 494.7"/>
<path d="M631.9 440.5 L630.6 455.3 L629.4 475.0 L629.4 494.7 L630.6 509.4 L634.3 521.8 L640.5 534.1 L646.6 546.4 L649.1 561.2 L652.8 576.0 L656.5 590.7 L659.0 606.0"/>
<path d="M806.0 536.5 L803.0 543.9 L800.6 558.7 L795.7 573.5 L788.3 588.3 L785.8 600.6 L784.6 606.0"/>
<path d="M6.0 614.6 L10.9 620.8 L13.9 630.6 L14.6 659.0"/>
<path d="M6.0 661.4 L14.6 659.0 L30.6 652.8 L47.9 647.9 L65.1 644.2 L87.3 644.2 L104.5 641.7 L124.2 640.5 L143.9 641.7 L163.6 646.6 L178.4 652.8 L185.8 655.3 L206.0 654.0"/>
<path d="M89.7 646.6 L94.7 660.2 L104.5 668.8 L116.8 672.5 L131.6 673.7 L143.9 679.9 L158.7 684.8 L163.6 683.6 L173.5 675.0 L183.3 665.1 L188.3 655.3"/>
<path d="M126.0 606.0 L126.7 625.7 L129.2 640.5 L134.1 652.8 L132.8 672.5"/>
<path d="M206.0 612.2 L200.6 620.8 L195.7 633.1 L190.7 642.9 L185.8 655.3"/>
<path d="M206.0 652.8 L220.8 647.9 L238.0 644.2 L255.3 642.9 L270.0 642.9 L284.8 640.5 L299.6 634.3 L305.8 629.4 L307.0 615.9 L311.9 606.0"/>
<path d="M308.2 623.2 L329.2 624.5 L343.9 628.2 L358.7 631.9 L368.6 636.8 L378.4 638.0 L388.3 633.1 L398.1 625.7 L406.0 622.0"/>
<path d="M406.0 620.3 L420.8 618.3 L435.6 619.5 L442.9 616.3 L455.3 619.5 L467.6 618.3 L477.4 614.6 L492.2 615.9 L514.4 616.3 L524.2 619.5 L543.9 626.9 L558.7 630.6 L573.5 636.8 L588.3 639.3 L606.0 638.0"/>
<path d="M606.0 638.0 L625.7 640.5 L645.4 645.4 L665.1 650.3 L684.8 655.3 L704.5 659.0 L724.2 660.2 L743.9 659.0 L763.6 656.5 L778.4 654.0 L788.3 652.8"/>
<path d="M659.0 606.0 L665.1 620.8 L675.0 633.1 L687.3 647.9 L699.6 659.0 L709.4 670.0 L714.4 684.8 L719.3 699.6 L726.7 711.9 L734.1 721.8 L741.5 736.5 L746.4 753.8 L750.1 773.5 L753.8 790.7"/>
<path d="M785.3 600.0 L786.5 614.8 L787.8 629.6 L784.1 641.9 L781.6 649.3 L785.3 659.2 L793.9 666.6 L800.1 678.9 L806.0 693.7"/>
<path d="M781.6 653.0 L782.8 664.1 L789.0 667.8"/>
<path d="M401.2 340.0 L402.1 357.2 L402.9 374.5 L405.5 381.4 L403.8 391.7 L406.4 402.1 L410.7 414.1 L417.6 426.2 L422.8 438.3 L427.9 450.3 L434.0 464.1 L439.1 472.8"/>
<path d="M340.0 406.4 L350.3 401.2 L360.7 399.5 L372.8 396.0 L381.4 391.7 L388.3 384.8 L391.7 374.5 L396.9 369.3 L402.9 368.4 L409.0 368.4 L415.9 367.6"/>
<path d="M405.5 381.4 L412.4 371.0 L415.9 362.4 L422.8 356.4 L431.4 348.6 L441.7 340.0"/>
<path d="M415.9 367.6 L429.7 363.3 L443.4 362.4 L460.7 364.1 L480.0 362.4"/>
<path d="M388.3 386.6 L398.6 384.8 L405.5 381.4"/>
<path d="M362.1 90.0 L369.5 98.6 L375.7 104.8 L381.8 109.1 L389.2 114.6 L395.4 118.9 L401.5 121.4 L404.6 125.7 L405.2 131.8"/>
<path d="M421.8 90.0 L418.7 96.2 L415.0 102.9 L410.7 109.7 L408.9 114.6 L410.7 120.8 L408.9 125.7 L405.2 131.8"/>
<path d="M381.8 109.1 L389.2 102.9 L394.1 99.2 L400.3 99.2 L408.9 101.1 L415.0 102.9 L423.7 105.4 L431.0 108.5 L435.3 112.8 L436.6 122.0 L437.2 129.4 L435.3 136.7 L432.3 144.1 L430.4 151.5 L428.6 158.9 L427.3 160.0"/>
<path d="M381.8 109.1 L376.9 114.6 L373.2 120.8 L368.9 128.1 L365.8 134.3 L365.8 140.4 L368.3 146.0 L372.0 151.5 L375.7 156.4 L378.1 160.0 L380.6 165.0"/>
<path d="M340.0 158.9 L346.2 152.7 L353.5 149.0 L362.1 147.2 L369.5 146.6 L375.7 144.1 L381.8 141.7 L388.0 141.7 L392.9 140.4 L396.6 136.7 L401.5 134.9 L405.2 132.4"/>
<path d="M405.2 132.4 L408.9 136.1 L415.0 136.1 L421.2 133.7 L431.0 132.4 L438.4 132.4 L447.0 131.2 L455.6 133.1 L463.0 133.7 L470.4 134.9 L480.0 137.4"/>
<path d="M405.2 132.4 L406.4 139.2 L405.2 145.4 L402.7 152.7 L400.9 160.0"/>
<path d="M408.9 136.7 L411.3 142.9 L416.3 147.8 L421.2 152.7 L424.9 157.0 L427.3 160.0"/>
<path d="M606.2 75.2 L603.4 90.0 L604.3 96.5 L597.9 102.9 L590.5 110.3 L595.1 117.7 L596.0 124.2 L603.4 132.5 L609.0 138.0 L612.7 145.4 L615.4 149.1 L620.0 147.2"/>
<path d="M496.3 136.2 L500.0 137.1 L516.6 137.1 L522.2 141.7 L536.9 150.9 L549.9 158.3 L564.6 157.4 L579.4 160.2 L592.3 160.2 L603.4 154.6 L612.7 150.9 L618.2 148.2"/>
<path d="M593.3 160.2 L583.1 171.3 L573.9 182.3 L564.6 195.3 L555.4 208.2 L546.2 219.3 L536.9 226.7 L522.2 235.9"/>
<path d="M620.0 147.2 L629.3 149.1 L642.2 150.0 L651.4 146.3 L658.8 142.6 L666.2 136.2 L675.4 131.6 L686.5 127.9 L693.9 123.2 L700.0 117.7"/>
<path d="M580.6 334.5 L586.8 335.1 L593.0 335.7 L594.2 341.9 L594.2 349.3 L594.8 353.0 L591.7 354.8 L586.8 357.3 L583.1 359.1 L578.8 359.1 L575.7 355.4 L575.1 349.3 L575.7 343.1 L578.2 338.2 L580.6 334.5"/>
<path d="M551.1 300.0 L556.0 306.2 L557.2 314.8 L560.9 319.7 L568.3 321.6 L570.2 325.9 L573.3 332.0 L576.9 336.9 L580.0 341.9 L583.1 345.6 L583.1 350.5"/>
<path d="M580.6 300.0 L576.9 304.9 L573.9 311.1 L572.0 317.2 L570.2 325.9"/>
<path d="M635.4 316.0 L631.1 317.2 L623.7 319.7 L616.4 321.6 L610.2 322.8 L606.5 327.7 L600.3 332.6 L593.0 335.7 L589.3 339.4 L584.3 344.3 L583.1 350.5"/>
<path d="M540.0 352.3 L547.4 352.3 L556.0 350.5 L563.4 348.0 L570.8 347.4 L575.7 349.3 L583.1 350.5"/>
<path d="M583.1 350.5 L589.3 352.3 L594.8 353.0 L605.3 353.6 L609.0 357.3 L615.1 360.3 L623.7 361.6 L631.1 361.0 L638.0 363.5"/>
<path d="M583.1 357.9 L576.9 362.8 L572.0 366.5 L565.9 370.2 L559.7 376.4 L554.8 383.7 L552.3 392.4 L548.6 400.0 L546.4 406.0"/>
<path d="M583.1 350.5 L582.5 357.9 L584.3 362.8 L589.3 366.5 L594.2 369.0 L597.9 375.1 L601.6 381.3 L604.0 388.7 L606.5 396.1 L607.7 400.0"/>
<path d="M586.8 357.3 L589.3 361.6 L590.5 366.5"/>
<path d="M582.5 355.4 L579.4 358.5"/>
</g>
<g stroke="#000" stroke-width="0.85" shape-rendering="crispEdges">
<path d="M6.0 105.3 L155.0 105.3 L161.2 114.4 L156.7 128.4 L147.6 134.1 L138.3 149.3 L187.0 149.3"/>
<path d="M206.0 98.4 L205.0 97.2 L204.6 96.3 L204.6 96.1 L203.2 94.5 L203.3 96.5 L202.6 98.7 L201.1 100.8 L200.9 99.4 L200.9 101.8 L200.2 103.8 L199.3 104.6 L199.0 105.3 L199.7 106.5 L200.0 106.7 L200.5 106.7 L201.3 106.5 L204.5 105.0 L204.9 106.3 L205.2 107.9 L205.3 109.7 L205.0 111.5 L204.4 113.3 L203.5 114.9 L200.7 116.1 L199.1 115.9 L197.3 115.5 L196.3 114.5 L196.1 113.8 L196.3 113.7 L194.6 114.5 L195.6 115.4 L196.5 117.0 L197.0 119.2 L196.7 121.6 L195.7 123.8 L195.7 123.8 L195.3 125.8 L194.4 127.2 L193.8 128.0 L193.4 128.3 L193.4 128.3 L193.8 128.2 L197.1 126.7 L197.6 128.0 L197.8 129.6 L197.5 131.5 L196.9 133.4 L195.7 135.1 L194.2 136.4 L192.5 137.3 L190.8 137.8 L189.5 137.7 L188.4 137.5 L187.9 137.2 L187.1 139.1 L187.7 139.0 L188.7 139.2 L190.1 139.8 L191.5 140.9 L193.0 144.5 L192.0 146.3 L190.5 147.8 L188.8 148.9 L187.0 149.3 L185.7 149.4 L186.0 151.4 L185.7 151.7 L185.7 151.7 L186.3 151.6 L187.3 151.6 L190.8 152.0 L191.0 153.7 L190.8 155.6 L190.1 157.5 L188.9 159.1 L187.5 160.4 L185.9 161.2 L183.7 161.4 L182.3 160.5 L182.1 159.6 L182.7 159.5 L183.7 160.4 L184.6 162.8 L183.8 165.2 L182.0 167.2 L179.5 168.3 L176.6 168.0 L175.1 166.9 L174.2 166.2 L173.7 165.8 L173.6 165.7 L172.3 166.4 L172.8 167.2 L173.4 168.5 L173.7 170.2 L173.6 172.2 L172.4 171.8 L173.5 173.6 L174.1 175.7 L174.3 177.7 L174.5 180.5 L173.3 182.0 L172.0 182.5 L171.3 182.0 L171.6 181.0 L177.8 179.1 L178.3 181.3 L177.9 184.0 L176.5 186.4 L174.1 188.1 L171.3 188.8 L168.7 188.4 L167.7 187.0 L166.8 185.9 L167.0 185.3 L167.7 185.5 L168.5 186.8 L166.0 186.9 L168.1 188.2 L169.7 190.4 L170.3 193.0 L169.8 195.4 L166.5 194.9 L165.6 194.6 L165.0 194.5 L164.7 194.5 L164.6 194.7 L164.6 195.3 L164.9 196.4 L164.4 197.6 L163.7 198.9 L162.8 200.2 L161.5 201.5 L159.9 202.5 L158.2 203.3 L156.4 203.8 L154.7 203.9 L153.1 203.8 L154.5 204.7 L154.2 205.3 L154.9 205.4 L156.2 206.0"/>
<path d="M304.5 6.0 L304.6 7.3 L304.3 8.3 L304.2 8.8 L304.5 8.8 L305.7 9.2 L307.1 10.1 L308.4 11.4 L309.4 13.2 L309.8 15.1 L307.1 17.3 L306.0 16.6 L305.0 16.2 L304.3 15.9 L303.8 15.8 L303.5 16.1 L303.2 16.7 L302.6 17.6 L301.7 18.7 L300.5 19.7 L299.1 20.4 L297.4 20.8 L295.8 20.9 L294.4 20.6 L292.2 20.1 L291.6 19.2 L291.5 18.7 L291.6 18.7 L291.8 19.4 L291.7 20.6 L291.2 22.3 L290.0 23.9 L288.3 25.3 L286.2 26.1 L284.0 26.3 L282.1 25.9 L281.8 24.8 L280.8 24.5 L280.2 24.3 L279.0 24.9 L279.2 25.6 L279.5 26.6 L279.7 28.0 L279.6 29.6 L279.1 31.2 L278.2 32.6 L277.1 33.7 L275.9 34.6 L275.1 34.5 L274.7 35.7 L275.8 35.5 L277.4 35.9 L279.1 37.3 L279.9 39.3 L279.8 41.2 L279.2 42.3 L278.8 42.6 L279.3 42.4 L280.7 42.4 L282.4 43.2 L283.5 46.4 L281.9 47.7 L280.3 48.2 L279.4 48.6 L278.8 49.0 L278.4 49.4 L278.3 50.0 L278.3 50.8 L278.3 51.8 L278.4 54.9 L277.0 54.8 L275.5 54.5 L274.1 53.9 L272.7 53.1 L271.5 52.1 L270.6 51.1 L269.2 49.5 L269.3 48.2 L269.5 47.4 L269.5 47.1 L269.4 47.2 L268.9 47.6 L267.9 48.1 L266.5 48.4 L264.8 48.5 L262.9 48.1 L261.1 47.3 L259.6 46.0 L258.4 44.5 L257.7 42.9 L258.2 42.5 L257.6 41.8 L257.3 41.5 L256.8 41.5 L256.0 41.9 L254.8 42.3 L253.3 42.3 L251.7 42.0 L250.4 41.2 L248.6 40.0 L248.4 38.7 L248.5 38.1 L248.6 38.3 L248.2 39.2 L247.2 39.1 L246.0 40.7 L244.1 41.8 L241.9 42.2 L240.0 41.8 L238.3 40.8 L237.6 40.3 L237.2 39.9 L237.1 39.9 L237.0 40.4 L235.8 40.8 L236.1 42.0 L236.2 43.5 L236.0 45.2 L235.3 46.9 L234.2 48.5 L232.8 49.8 L231.2 50.7 L229.6 51.1 L227.9 51.5 L226.8 51.4 L226.1 51.2 L225.8 51.1 L225.7 51.1 L224.3 53.5 L225.1 53.7 L226.2 54.0 L227.5 54.5 L228.9 55.5 L230.2 56.7 L231.3 58.3 L232.2 60.1 L232.6 62.0 L232.7 63.9 L231.1 66.4 L229.8 67.3 L229.1 67.1 L228.4 67.6 L227.9 67.9 L227.6 68.2 L227.7 68.6 L228.1 69.2 L228.5 70.0 L229.0 71.2 L229.3 72.6 L229.4 74.1 L229.2 75.8 L228.7 77.3 L228.6 77.5 L229.0 79.0 L229.1 80.3 L229.2 82.1 L228.3 82.8 L227.9 82.6 L229.8 80.2 L231.0 81.4 L231.8 83.4 L231.8 85.9 L230.6 88.1 L228.8 89.7 L227.6 89.0 L226.8 89.6 L226.2 90.1 L225.8 90.6 L225.6 91.3 L225.5 92.2 L225.3 93.3 L225.0 94.5 L224.5 95.8 L223.9 97.0 L223.0 98.2 L221.2 98.4 L220.5 97.4 L219.9 96.4 L219.3 95.6 L218.8 95.0 L218.2 94.5 L217.6 94.1 L216.8 93.8 L216.0 93.5 L215.0 93.2 L213.9 91.5 L213.8 92.7 L213.5 93.9 L213.2 95.2 L212.7 96.4 L212.1 97.6 L211.4 98.7 L210.7 99.7 L209.6 101.5 L208.4 101.8 L208.1 101.8 L208.3 102.2 L208.5 103.2 L208.5 104.5"/>
<path d="M203.0 6.0 L203.0 7.3 L202.6 8.3 L202.4 8.7 L202.8 8.8 L203.9 9.3 L205.2 10.3 L206.4 11.7 L207.1 13.5 L207.4 15.5 L207.1 17.3 L206.3 18.8 L205.8 19.9 L205.2 20.6 L204.9 21.1 L204.9 21.5 L205.1 21.8 L205.7 22.1 L206.6 22.7 L207.5 23.5 L208.5 24.6 L209.4 26.0 L210.1 27.6 L210.0 30.7 L208.8 32.0 L207.5 33.0 L206.2 33.7 L204.5 34.6 L203.4 34.7 L202.6 34.6 L202.7 37.4 L202.8 37.5 L203.2 37.4 L204.1 37.4 L205.2 37.4 L206.6 37.8 L208.2 38.4 L209.7 39.4 L211.1 40.8 L212.2 42.4 L213.0 44.2 L213.5 45.9 L213.6 47.6 L212.7 47.9 L212.9 48.9 L213.0 49.7 L213.2 50.3 L213.6 50.7 L214.2 51.1 L215.0 51.5 L216.0 51.9 L217.1 52.6 L218.1 53.5 L219.0 54.4 L220.0 55.5 L220.8 56.7 L221.4 57.9 L222.2 59.5 L223.6 58.7 L224.4 58.7 L224.9 58.5 L225.0 57.7 L225.3 56.5 L225.9 55.2 L226.9 54.0"/>
<path d="M208.5 104.5 L311.9 105.0 L309.4 89.3 L321.8 89.3 L324.2 92.2 L406.0 90.5"/>
<path d="M406.0 90.5 L455.3 92.7 L504.5 93.9 L553.8 95.2 L606.0 96.4"/>
<path d="M606.0 96.6 L635.6 96.1 L704.5 96.6 L766.1 96.1 L787.0 94.2 L806.0 99.1"/>
<path d="M635.5 95.7 L636.5 95.2 L637.1 94.6 L637.9 93.5 L639.6 93.0 L640.4 93.3 L640.6 92.2 L642.0 91.5 L643.8 90.9 L644.2 91.2 L644.2 90.4 L645.3 89.9 L646.8 89.2 L648.6 89.2 L648.9 89.2 L649.9 89.1 L650.5 88.6 L651.8 87.7 L653.3 87.7 L654.7 88.0 L654.9 87.9 L655.5 86.6 L657.0 86.1 L658.3 86.6 L658.9 86.8 L659.6 85.4 L661.4 85.1 L662.6 86.1 L662.8 85.9 L663.1 85.1 L664.7 84.4 L666.4 83.7 L667.4 84.2 L667.9 84.6 L668.0 84.2 L669.2 82.7 L671.4 82.8 L672.6 83.6 L672.8 83.5 L673.5 82.0 L675.2 82.1 L675.7 81.7 L676.1 81.0 L676.8 79.8 L677.1 78.6 L678.2 77.6 L679.6 76.8 L680.7 76.2 L681.1 76.8 L681.4 76.0 L682.2 74.6 L683.9 74.2 L685.0 74.4 L685.6 74.3 L686.2 73.4 L687.8 73.3 L689.0 74.0 L688.7 72.5 L691.2 71.6 L692.1 73.3 L692.0 72.6 L692.6 71.6 L693.8 71.3 L693.8 69.9 L695.2 68.1 L695.7 68.4 L696.2 67.6 L695.7 66.6 L695.6 65.6 L696.2 64.3 L697.0 63.3 L697.6 62.7 L697.0 61.8 L697.6 60.5 L699.2 59.6 L700.3 60.1 L700.9 59.5 L702.0 58.5 L703.3 58.1 L704.0 57.9 L704.7 57.8 L705.7 57.0 L705.6 55.8 L705.7 54.2 L707.0 52.9 L707.4 52.0 L708.1 51.5 L708.5 50.7 L707.5 49.5 L708.7 48.0 L709.8 47.3 L711.5 47.5 L712.9 47.7 L712.8 47.7 L712.8 46.7 L713.8 45.8 L714.7 44.8 L716.3 44.1 L718.1 43.7 L718.3 44.1 L718.6 43.8 L719.1 43.0 L720.7 41.9 L722.5 42.4 L722.8 42.5 L722.7 41.3 L723.3 39.8 L724.7 39.2 L726.6 39.1 L727.4 39.6 L727.8 39.6 L727.9 38.6 L728.8 37.3 L730.6 36.6 L732.0 36.6 L732.9 36.7 L733.4 36.8 L733.7 36.1 L734.3 35.4 L735.5 34.4 L737.0 33.4 L738.2 33.7 L738.7 33.4 L739.4 33.1 L739.9 32.9 L741.0 32.2 L741.7 31.3 L743.2 30.5 L744.4 30.2 L745.6 30.0 L746.3 30.1 L745.6 29.2 L745.8 27.7 L746.3 26.0 L748.1 24.6 L749.0 24.5 L750.3 24.5 L750.1 24.4 L750.6 23.3 L750.9 21.4 L752.2 20.7 L753.4 20.5 L754.0 19.8 L754.0 19.2 L755.4 18.0 L756.8 17.6 L757.0 17.7 L757.8 16.6 L758.9 15.8 L760.3 15.7 L760.3 15.1 L761.4 13.5 L762.2 13.2"/>
<path d="M747.5 6.3 L748.1 6.9 L748.9 7.0 L750.7 7.4 L751.9 8.5 L752.6 10.0 L752.5 11.0 L752.7 11.2 L754.3 10.7 L756.4 10.5 L757.6 12.4 L757.8 13.4 L758.1 12.8 L759.8 11.9 L762.3 12.3 L762.9 13.7 L762.8 14.7 L763.8 14.8 L765.2 15.2 L765.6 16.9 L764.2 17.6 L764.9 17.8 L765.8 19.0 L764.8 20.8 L763.4 21.9 L763.2 22.2 L762.8 23.1 L763.9 23.2 L765.6 23.8 L767.0 25.1 L767.6 25.8 L768.4 27.0 L768.7 27.5 L769.6 27.3 L770.9 27.7 L771.5 28.5 L772.4 29.5 L773.3 30.6 L773.8 31.6 L773.9 32.6 L774.3 33.3 L775.3 33.7 L776.6 34.4 L776.6 36.0 L776.9 36.3 L778.1 36.5 L779.0 37.7 L779.7 38.9 L780.5 39.1 L780.9 39.5 L782.0 39.1 L783.3 39.6 L784.4 39.7 L785.4 40.5 L786.6 40.9 L787.8 42.1 L788.2 42.5 L788.4 41.8 L789.6 40.6 L791.5 40.3 L793.1 40.2 L793.7 41.3 L794.5 41.1 L795.0 40.3 L795.9 39.6 L797.8 39.3 L799.5 39.8 L799.8 40.5 L799.7 39.2 L801.5 38.1 L803.6 38.2 L803.6 38.4 L804.0 37.0 L805.1 35.9 L805.9 35.8"/>
<path d="M787.0 94.1 L786.1 95.1 L785.7 95.7 L786.1 96.7 L785.0 98.6 L783.2 99.3 L782.9 99.8 L782.6 100.3 L783.3 101.4 L784.2 102.3 L784.7 103.7 L784.7 105.0 L784.7 106.7 L784.1 107.0 L783.7 108.0 L783.7 108.9 L784.2 109.6 L783.6 111.3 L782.7 112.5 L782.3 113.1 L781.9 114.3 L781.6 114.6 L781.5 115.9 L781.4 117.3 L780.4 118.1 L778.9 117.9 L777.7 117.6 L776.6 117.9 L775.4 117.5 L774.9 117.4 L774.1 118.7 L773.7 119.2 L772.3 120.4 L770.7 120.6 L769.8 120.6 L769.7 120.3 L769.1 121.9 L768.1 123.3 L766.2 123.2 L766.3 123.4 L766.7 124.4 L766.7 126.5 L765.1 128.5 L763.3 129.1 L763.0 128.5 L763.7 129.2 L763.4 131.5 L761.2 133.0 L760.8 132.5 L760.6 132.9 L760.7 134.3 L759.6 136.3 L758.2 137.3 L756.6 136.6 L756.0 136.8 L755.8 137.4 L755.2 137.6 L754.5 139.3 L752.7 139.5 L751.5 138.8 L750.0 138.4 L749.2 137.2 L748.8 136.9 L748.2 136.3 L747.0 135.8 L746.4 135.9 L745.3 135.8 L744.4 135.5 L742.6 136.0 L741.6 136.4 L740.5 136.7 L739.8 136.6 L739.0 137.1 L738.7 137.7 L737.2 138.4 L736.0 138.3 L734.2 138.5 L733.6 138.2 L733.5 138.9 L733.3 140.2 L732.4 141.6 L731.4 143.0 L729.9 143.6 L729.0 143.2 L728.3 143.7 L728.2 144.0 L727.8 144.9 L727.6 146.4 L726.1 147.7 L724.9 148.6 L723.3 149.1 L722.7 148.4 L723.6 149.9 L722.3 151.7 L720.2 151.4 L719.8 151.1 L719.2 152.9 L718.2 152.1 L717.6 149.9 L717.9 149.3 L717.2 149.2 L715.8 148.9 L714.2 148.1 L713.2 146.3 L713.1 146.0 L712.6 145.3 L711.5 145.3 L710.7 145.7 L710.1 145.4 L709.2 146.5 L708.1 147.3 L706.7 147.6 L706.0 148.2 L705.2 148.9 L704.7 149.2 L704.1 150.2 L703.8 151.5 L702.4 151.8 L701.1 152.3 L699.6 152.6 L698.2 152.4 L697.7 151.8 L697.6 152.8 L696.5 154.5 L695.2 154.5 L693.6 155.1 L693.5 155.8 L693.6 156.4 L694.1 157.0 L694.2 158.6 L693.6 160.0 L692.2 161.4 L691.5 160.8 L693.4 162.2 L692.4 164.7 L690.4 164.2 L690.0 164.1 L689.6 164.6 L689.3 165.7 L689.1 166.8 L687.3 168.2 L685.7 168.2 L684.7 168.1 L683.1 167.3 L682.6 167.2 L682.0 167.1 L681.9 167.7 L680.9 168.4 L680.1 169.4 L678.3 170.9 L676.9 171.1 L675.8 171.5 L674.8 171.0 L674.8 171.9 L674.0 173.6 L672.5 174.0 L671.5 173.7 L670.7 174.2 L670.5 174.9 L669.6 176.1 L667.9 176.4 L667.2 177.1 L665.9 177.3 L665.2 177.4 L664.9 177.5 L663.8 178.7 L663.4 179.1 L662.5 180.0 L661.0 180.7 L659.7 181.3 L658.9 181.4 L657.5 181.4 L657.3 181.7 L657.0 182.5 L656.4 183.7 L655.6 184.9 L653.9 185.5 L652.9 185.9 L651.2 186.2 L650.9 185.5 L651.3 186.7 L649.6 187.8 L648.2 187.8 L646.4 187.2 L646.1 187.1 L645.3 187.4 L643.7 187.8 L642.4 187.4 L642.3 187.1 L641.4 187.7 L640.3 188.5 L638.1 188.6 L637.0 188.2 L636.8 187.7 L635.9 188.3 L634.5 189.0 L633.4 189.2 L631.8 188.6 L631.8 188.5 L631.3 189.7 L628.9 190.4 L627.4 188.9 L628.0 189.2 L627.1 191.2 L624.1 191.2 L623.7 189.5 L623.0 189.5 L623.2 190.6 L622.8 191.7 L621.6 193.3 L620.2 194.1 L618.4 194.5 L617.5 194.9 L617.0 193.9 L616.8 194.5 L616.7 196.1 L615.7 197.8 L613.7 198.4 L612.1 198.7 L612.1 198.3 L612.9 199.3 L613.4 201.2 L611.7 203.3 L610.5 203.2 L610.3 203.9 L610.1 204.8 L609.8 206.0"/>
<path d="M158.7 203.5 L157.4 204.3 L156.4 204.5 L156.2 204.4 L156.9 204.8 L157.6 206.6 L157.7 208.9 L156.9 211.2 L156.5 210.5 L156.7 212.8 L156.1 214.8 L155.1 216.6 L153.5 216.6 L153.2 215.3 L154.9 214.0 L158.3 214.1 L160.7 216.4 L161.4 219.7 L160.3 222.7 L158.6 222.7 L158.0 223.1 L159.7 221.6 L160.1 222.7 L159.8 224.6 L158.6 226.5 L156.7 227.7 L154.6 228.0 L152.5 227.7 L151.7 227.3 L151.2 227.2 L150.9 227.3 L150.8 227.8 L150.7 228.5 L150.5 229.6 L150.1 231.0 L149.5 232.4 L148.6 233.2 L147.9 234.8 L146.8 236.3 L145.5 237.6 L144.1 238.6 L142.6 239.2 L143.8 239.9 L143.3 241.2 L142.8 241.8 L142.7 241.8 L143.2 241.5 L144.4 241.2 L146.2 241.2 L149.9 243.9 L149.3 245.9 L148.1 247.8 L146.4 249.0 L144.6 249.7 L143.2 249.7 L142.2 249.6 L142.8 248.3 L142.7 248.4 L142.6 249.0 L142.3 250.0 L141.7 251.3 L140.7 252.7 L139.2 254.0 L135.0 254.5 L133.7 252.9 L132.7 251.1 L132.2 249.3 L132.3 247.9 L132.9 246.7 L129.8 246.9 L130.4 247.1 L131.5 248.2 L132.2 250.2 L132.0 252.6 L130.7 254.7 L128.6 255.9 L125.7 256.6 L124.7 256.0 L124.5 255.4 L125.1 255.2 L123.6 257.7 L125.3 257.2 L127.5 257.5 L129.7 258.5 L131.6 260.2 L132.8 262.5 L133.1 265.0 L128.8 267.9 L127.8 266.9 L126.6 266.8 L125.9 266.8 L125.5 266.8 L125.4 267.2 L124.8 268.0 L125.3 269.0 L125.7 270.4 L125.8 272.0 L125.7 273.9 L125.2 274.4 L125.3 276.4 L125.1 278.3 L124.5 280.0 L123.8 281.8 L122.8 282.8 L122.0 283.4 L121.4 283.6 L121.4 283.7 L122.5 282.8 L123.1 283.4 L123.8 284.4 L124.5 285.9 L124.9 287.7 L124.8 289.8 L123.1 293.3 L121.2 294.1 L119.3 294.4 L117.4 294.3 L115.3 294.1 L114.1 292.1 L114.6 290.7 L116.0 291.0 L113.3 291.8 L116.1 292.8 L118.0 295.3 L118.3 298.6 L116.8 301.3 L114.5 299.2 L113.6 299.1 L112.8 299.1 L112.2 299.3 L111.6 299.6 L110.9 300.2 L110.1 300.8 L109.2 301.6 L108.1 301.8 L107.4 303.0 L106.6 304.2 L105.5 305.3 L104.4 306.2 L104.2 306.5 L104.0 307.8 L103.8 311.1 L102.4 311.8 L101.2 311.9 L100.8 311.5 L104.2 308.4 L104.9 309.3 L105.3 311.0 L105.2 313.1 L104.2 315.3 L102.6 317.2 L100.4 318.5 L101.7 316.6 L101.1 319.0 L99.6 319.5 L99.1 320.6 L98.7 321.3 L98.5 321.7 L100.1 319.8 L100.2 320.5 L100.1 321.6 L99.9 323.0 L99.3 324.6 L98.3 326.2 L96.9 327.6 L94.5 328.8 L92.7 328.8 L91.0 328.5 L89.6 327.9 L88.7 327.1 L88.4 326.7 L88.3 326.8 L85.5 328.4 L86.7 328.5 L88.3 329.1 L89.8 330.3 L91.0 331.9 L91.6 333.9 L91.6 335.8 L91.4 338.3 L88.1 336.3 L87.6 335.4 L87.9 335.0 L88.6 335.4 L89.3 336.6 L89.5 338.5 L86.5 337.3 L88.6 338.7 L90.3 340.7 L91.1 343.1 L91.1 345.5 L90.3 346.8 L89.2 347.7 L90.3 344.0 L91.2 344.9 L91.4 346.9 L90.4 349.2 L88.2 350.9 L85.6 351.1 L83.5 350.2 L84.1 352.4 L83.7 353.1 L83.4 353.5 L83.5 353.7 L84.0 353.8 L84.8 354.0 L89.6 356.3 L88.4 357.0 L86.9 357.6 L85.1 357.9 L83.2 357.8 L81.4 357.4 L79.7 356.6 L78.2 355.5 L77.1 354.3 L75.2 352.6 L74.5 355.8 L73.4 355.6 L72.8 355.3 L72.8 355.0 L73.3 355.0 L74.2 355.5 L72.1 357.9 L73.9 357.8 L76.0 358.1 L78.1 359.0 L80.1 360.4 L81.8 362.2 L82.9 364.4 L80.2 369.7 L78.1 370.3 L76.4 370.1 L74.8 369.2 L74.1 368.2 L74.5 367.5 L72.9 370.1 L74.5 369.5 L76.8 369.6 L79.2 370.8 L81.1 372.8 L82.0 375.5 L81.9 378.2 L80.4 379.5 L82.2 379.1 L82.3 380.0 L81.7 379.9 L81.2 378.6 L81.5 376.5 L86.9 374.6 L87.5 377.2 L86.9 379.7 L85.5 382.6 L82.9 382.9 L81.8 381.6 L82.9 380.1 L88.9 381.3 L88.9 384.7 L86.8 387.7 L83.4 388.9 L80.1 388.1 L78.4 386.0 L77.8 388.8 L77.5 388.1 L78.3 387.3 L80.0 387.1 L82.2 387.7 L84.3 389.2 L82.4 389.4 L85.2 390.1 L87.4 391.8 L88.8 394.0 L88.7 395.8 L84.2 393.7 L85.2 392.6 L87.3 393.6 L88.6 396.4 L87.7 399.8 L84.9 401.8 L82.0 401.4 L80.8 400.3 L80.3 399.8 L80.3 399.6 L80.6 399.8 L81.1 400.6 L81.0 402.4 L80.2 404.2 L78.9 405.4 L77.4 406.0"/>
<path d="M142.7 238.0 L206.0 238.0"/>
<path d="M206.0 238.0 L299.6 238.0 L299.6 237.3 L335.3 237.3 L336.5 238.0 L406.0 238.0"/>
<path d="M299.6 238.0 L302.1 242.9 L307.0 246.6 L305.8 267.6 L303.3 287.3 L300.8 311.9 L298.4 336.5 L295.2 366.1 L292.2 390.7 L290.5 406.0"/>
<path d="M406.0 238.3 L588.3 238.8 L606.0 238.8"/>
<path d="M588.3 238.8 L589.5 218.3 L595.7 214.6 L606.0 215.9 L609.9 206.0"/>
<path d="M492.2 238.8 L497.1 262.7 L502.1 289.7 L507.0 316.8 L511.9 348.9 L515.6 373.5 L520.5 406.0"/>
<path d="M606.0 238.8 L660.2 238.0 L677.4 236.8"/>
<path d="M677.4 236.8 L689.7 233.1 L704.5 229.4 L711.9 225.7 L729.2 222.0 L734.1 219.5 L743.9 220.3 L806.0 223.2"/>
<path d="M677.5 237.0 L677.3 237.7 L677.6 238.8 L677.9 239.8 L677.3 241.5 L676.7 242.0 L677.6 242.6 L676.8 243.4 L675.3 244.4 L674.0 244.1 L673.4 244.0 L673.7 244.9 L672.5 246.3 L670.7 247.0 L668.8 246.6 L668.9 246.8 L669.0 247.2 L669.3 248.7 L668.6 250.5 L666.9 251.9 L665.8 252.1 L665.7 252.3 L666.0 253.3 L664.2 255.0 L662.9 255.0 L663.5 255.4 L664.0 257.6 L661.9 258.5 L661.6 258.8 L661.9 259.1 L662.2 261.4 L660.6 262.7 L660.0 262.8 L659.8 263.5 L661.1 264.6 L662.1 265.5 L661.8 267.2 L662.3 268.0 L663.4 267.8 L664.7 268.7 L665.6 269.6 L666.3 271.2 L666.5 271.8 L667.3 271.9 L667.9 272.3 L669.1 272.9 L670.6 273.8 L671.3 274.7 L671.5 275.7 L671.6 275.8 L673.1 275.5 L675.1 276.6 L675.1 277.8 L675.4 278.5 L676.1 279.0 L677.4 278.9 L678.5 279.7 L679.5 280.3 L680.2 281.6 L680.7 282.8 L680.7 283.5 L681.6 283.6 L683.2 283.0 L685.1 283.7 L685.8 284.5 L685.9 284.6 L686.5 283.6 L688.8 282.8 L690.2 283.5 L690.7 284.5 L691.4 284.8 L691.9 284.4 L693.4 283.5 L695.2 284.6 L695.3 285.9 L695.3 286.3 L695.8 286.4 L697.2 287.8 L697.7 290.0 L696.8 290.6 L697.3 290.6 L699.1 290.8 L700.3 292.2 L700.7 294.0 L700.8 294.7 L700.8 295.4 L702.2 296.0 L703.1 297.0 L703.5 297.9 L704.4 299.2 L703.7 299.7 L704.1 300.1 L705.0 301.3 L706.0 302.4 L706.0 303.5 L705.7 305.3 L705.9 306.1 L706.1 305.9 L706.6 307.6 L706.8 308.8 L706.3 310.0 L706.8 310.0 L707.9 310.8 L709.1 311.7 L709.6 313.0 L709.4 314.8 L709.3 315.4 L709.7 315.4 L710.7 315.5 L712.3 316.7 L712.9 317.9 L713.4 319.2 L713.3 321.0 L713.0 321.2 L713.8 321.5 L715.3 322.0 L716.6 323.9 L716.0 325.2 L716.2 325.5 L716.7 326.4 L718.2 327.5 L718.7 328.7 L718.3 330.0 L718.4 330.2 L720.2 330.0 L722.0 331.9 L721.4 332.9 L721.9 332.6 L723.7 332.3 L724.9 333.8 L725.0 335.2 L725.0 335.4 L725.7 335.3 L727.2 334.9 L729.0 335.7 L730.1 337.4 L730.4 338.5 L730.2 339.0 L730.8 338.4 L732.4 338.7 L734.3 339.8 L734.1 341.5 L734.4 342.6 L735.0 342.4 L736.4 342.9 L737.0 344.0 L737.1 345.3 L737.2 344.9 L739.3 345.3 L740.3 347.2 L739.9 347.8 L740.4 348.2 L741.7 348.5 L742.5 350.4 L742.6 351.4 L742.7 352.6 L743.1 352.8 L744.1 353.4 L745.1 354.0 L745.7 354.7 L746.4 356.2 L746.9 357.8 L746.7 358.9 L747.0 359.0 L748.1 358.8 L749.6 358.9 L751.6 360.2 L752.0 361.2 L752.1 362.1 L752.9 361.8 L754.7 361.8 L755.6 363.5 L755.9 364.6 L756.5 364.6 L757.0 365.2 L757.9 365.3 L759.1 366.2 L760.5 367.7 L760.8 369.1 L761.0 370.1 L761.4 370.4 L762.1 370.7 L763.3 371.1 L764.6 372.2 L765.1 374.1 L765.6 374.9 L766.2 375.5 L767.5 375.3 L767.8 376.9 L767.5 378.3 L767.4 379.7 L766.2 380.7 L766.2 381.1 L766.2 381.8 L766.1 383.3 L767.0 383.7 L768.0 385.1 L768.2 386.0 L768.4 387.7 L768.7 388.0 L769.3 387.7 L771.2 388.5 L772.4 389.9 L772.7 391.7 L772.4 391.9 L772.8 392.8 L773.4 393.2 L773.9 394.0 L775.1 394.9 L775.2 396.3 L775.5 397.6 L775.9 398.6 L776.3 398.9 L777.2 399.2 L777.7 400.0 L779.0 401.3 L779.1 402.6 L779.0 403.3 L779.7 403.8 L781.0 404.0 L781.9 404.9 L782.4 406.0"/>
<path d="M6.0 415.4 L78.7 415.4"/>
<path d="M77.4 406.0 L78.0 407.5 L78.0 408.5 L77.9 408.7 L78.4 408.1 L80.4 407.8 L85.0 410.9 L84.2 413.1 L82.5 414.9 L80.4 416.0 L78.4 416.2 L77.5 415.6 L76.7 415.3 L77.4 415.1 L78.8 416.3 L79.4 418.7 L78.5 421.3 L76.5 422.8 L77.8 422.2 L78.6 422.4 L79.0 422.4 L79.3 422.1 L79.5 421.6 L79.7 420.8 L80.1 419.7 L82.0 416.7 L83.3 417.5 L84.6 418.5 L85.7 419.8 L86.5 421.2 L87.1 422.7 L85.4 424.7 L83.4 425.7 L82.0 424.8 L81.8 423.9 L82.7 423.9 L83.9 425.2 L84.5 427.5 L83.8 430.2 L81.9 432.3 L81.3 432.8 L79.4 435.2 L77.5 435.4 L76.5 434.7 L76.8 433.8 L78.4 433.3 L80.7 433.7 L83.0 435.3 L84.6 437.9 L84.9 439.8 L85.0 442.7 L83.9 445.2 L82.3 445.4 L81.7 446.1 L81.4 446.4 L81.4 446.4 L82.0 446.2 L83.0 446.2 L84.3 446.5 L85.8 447.2 L84.3 448.7 L86.1 447.8 L88.1 447.4 L90.0 447.5 L91.8 448.0 L90.1 452.4 L88.0 452.3 L86.8 451.5 L86.9 450.6 L88.2 450.2 L90.2 450.8 L93.2 455.2 L92.0 457.8 L89.7 459.7 L86.8 460.5 L84.0 460.0 L82.4 458.6 L81.4 457.7 L81.2 461.2 L80.9 461.1 L81.1 460.8 L82.1 460.6 L83.5 460.6 L85.3 461.1 L84.1 462.7 L86.3 462.1 L88.7 462.2 L90.9 462.8 L92.9 464.1 L94.3 465.6 L94.2 466.8 L92.8 468.2 L92.4 469.0 L92.2 469.5 L92.3 469.9 L92.7 470.2 L93.3 470.6 L94.3 471.2 L95.3 472.0 L94.0 475.4 L94.6 473.9 L95.6 472.4 L96.8 471.1 L98.2 470.1 L100.7 473.0 L99.7 474.2 L98.4 476.2 L97.0 476.6 L95.9 476.7 L95.3 476.6 L97.5 474.2 L97.7 474.6 L97.8 475.6 L97.7 476.9 L97.2 478.6 L96.2 480.3 L95.3 480.7 L94.0 482.7 L92.3 484.3 L90.3 485.5 L88.2 486.1 L86.2 486.3 L85.4 484.8 L84.5 484.4 L83.8 484.1 L83.3 484.0 L83.0 484.2 L82.6 484.7 L82.2 485.5 L80.1 485.5 L80.6 486.7 L81.0 488.2 L81.2 489.9 L81.1 491.6 L80.7 493.3 L80.5 492.7 L81.4 494.0 L82.1 495.3 L83.4 497.5 L82.6 499.0 L81.6 499.4 L81.1 498.7 L83.9 500.4 L83.2 498.5 L83.2 496.0 L84.3 493.4 L86.4 491.3 L89.1 490.1 L91.8 490.1 L89.6 494.4 L88.4 494.7 L87.6 494.8 L87.3 494.8 L87.5 494.9 L88.1 495.3 L88.9 496.1 L89.8 497.4 L91.1 500.9 L90.1 502.6 L88.6 504.0 L86.8 505.1 L84.8 505.6 L82.8 505.7 L81.1 505.4 L81.4 505.1 L80.5 505.2 L80.3 505.5 L80.4 506.1 L80.6 507.4 L80.5 509.0 L79.7 510.7 L78.4 512.1 L76.8 512.8 L73.2 513.2 L72.4 512.6 L72.1 512.1 L72.2 511.9 L72.7 512.2 L73.4 513.1 L73.9 514.5 L74.6 517.3 L73.7 519.2 L72.3 521.1 L70.5 522.6 L68.3 523.6 L69.0 523.0 L67.5 524.7 L65.9 526.0 L65.2 524.8 L64.2 525.1 L64.0 525.3 L64.0 527.4 L64.9 526.7 L66.4 526.0 L68.3 525.9 L70.1 526.5 L71.5 527.6 L68.1 528.2 L67.9 526.1 L69.6 525.9 L71.1 528.1 L70.0 532.6 L66.6 534.0 L63.2 532.9 L61.6 530.2 L61.2 529.1 L59.3 531.6 L59.4 531.3 L60.2 531.3 L61.4 531.8 L62.7 532.9 L63.9 534.6 L64.7 536.7 L62.5 542.2 L60.1 542.6 L57.8 542.2 L55.8 541.3 L55.6 540.0 L54.6 539.3 L53.4 540.5 L53.0 540.9 L53.0 541.5 L52.2 544.1 L53.2 543.9 L54.6 543.7 L56.2 544.0 L57.9 544.6 L59.4 545.6 L58.6 549.5 L56.8 549.4 L55.2 549.0 L53.2 548.3 L52.4 547.5 L52.1 547.0 L52.2 546.9 L50.3 547.6 L51.0 548.3 L51.7 549.5 L52.2 551.2 L52.2 553.2 L51.7 555.3 L50.6 557.2 L50.6 556.7 L50.5 558.8 L49.9 560.6 L49.0 562.1 L47.4 562.5 L46.9 561.8 L49.0 564.9 L48.7 562.7 L49.7 560.1 L52.0 558.1 L55.0 557.6 L54.4 562.6 L52.1 562.4 L51.2 562.3 L50.9 562.1 L51.1 562.1 L51.6 562.4 L54.5 563.6 L54.5 565.1 L53.9 566.8 L52.9 568.6 L51.5 570.2 L49.6 571.4 L47.5 572.1 L45.4 572.3 L46.1 572.7 L44.6 573.6 L42.9 573.8 L42.0 573.5 L42.0 573.0 L42.9 572.9 L44.4 573.5 L45.9 575.0 L45.0 575.5 L47.2 577.1 L48.7 579.4 L49.3 581.8 L48.4 583.1 L48.2 584.3 L47.3 582.6 L47.5 582.7 L48.0 583.3 L48.5 584.6 L48.7 586.4 L48.3 588.3 L47.2 590.0 L46.1 591.1 L44.8 592.1 L43.1 592.9 L43.0 592.5 L43.7 593.0 L44.2 594.4"/>
<path d="M44.2 594.4 L185.8 594.4 L187.0 598.1 L183.3 603.0 L184.6 606.0"/>
<path d="M290.5 406.0 L287.3 435.6 L284.3 465.1 L281.1 489.7 L279.4 511.9 L279.9 534.1 L281.1 558.7 L282.4 583.3 L283.6 606.0"/>
<path d="M345.2 594.4 L406.0 594.4"/>
<path d="M345.2 594.4 L343.9 600.6 L341.5 606.0"/>
<path d="M520.5 406.0 L525.5 428.2 L529.2 447.9 L536.5 455.3 L540.2 465.1 L537.8 476.2 L546.4 481.1 L542.7 486.0 L534.1 491.0 L532.8 502.1 L531.6 514.4 L530.4 529.2 L534.1 543.9 L531.6 563.6 L529.2 576.0 L534.1 585.8 L539.0 594.4 L540.2 606.0"/>
<path d="M406.0 594.4 L539.0 594.4"/>
<path d="M782.1 406.0 L788.3 409.7 L794.4 412.9 L798.6 419.5 L801.1 428.2 L803.0 438.0 L806.0 442.9"/>
<path d="M183.4 605.9 L183.0 606.7 L182.7 607.5 L182.8 609.2 L182.1 610.5 L181.1 611.5 L180.6 611.9 L180.4 612.6 L180.0 613.3 L180.1 614.6 L180.1 615.3 L180.2 616.8 L179.8 618.2 L179.3 619.8 L178.8 621.0 L178.1 621.3 L178.3 621.9 L178.7 623.0 L179.3 624.2 L179.1 625.7 L179.0 627.3 L178.9 628.5 L179.0 628.3 L180.1 628.7 L181.4 629.7 L182.2 630.9 L181.7 633.1 L181.4 633.4 L181.3 633.6 L183.4 633.9 L184.5 635.2 L184.6 636.8 L184.5 638.1 L184.1 638.1 L185.3 638.1 L186.5 638.5 L188.3 639.6 L188.8 641.3 L189.4 642.7 L188.7 642.8 L189.7 643.2 L190.2 645.8 L188.5 646.7 L188.1 647.4 L188.0 647.6 L188.8 648.9 L189.3 650.4 L189.2 652.1 L188.8 653.7 L188.4 654.2 L188.6 655.0 L189.4 655.3 L190.2 656.2 L190.9 656.7 L191.5 658.5 L191.7 659.7 L191.7 660.7 L192.0 661.4 L193.0 662.0 L193.5 662.4 L194.5 663.4 L195.1 664.8 L195.9 666.0 L196.5 666.5 L196.8 667.8"/>
<path d="M283.6 606.0 L284.8 640.5 L285.3 646.6"/>
<path d="M341.2 605.8 L342.0 606.9 L342.5 607.0 L343.7 607.9 L344.9 608.9 L345.7 609.9 L345.7 611.3 L345.9 611.1 L347.2 611.5 L348.0 612.0 L349.3 613.3 L349.9 614.1 L350.7 615.7 L350.5 615.9 L351.4 616.6 L352.0 616.7 L353.8 617.3 L354.5 618.5 L355.4 619.5 L355.2 620.4 L355.7 620.8 L356.3 621.7 L357.1 622.6 L357.6 623.7 L357.5 624.6 L357.7 626.1 L357.4 627.2 L357.7 627.9 L357.7 628.4 L358.7 629.4 L359.3 630.4 L358.6 632.1 L358.0 633.2 L357.1 634.3 L356.7 634.6 L356.7 635.7 L357.0 636.7 L356.4 637.9 L357.1 638.7 L357.8 640.0 L357.8 640.9 L358.7 641.5 L359.5 641.9 L360.1 643.2"/>
<path d="M547.6 620.3 L606.0 622.7"/>
<path d="M606.0 622.7 L655.3 626.9 L704.5 630.6 L743.9 632.6"/>
<path d="M736.0 632.1 L737.2 632.6 L738.1 632.2 L739.4 631.9 L740.7 631.8 L742.1 632.6 L743.0 633.7 L742.9 633.2 L744.1 632.8 L746.8 633.4 L746.5 634.9 L745.6 635.4 L745.7 636.4 L746.1 636.9 L746.5 637.9 L747.1 639.4 L747.1 640.9 L746.6 642.1 L746.6 642.6 L746.8 643.2 L747.4 644.0 L747.6 645.7 L747.9 646.6 L747.9 647.5 L748.3 647.8 L749.4 648.5 L750.6 649.6 L751.2 651.0 L752.2 651.1 L752.8 650.9 L753.3 650.4 L754.5 649.6 L756.0 649.4 L757.1 648.9 L757.9 649.1 L758.6 647.6 L758.9 647.1 L759.5 646.7 L759.1 645.8 L758.7 644.5 L759.3 642.8 L759.7 642.0 L760.5 640.2 L760.9 640.1 L760.8 639.6 L760.1 638.7 L760.0 637.2 L760.3 635.4 L760.7 634.4 L760.9 633.8 L760.4 633.2 L760.2 632.2 L759.7 631.2 L759.4 629.3 L759.8 628.0 L760.6 627.2 L760.3 626.5 L760.3 626.3 L759.6 625.4 L758.9 624.4 L758.2 622.8 L758.1 620.9 L758.7 619.7 L759.2 618.6 L759.3 618.2 L759.0 616.9 L758.4 616.1 L757.7 614.7 L758.3 613.5 L759.8 612.8 L761.0 612.1 L762.1 611.1 L762.9 611.0 L762.4 610.5 L763.7 610.3 L765.0 609.2 L766.9 609.6 L768.2 610.3 L768.5 611.0 L769.3 611.2 L769.9 611.5 L771.1 611.3 L772.3 611.2 L773.8 611.7 L774.8 612.4 L775.9 613.2 L776.7 614.2 L776.7 614.8 L777.7 614.0 L779.4 613.8 L780.7 615.6 L781.4 615.8 L782.1 616.0 L783.0 616.0 L784.7 616.1 L785.5 616.9 L786.7 617.0"/>
</g>
<g shape-rendering="crispEdges" stroke-width="0.75">
<circle cx="407" cy="407" r="519.3" stroke="#f4f4f4"/>
<path d="M416.5 7.7A399.4 399.4 0 1 1 391.0 7.9" stroke="#f4f4f4"/>
<path d="M416.3 127.8A279.4 279.4 0 1 1 395.0 127.9" stroke="#f4f4f4"/>
<path d="M416.4 247.8A159.5 159.5 0 1 1 395.3 247.9" stroke="#f4f4f4"/>
<path d="M413.0 367.9A39.6 39.6 0 1 1 399.3 368.2" stroke-width="1" stroke="#ff0000"/>
</g>
<g stroke-width="1.1">
<g stroke="#ff6a10"><circle cx="791.5" cy="79.5" r="4"/><path d="M789.0 79.5h5"/></g>
<g stroke="#ff6a10"><circle cx="768.5" cy="335.5" r="4"/><path d="M766.0 335.5h5M768.5 333.0v5"/></g>
<g stroke="#ff6a10"><circle cx="630.5" cy="561.5" r="4"/><path d="M628.0 561.5h5"/></g>
<g stroke="#ff6a10"><circle cx="701.5" cy="606.5" r="4"/><path d="M699.0 606.5h5"/></g>
<g stroke="#ff6a10"><circle cx="728.5" cy="612.5" r="4"/><path d="M726.0 612.5h5"/></g>
<g stroke="#ff6a10"><circle cx="651.5" cy="627.5" r="4"/><path d="M649.0 627.5h5M651.5 625.0v5"/></g>
<path stroke="#ff6a10" d="M588.0 633.5h7"/>
<g stroke="#ff6a10"><circle cx="611.5" cy="660.5" r="4"/><path d="M609.0 660.5h5M611.5 658.0v5"/></g>
<g stroke="#ff6a10"><circle cx="620.5" cy="664.5" r="4"/><path d="M618.0 664.5h5"/></g>
<g stroke="#ff6a10"><circle cx="630.5" cy="687.5" r="4"/><path d="M628.0 687.5h5"/></g>
<g stroke="#ff6a10"><circle cx="622.5" cy="693.5" r="4"/><path d="M620.0 693.5h5M622.5 691.0v5"/></g>
<g stroke="#ff6a10"><circle cx="726.5" cy="700.5" r="4"/><path d="M724.0 700.5h5"/></g>
<g stroke="#ff6a10"><circle cx="634.5" cy="710.5" r="4"/><path d="M632.0 710.5h5M634.5 708.0v5"/></g>
<g stroke="#ff6a10"><circle cx="595.5" cy="735.5" r="4"/><path d="M593.0 735.5h5M595.5 733.0v5"/></g>
<g stroke="#ff9600"><circle cx="778.5" cy="156.5" r="4"/><path d="M776.0 156.5h5"/></g>
<g stroke="#ff9600"><circle cx="785.5" cy="157.5" r="4"/><path d="M783.0 157.5h5"/></g>
<g stroke="#ff9600"><circle cx="700.5" cy="184.5" r="4"/><path d="M698.0 184.5h5"/></g>
<g stroke="#ff9600"><circle cx="803.5" cy="183.5" r="4"/><path d="M801.0 183.5h5M803.5 181.0v5"/></g>
<g stroke="#ff9600"><circle cx="699.5" cy="237.5" r="4"/><path d="M697.0 237.5h5"/></g>
<g stroke="#ff9600"><circle cx="794.5" cy="279.5" r="4"/><path d="M792.0 279.5h5"/></g>
<g stroke="#ff9600"><circle cx="679.5" cy="608.5" r="4"/><path d="M677.0 608.5h5"/></g>
<g stroke="#ff9600"><circle cx="721.5" cy="644.5" r="4"/><path d="M719.0 644.5h5"/></g>
<g stroke="#ff9600"><circle cx="728.5" cy="645.5" r="4"/><path d="M726.0 645.5h5"/></g>
<g stroke="#ff9600"><circle cx="674.5" cy="649.5" r="4"/><path d="M672.0 649.5h5"/></g>
<g stroke="#ff9600"><circle cx="699.5" cy="650.5" r="4"/><path d="M697.0 650.5h5M699.5 648.0v5"/></g>
<g stroke="#ff9600"><circle cx="655.5" cy="676.5" r="4"/><path d="M653.0 676.5h5M655.5 674.0v5"/></g>
<g stroke="#ff9600"><circle cx="684.5" cy="682.5" r="4"/><path d="M682.0 682.5h5M684.5 680.0v5"/></g>
<g stroke="#ff9600"><circle cx="688.5" cy="684.5" r="4"/><path d="M686.0 684.5h5M688.5 682.0v5"/></g>
<g stroke="#ff9600"><circle cx="668.5" cy="702.5" r="4"/><path d="M666.0 702.5h5M668.5 700.0v5"/></g>
<g stroke="#ff9600"><circle cx="675.5" cy="700.5" r="4"/><path d="M673.0 700.5h5M675.5 698.0v5"/></g>
<g stroke="#ff9600"><circle cx="640.5" cy="711.5" r="4"/><path d="M638.0 711.5h5M640.5 709.0v5"/></g>
<g stroke="#ff9600"><circle cx="634.5" cy="723.5" r="4"/><path d="M632.0 723.5h5"/></g>
<g stroke="#ff9600"><circle cx="667.5" cy="716.5" r="4"/><path d="M665.0 716.5h5M667.5 714.0v5"/></g>
<g stroke="#ff9600"><circle cx="669.5" cy="719.5" r="4"/><path d="M667.0 719.5h5"/></g>
<path stroke="#ff9600" d="M657.0 728.5h7"/>
<g stroke="#ff9600"><circle cx="604.5" cy="731.5" r="4"/><path d="M602.0 731.5h5"/></g>
<g stroke="#ff9600"><circle cx="610.5" cy="733.5" r="4"/><path d="M608.0 733.5h5"/></g>
<g stroke="#ff9600"><circle cx="598.5" cy="747.5" r="4"/><path d="M596.0 747.5h5M598.5 745.0v5"/></g>
<g stroke="#ff9600"><circle cx="602.5" cy="746.5" r="4"/><path d="M600.0 746.5h5M602.5 744.0v5"/></g>
<g stroke="#ff9600"><circle cx="582.5" cy="705.5" r="4"/><path d="M580.0 705.5h5"/></g>
<g stroke="#ff9600"><circle cx="525.5" cy="745.5" r="4"/><path d="M523.0 745.5h5M525.5 743.0v5"/></g>
<g stroke="#ff9600"><circle cx="538.5" cy="751.5" r="4"/><path d="M536.0 751.5h5"/></g>
<g stroke="#ff9600"><circle cx="494.5" cy="758.5" r="4"/><path d="M492.0 758.5h5"/></g>
<g stroke="#ffc000"><circle cx="703.5" cy="115.5" r="4"/><path d="M701.0 115.5h5M703.5 113.0v5"/></g>
<path stroke="#ffc000" d="M742.0 120.5h7M745.5 117.0v7"/>
<path stroke="#ffc000" d="M716.0 172.5h7M719.5 169.0v7"/>
<path stroke="#ffc000" d="M752.0 187.5h7M755.5 184.0v7"/>
<g stroke="#ffc000"><circle cx="803.5" cy="192.5" r="4"/><path d="M801.0 192.5h5"/></g>
<g stroke="#ffc000"><circle cx="740.5" cy="209.5" r="4"/><path d="M738.0 209.5h5"/></g>
<g stroke="#ffc000"><circle cx="789.5" cy="82.5" r="4"/><path d="M787.0 82.5h5"/></g>
<g stroke="#ffc000"><circle cx="802.5" cy="76.5" r="4"/><path d="M800.0 76.5h5"/></g>
<g stroke="#ffc000"><circle cx="676.5" cy="233.5" r="4"/><path d="M674.0 233.5h5M676.5 231.0v5"/></g>
<path stroke="#ffc000" d="M687.0 256.5h7M690.5 253.0v7"/>
<g stroke="#ffc000"><circle cx="762.5" cy="246.5" r="4"/><path d="M760.0 246.5h5M762.5 244.0v5"/></g>
<g stroke="#ffc000"><circle cx="774.5" cy="578.5" r="4"/><path d="M772.0 578.5h5"/></g>
<g stroke="#ffc000"><circle cx="728.5" cy="585.5" r="4"/><path d="M726.0 585.5h5"/></g>
<g stroke="#ffc000"><circle cx="782.5" cy="626.5" r="4"/><path d="M780.0 626.5h5M782.5 624.0v5"/></g>
<g stroke="#ffc000"><circle cx="714.5" cy="639.5" r="4"/><path d="M712.0 639.5h5"/></g>
<g stroke="#ffc000"><circle cx="715.5" cy="639.5" r="4"/><path d="M713.0 639.5h5"/></g>
<g stroke="#ffc000"><circle cx="706.5" cy="650.5" r="4"/><path d="M704.0 650.5h5"/></g>
<g stroke="#ffc000"><circle cx="680.5" cy="657.5" r="4"/><path d="M678.0 657.5h5M680.5 655.0v5"/></g>
<g stroke="#ffc000"><circle cx="676.5" cy="668.5" r="4"/><path d="M674.0 668.5h5M676.5 666.0v5"/></g>
<g stroke="#ffc000"><circle cx="684.5" cy="671.5" r="4"/><path d="M682.0 671.5h5M684.5 669.0v5"/></g>
<g stroke="#ffc000"><circle cx="670.5" cy="680.5" r="4"/><path d="M668.0 680.5h5"/></g>
<g stroke="#ffc000"><circle cx="641.5" cy="683.5" r="4"/><path d="M639.0 683.5h5M641.5 681.0v5"/></g>
<g stroke="#ffc000"><circle cx="664.5" cy="687.5" r="4"/><path d="M662.0 687.5h5M664.5 685.0v5"/></g>
<g stroke="#ffc000"><circle cx="670.5" cy="687.5" r="4"/><path d="M668.0 687.5h5M670.5 685.0v5"/></g>
<path stroke="#ffc000" d="M672.0 685.5h7"/>
<g stroke="#ffc000"><circle cx="646.5" cy="697.5" r="4"/><path d="M644.0 697.5h5"/></g>
<path stroke="#ffc000" d="M653.0 697.5h7"/>
<g stroke="#ffc000"><circle cx="652.5" cy="703.5" r="4"/><path d="M650.0 703.5h5M652.5 701.0v5"/></g>
<g stroke="#ffc000"><circle cx="707.5" cy="684.5" r="4"/><path d="M705.0 684.5h5"/></g>
<path stroke="#ffc000" d="M720.0 684.5h7M723.5 681.0v7"/>
<g stroke="#ffc000"><circle cx="702.5" cy="699.5" r="4"/><path d="M700.0 699.5h5"/></g>
<g stroke="#ffc000"><circle cx="716.5" cy="699.5" r="4"/><path d="M714.0 699.5h5M716.5 697.0v5"/></g>
<g stroke="#ffc000"><circle cx="756.5" cy="688.5" r="4"/><path d="M754.0 688.5h5M756.5 686.0v5"/></g>
<g stroke="#ffc000"><circle cx="739.5" cy="704.5" r="4"/><path d="M737.0 704.5h5"/></g>
<g stroke="#ffc000"><circle cx="742.5" cy="707.5" r="4"/><path d="M740.0 707.5h5"/></g>
<path stroke="#ffc000" d="M676.0 709.5h7M679.5 706.0v7"/>
<g stroke="#ffc000"><circle cx="615.5" cy="712.5" r="4"/><path d="M613.0 712.5h5"/></g>
<g stroke="#ffc000"><circle cx="620.5" cy="719.5" r="4"/><path d="M618.0 719.5h5M620.5 717.0v5"/></g>
<path stroke="#ffc000" d="M648.0 717.5h7M651.5 714.0v7"/>
<g stroke="#ffc000"><circle cx="679.5" cy="724.5" r="4"/><path d="M677.0 724.5h5M679.5 722.0v5"/></g>
<g stroke="#ffc000"><circle cx="724.5" cy="723.5" r="4"/><path d="M722.0 723.5h5"/></g>
<g stroke="#ffc000"><circle cx="724.5" cy="723.5" r="4"/><path d="M722.0 723.5h5"/></g>
<g stroke="#ffc000"><circle cx="737.5" cy="727.5" r="4"/><path d="M735.0 727.5h5M737.5 725.0v5"/></g>
<g stroke="#ffc000"><circle cx="709.5" cy="731.5" r="4"/><path d="M707.0 731.5h5M709.5 729.0v5"/></g>
<g stroke="#ffc000"><circle cx="711.5" cy="732.5" r="4"/><path d="M709.0 732.5h5M711.5 730.0v5"/></g>
<g stroke="#ffc000"><circle cx="691.5" cy="736.5" r="4"/><path d="M689.0 736.5h5"/></g>
<path stroke="#ffc000" d="M716.0 738.5h7M719.5 735.0v7"/>
<g stroke="#ffc000"><circle cx="678.5" cy="740.5" r="4"/><path d="M676.0 740.5h5M678.5 738.0v5"/></g>
<g stroke="#ffc000"><circle cx="711.5" cy="741.5" r="4"/><path d="M709.0 741.5h5M711.5 739.0v5"/></g>
<g stroke="#ffc000"><circle cx="699.5" cy="742.5" r="4"/><path d="M697.0 742.5h5M699.5 740.0v5"/></g>
<g stroke="#ffc000"><circle cx="677.5" cy="746.5" r="4"/><path d="M675.0 746.5h5M677.5 744.0v5"/></g>
<g stroke="#ffc000"><circle cx="608.5" cy="747.5" r="4"/><path d="M606.0 747.5h5M608.5 745.0v5"/></g>
<g stroke="#ffc000"><circle cx="644.5" cy="766.5" r="4"/><path d="M642.0 766.5h5M644.5 764.0v5"/></g>
<g stroke="#ffc000"><circle cx="660.5" cy="773.5" r="4"/><path d="M658.0 773.5h5M660.5 771.0v5"/></g>
<g stroke="#ffc000"><circle cx="663.5" cy="773.5" r="4"/><path d="M661.0 773.5h5M663.5 771.0v5"/></g>
<g stroke="#ffc000"><circle cx="669.5" cy="772.5" r="4"/><path d="M667.0 772.5h5"/></g>
<g stroke="#ffc000"><circle cx="672.5" cy="776.5" r="4"/><path d="M670.0 776.5h5"/></g>
<g stroke="#ffc000"><circle cx="630.5" cy="794.5" r="4"/><path d="M628.0 794.5h5"/></g>
<path stroke="#ffc000" d="M635.0 799.5h7"/>
<g stroke="#ffc000"><circle cx="655.5" cy="794.5" r="4"/><path d="M653.0 794.5h5"/></g>
<g stroke="#ffc000"><circle cx="606.5" cy="800.5" r="4"/><path d="M604.0 800.5h5M606.5 798.0v5"/></g>
<g stroke="#ffc000"><circle cx="697.5" cy="759.5" r="4"/><path d="M695.0 759.5h5"/></g>
<g stroke="#ffc000"><circle cx="702.5" cy="767.5" r="4"/><path d="M700.0 767.5h5M702.5 765.0v5"/></g>
<g stroke="#ffc000"><circle cx="702.5" cy="774.5" r="4"/><path d="M700.0 774.5h5"/></g>
<g stroke="#ffc000"><circle cx="544.5" cy="762.5" r="4"/><path d="M542.0 762.5h5M544.5 760.0v5"/></g>
<g stroke="#ffc000"><circle cx="573.5" cy="750.5" r="4"/><path d="M571.0 750.5h5M573.5 748.0v5"/></g>
<g stroke="#ffc000"><circle cx="561.5" cy="761.5" r="4"/><path d="M559.0 761.5h5M561.5 759.0v5"/></g>
<g stroke="#ffc000"><circle cx="562.5" cy="768.5" r="4"/><path d="M560.0 768.5h5"/></g>
<g stroke="#ffc000"><circle cx="527.5" cy="769.5" r="4"/><path d="M525.0 769.5h5"/></g>
<g stroke="#ffc000"><circle cx="525.5" cy="775.5" r="4"/><path d="M523.0 775.5h5M525.5 773.0v5"/></g>
<g stroke="#ffc000"><circle cx="528.5" cy="779.5" r="4"/><path d="M526.0 779.5h5"/></g>
<g stroke="#ffc000"><circle cx="497.5" cy="783.5" r="4"/><path d="M495.0 783.5h5M497.5 781.0v5"/></g>
<g stroke="#ffdc00"><circle cx="785.5" cy="114.5" r="4"/><path d="M783.0 114.5h5"/></g>
<g stroke="#ffdc00"><circle cx="769.5" cy="252.5" r="4"/><path d="M767.0 252.5h5"/></g>
<g stroke="#ffdc00"><circle cx="721.5" cy="271.5" r="4"/><path d="M719.0 271.5h5"/></g>
<g stroke="#ffdc00"><circle cx="704.5" cy="283.5" r="4"/><path d="M702.0 283.5h5M704.5 281.0v5"/></g>
<g stroke="#ffdc00"><circle cx="614.5" cy="797.5" r="4"/><path d="M612.0 797.5h5"/></g>
<g stroke="#ffdc00"><circle cx="619.5" cy="802.5" r="4"/><path d="M617.0 802.5h5"/></g>
<g stroke="#ffdc00"><circle cx="518.5" cy="782.5" r="4"/><path d="M516.0 782.5h5"/></g>
<g stroke="#ffdc00"><circle cx="520.5" cy="782.5" r="4"/><path d="M518.0 782.5h5"/></g>
<g stroke="#ffff00"><circle cx="634.5" cy="109.5" r="4"/><path d="M632.0 109.5h5"/></g>
<g stroke="#ffff00"><circle cx="775.5" cy="663.5" r="4"/><path d="M773.0 663.5h5M775.5 661.0v5"/></g>
<g stroke="#ffff00"><circle cx="776.5" cy="662.5" r="4"/><path d="M774.0 662.5h5M776.5 660.0v5"/></g>
<g stroke="#ffff00"><circle cx="672.5" cy="666.5" r="4"/><path d="M670.0 666.5h5M672.5 664.0v5"/></g>
<g stroke="#ffff00"><circle cx="744.5" cy="674.5" r="4"/><path d="M742.0 674.5h5M744.5 672.0v5"/></g>
<g stroke="#ffff00"><circle cx="649.5" cy="675.5" r="4"/><path d="M647.0 675.5h5M649.5 673.0v5"/></g>
<g stroke="#ffff00"><circle cx="663.5" cy="673.5" r="4"/><path d="M661.0 673.5h5"/></g>
<g stroke="#ffff00"><circle cx="661.5" cy="676.5" r="4"/><path d="M659.0 676.5h5"/></g>
<g stroke="#ffff00"><circle cx="636.5" cy="689.5" r="4"/><path d="M634.0 689.5h5"/></g>
<g stroke="#ffff00"><circle cx="636.5" cy="691.5" r="4"/><path d="M634.0 691.5h5M636.5 689.0v5"/></g>
<g stroke="#ffff00"><circle cx="624.5" cy="701.5" r="4"/><path d="M622.0 701.5h5M624.5 699.0v5"/></g>
<path stroke="#ffff00" d="M710.0 689.5h7M713.5 686.0v7"/>
<g stroke="#ffff00"><circle cx="742.5" cy="683.5" r="4"/><path d="M740.0 683.5h5"/></g>
<g stroke="#ffff00"><circle cx="710.5" cy="713.5" r="4"/><path d="M708.0 713.5h5M710.5 711.0v5"/></g>
<g stroke="#ffff00"><circle cx="712.5" cy="718.5" r="4"/><path d="M710.0 718.5h5M712.5 716.0v5"/></g>
<g stroke="#ffff00"><circle cx="705.5" cy="729.5" r="4"/><path d="M703.0 729.5h5"/></g>
<g stroke="#ffff00"><circle cx="643.5" cy="746.5" r="4"/><path d="M641.0 746.5h5M643.5 744.0v5"/></g>
<g stroke="#ffff00"><circle cx="662.5" cy="746.5" r="4"/><path d="M660.0 746.5h5"/></g>
<g stroke="#ffff00"><circle cx="643.5" cy="756.5" r="4"/><path d="M641.0 756.5h5"/></g>
<g stroke="#ffff00"><circle cx="649.5" cy="754.5" r="4"/><path d="M647.0 754.5h5M649.5 752.0v5"/></g>
<g stroke="#ffff00"><circle cx="655.5" cy="754.5" r="4"/><path d="M653.0 754.5h5"/></g>
<g stroke="#ffff00"><circle cx="647.5" cy="761.5" r="4"/><path d="M645.0 761.5h5"/></g>
<g stroke="#ffff00"><circle cx="588.5" cy="720.5" r="4"/><path d="M586.0 720.5h5M588.5 718.0v5"/></g>
<g stroke="#ffff00"><circle cx="588.5" cy="763.5" r="4"/><path d="M586.0 763.5h5"/></g>
<g stroke="#ffff00"><circle cx="587.5" cy="765.5" r="4"/><path d="M585.0 765.5h5"/></g>
<g stroke="#ffff00"><circle cx="551.5" cy="776.5" r="4"/><path d="M549.0 776.5h5M551.5 774.0v5"/></g>
<path stroke="#ffff00" d="M515.0 791.5h7"/>
<g stroke="#00f0ff"><circle cx="690.5" cy="636.5" r="4"/><path d="M688.0 636.5h5M690.5 634.0v5"/></g>
<g stroke="#00f0ff"><circle cx="704.5" cy="739.5" r="4"/><path d="M702.0 739.5h5M704.5 737.0v5"/></g>
</g>
<rect x="8.5" y="758.5" width="244" height="45" fill="#000" stroke="#8c8c8c"/>
<rect x="685" y="792" width="121" height="14" fill="#000"/>
<g stroke-width="1">
<g stroke="#00f0ff"><circle cx="60.5" cy="780.5" r="3.7"/><path d="M58.0 780.5h5"/></g>
<g stroke="#00f0ff"><circle cx="110.5" cy="780.5" r="3.7"/><path d="M108.0 780.5h5M110.5 778.0v5"/></g>
<g stroke="#ffff00"><circle cx="60.5" cy="793.5" r="3.7"/><path d="M58.0 793.5h5"/></g>
<g stroke="#ffff00"><circle cx="110.5" cy="793.5" r="3.7"/><path d="M108.0 793.5h5M110.5 791.0v5"/></g>
<path stroke="#00f0ff" d="M82.0 780.5h7"/>
<path stroke="#00f0ff" d="M132.0 780.5h7M135.5 777.0v7"/>
<path stroke="#ffff00" d="M82.0 793.5h7"/>
<path stroke="#ffff00" d="M132.0 793.5h7M135.5 790.0v7"/>
</g>
</svg>
<div class="pn" style="left:812px;top:8px;width:318px;height:318px"></div>
<div class="pn" style="left:812px;top:333px;width:318px;height:113px"></div>
<div class="pn" style="left:812px;top:453px;width:318px;height:348px"></div>
<div class="bx" style="left:819px;top:16px;width:56px;height:16px;background:#5a0000"></div>
<div class="bx" style="left:883px;top:16px;width:56px;height:16px;background:#333"></div>
<div class="bx" style="left:994px;top:16px;width:126px;height:16px;background:#333"></div>
<div class="bx" style="left:821px;top:64px;width:80px;height:14px;background:#5a5a5a"></div>
<div class="bx" style="left:931px;top:64px;width:80px;height:14px;background:#5a5a5a"></div>
<div class="bx" style="left:1041px;top:64px;width:80px;height:14px;background:#5a5a5a"></div>
<div class="ln" style="left:821px;top:217px;width:303px"></div>
<div class="ln" style="left:821px;top:359px;width:303px"></div>
<div class="bar" style="left:925px;top:227px"><i style="width:11px;background:#ff0000"></i></div>
<div class="bar" style="left:1028px;top:227px"><i style="width:33px;background:#99ccff"></i></div>
<div class="bar" style="left:925px;top:281px"><i style="width:2px;background:#ff69b4"></i></div>
<div class="bar" style="left:1028px;top:281px"><i style="width:3px;background:#00ff00"></i></div>
<svg id="graph" style="left:0;top:0" width="1138" height="812" viewBox="0 0 1138 812" fill="none" stroke-width="1" shape-rendering="crispEdges">
<polyline points="823.4,776.5 824.9,769.6 834.7,769.6 835.7,776.5" stroke="#ff69b4"/>
<polyline points="837.2,776.5 838.7,769.6 843.6,769.6 845.1,776.5" stroke="#ff69b4"/>
<polyline points="848.5,769.6 850.5,761.7 852.5,753.4 853.9,760.3 855.4,761.7 856.4,773.1 856.9,776.5" stroke="#ff69b4"/>
<polyline points="898.2,776.5 899.7,770.1 901.7,769.6 903.7,776.0" stroke="#ff69b4"/>
<polyline points="900.0,769.6 902.5,769.6 903.9,776.5" stroke="#ff69b4"/>
<polyline points="918.2,776.5 920.2,770.1 922.6,769.6 924.6,776.5" stroke="#ff69b4"/>
<polyline points="966.5,776.5 967.9,770.6 969.4,769.6 971.4,769.6 972.9,776.5" stroke="#ff69b4"/>
<polyline points="978.3,776.5 980.2,770.1 982.2,769.6 983.7,773.1" stroke="#ff69b4"/>
<polyline points="980.0,770.1 982.0,769.6" stroke="#ff69b4"/>
<polyline points="1033.2,776.5 1034.2,770.1 1035.6,769.6 1042.5,769.6 1043.5,774.1 1044.5,776.5" stroke="#ff69b4"/>
<polyline points="1033.4,776.5 1034.4,770.1 1035.9,769.6 1042.3,769.6 1043.8,774.1 1044.8,776.5" stroke="#ff69b4"/>
<polyline points="1076.3,776.5 1077.8,771.1 1079.2,769.6 1081.7,769.6 1082.7,776.5" stroke="#ff69b4"/>
<polyline points="846.1,776.5 847.5,768.1 849.0,761.7 850.5,761.7 851.5,768.1 852.5,769.6 853.4,776.5" stroke="#00ff00"/>
<polyline points="876.1,776.5 877.6,769.6 880.0,769.6 881.5,774.1 882.5,776.5" stroke="#00ff00"/>
<polyline points="900.2,776.5 901.7,771.1 902.7,769.6" stroke="#00ff00"/>
<polyline points="900.0,776.5 901.5,773.1 902.5,769.6" stroke="#00ff00"/>
<polyline points="945.3,776.5 946.8,770.1 948.2,769.6 950.2,769.6 951.7,776.5" stroke="#00ff00"/>
<polyline points="1036.1,776.5 1037.1,770.1 1038.6,769.6 1041.0,769.6 1042.0,776.5" stroke="#00ff00"/>
<polyline points="1054.3,776.5 1055.3,770.1 1056.8,769.6 1058.3,769.6 1059.3,774.1 1060.2,776.5" stroke="#00ff00"/>
<polyline points="1036.4,776.5 1037.4,770.1 1038.9,769.6 1041.3,769.6 1042.3,776.5" stroke="#00ff00"/>
<polyline points="1054.1,776.5 1055.6,770.1 1057.1,769.6 1058.6,769.6 1059.5,774.1 1060.5,776.5" stroke="#00ff00"/>
<polyline points="822.4,761.7 823.4,768.1 824.9,776.0" stroke="#99ccff"/>
<polyline points="838.7,746.5 840.6,750.4 841.6,768.1 842.6,769.6" stroke="#99ccff"/>
<polyline points="858.9,776.5 861.3,769.6 862.8,764.2 864.3,754.4 866.7,753.4 868.2,762.2 868.2,769.6 874.1,769.6 875.6,766.2 877.1,761.7 879.0,768.1 881.0,761.7 882.5,753.4 884.0,756.3 885.4,764.2 886.9,773.1 888.4,761.7 891.4,761.7 892.8,769.6 894.3,776.0 896.8,769.6 897.8,761.7 899.7,761.7 900.7,769.6 901.7,776.0" stroke="#99ccff"/>
<polyline points="853.4,761.7 854.9,753.4 855.4,760.3" stroke="#99ccff"/>
<polyline points="911.8,776.5 913.8,768.1 914.8,758.3 915.8,742.5 917.2,740.6 918.2,753.4 919.7,761.2 921.2,768.1 922.2,769.6 923.6,761.7 925.1,754.4 926.6,754.4 928.1,761.7 929.5,769.6 931.0,766.2 932.5,761.7 934.5,761.2 936.4,768.1 937.9,764.2 939.4,769.6 941.4,764.2 943.3,768.1 944.8,773.1 945.8,776.0" stroke="#99ccff"/>
<polyline points="947.3,769.6 948.2,760.3 949.7,754.4 951.2,758.3 952.7,761.7 954.2,766.2 955.6,769.6 957.1,774.1 958.1,776.5" stroke="#99ccff"/>
<polyline points="959.1,776.5 960.6,771.1 962.0,769.6 963.5,773.1 965.0,776.5" stroke="#99ccff"/>
<polyline points="966.0,776.5 967.0,768.1 967.9,758.3 969.4,753.4 971.4,753.4 972.4,764.2 973.4,765.2" stroke="#99ccff"/>
<polyline points="977.8,776.5 979.3,771.1 980.7,769.6 982.7,774.1 983.7,776.5" stroke="#99ccff"/>
<polyline points="982.0,769.6 983.4,775.0 984.4,776.5" stroke="#99ccff"/>
<polyline points="988.4,769.6 990.3,769.6 992.3,762.2 994.8,761.7 996.2,768.1 997.7,776.0" stroke="#99ccff"/>
<polyline points="1004.1,776.5 1004.6,769.6 1006.1,761.7 1008.1,753.4 1009.0,760.3 1010.5,768.1 1012.5,769.6 1014.0,776.0" stroke="#99ccff"/>
<polyline points="1021.8,762.2 1023.3,768.1 1024.3,774.1 1024.8,776.5" stroke="#99ccff"/>
<polyline points="1039.1,776.5 1040.6,768.1 1041.5,758.3 1043.0,748.4 1044.0,754.4 1045.5,762.2 1047.0,769.6 1050.9,769.6 1051.9,774.1 1052.9,776.5" stroke="#99ccff"/>
<polyline points="1057.8,776.5 1058.8,771.1 1060.2,769.6" stroke="#99ccff"/>
<polyline points="1067.1,768.1 1068.6,762.2 1070.0,761.2" stroke="#99ccff"/>
<polyline points="1066.9,769.6 1068.4,764.2 1069.4,761.7 1072.3,761.7 1072.8,768.1 1074.3,769.6 1076.3,769.6" stroke="#99ccff"/>
<polyline points="1080.2,776.5 1081.7,773.1 1083.2,770.1 1084.2,760.3 1085.1,753.4 1086.6,753.4 1087.6,761.7" stroke="#99ccff"/>
<polyline points="822.4,753.9 822.4,761.7" stroke="#ff0000"/>
<polyline points="824.4,769.6 827.8,776.0 829.3,770.6 832.8,769.6 833.8,776.0" stroke="#ff0000"/>
<polyline points="850.5,776.0 853.0,769.6 855.4,769.6 855.9,776.0" stroke="#ff0000"/>
<polyline points="858.4,776.0 860.3,766.2 861.8,761.7 862.8,768.1 865.3,768.1 866.7,762.2 868.2,753.4 868.2,746.5 870.7,746.5 871.2,753.4 871.2,761.2 876.1,761.2 877.1,764.2 878.6,753.4 880.5,746.5 882.0,751.4 882.5,756.3 883.5,768.1 885.0,776.0" stroke="#ff0000"/>
<polyline points="886.9,769.6 891.4,769.6 891.8,761.2 894.3,754.4 896.3,761.2 896.8,769.6 897.8,776.0" stroke="#ff0000"/>
<polyline points="913.3,761.7 914.3,765.2 915.8,772.1 917.7,776.5 926.1,776.5 927.1,770.1 928.6,763.2 930.5,761.2 933.5,761.7 934.5,757.3 935.9,753.4 936.9,760.3 938.4,754.4 939.4,764.2 941.4,762.2" stroke="#ff0000"/>
<polyline points="947.3,764.2 948.7,753.4 950.2,760.3 951.7,753.4 953.7,750.4 954.6,746.5 956.1,750.4 957.6,753.4 959.1,751.4 960.6,747.5 961.5,751.4 963.0,758.3 964.0,766.2 965.5,762.2 967.0,760.3 967.9,755.3 968.9,760.3 970.4,766.2 971.9,764.2" stroke="#ff0000"/>
<polyline points="977.3,734.2 978.8,738.6 979.8,746.5 980.7,756.3 981.7,764.2 982.7,772.1 983.7,776.5" stroke="#ff0000"/>
<polyline points="987.1,776.5 988.6,770.1 990.0,768.1" stroke="#ff0000"/>
<polyline points="980.0,750.4 981.0,760.3 982.0,768.1" stroke="#ff0000"/>
<polyline points="987.4,776.5 988.9,769.1 990.3,760.3 992.3,753.4 993.8,760.3 995.3,768.1 996.7,774.1 997.7,776.5" stroke="#ff0000"/>
<polyline points="1006.1,761.7 1006.6,768.1 1009.5,769.6 1011.5,769.6" stroke="#ff0000"/>
<polyline points="1021.8,776.5 1023.3,774.1 1024.3,770.1" stroke="#ff0000"/>
<polyline points="1033.7,763.2 1034.6,768.1 1036.1,769.6" stroke="#ff0000"/>
<polyline points="1045.0,776.5 1046.5,770.1 1047.4,764.2 1048.9,761.2 1050.4,766.2 1051.9,769.6 1053.4,769.6" stroke="#ff0000"/>
<polyline points="1066.2,776.5 1067.6,771.1 1069.1,769.6" stroke="#ff0000"/>
<polyline points="1066.4,776.5 1067.9,769.6 1072.3,769.6 1073.3,753.4 1076.8,753.4 1077.3,760.3 1078.7,768.1 1079.2,769.6" stroke="#ff0000"/>
<polyline points="1083.2,764.2 1085.6,768.1 1087.1,769.6 1087.6,774.1" stroke="#ff0000"/>
<polyline points="822.4,739.1 822.4,761.7 825.4,761.7 827.8,769.6 829.8,761.4 832.8,761.4 834.7,769.6 837.2,753.4 838.7,738.6 840.6,738.6 841.6,758.3 845.1,769.6 847.5,753.4 849.5,742.5 851.0,731.7 852.5,714.5 853.0,727.8 854.4,735.6 855.4,730.2 855.9,750.4 857.4,769.6 858.9,769.6 860.3,757.3 861.8,753.4 864.3,746.5 867.2,738.6 870.2,738.6 871.2,753.4 874.1,753.4 876.1,746.5 878.6,738.6 879.5,729.7 880.5,722.3 882.0,728.7 883.0,738.6 885.0,750.4 886.4,764.2 888.4,753.4 899.7,753.4 900.7,761.4 902.7,761.4 904.2,769.6 906.1,769.6 906.6,776.0 907.4,773.1 909.4,759.3 910.3,756.3 911.3,753.4 912.3,758.3 913.3,750.4 914.8,742.5 915.8,738.6 917.5,738.6 918.2,746.5 919.2,753.4 920.2,753.4 921.2,746.5 923.1,746.5 924.1,751.4 925.1,753.4 930.0,753.4 931.5,748.4 932.5,746.5 934.0,742.5 935.3,738.6 935.9,744.5 936.9,746.5 938.2,738.6 938.9,748.4 939.9,750.4 941.4,746.5 941.8,753.4 943.3,761.2 944.8,764.2 945.8,769.6 946.8,753.4 947.8,742.5 948.4,730.5 950.4,730.5 951.2,735.6 952.2,738.6 954.2,738.6 955.1,742.5 956.1,745.5 957.1,750.4 958.1,753.4 959.6,753.4 960.6,738.6 961.5,744.5 962.5,748.4 963.5,758.3 964.5,761.7 965.5,761.7 967.0,746.5 967.4,730.7 968.4,722.3 968.9,730.7 969.7,737.6 970.7,730.5 971.7,730.7 972.4,750.4 973.8,756.3 975.3,742.5 977.3,730.7 978.8,730.5 980.2,737.6 981.2,746.5 981.7,758.3 983.2,766.2 984.7,769.6 986.6,776.0 987.4,768.1 988.9,760.3 990.3,750.4 992.3,738.6 993.3,746.5 994.8,751.4 995.8,761.2 996.7,769.6 1004.1,769.6 1004.6,758.3 1005.4,746.5 1006.8,750.4 1008.4,746.5 1009.5,754.4 1011.0,761.2 1012.5,768.1 1014.0,774.1 1014.5,776.5 1018.4,776.5 1018.9,769.1 1019.4,761.7 1022.3,761.7 1023.3,766.2 1024.8,769.6 1025.8,765.2 1027.3,761.7 1028.2,769.1 1029.2,765.2 1030.7,761.7 1031.2,769.1 1032.2,766.2 1033.7,761.7 1039.1,761.7 1040.1,754.4 1041.5,748.4 1043.0,746.5 1044.0,748.4 1045.0,753.4 1046.5,760.3 1047.4,755.3 1048.9,753.4 1050.4,756.3 1051.4,761.7 1052.4,766.2 1053.8,760.3 1055.3,753.4 1056.8,758.3 1058.3,766.2 1059.8,769.6 1063.7,769.6 1064.5,776.0 1065.9,768.1 1067.9,758.3 1069.4,753.4 1071.8,753.4 1073.3,746.5 1076.3,746.5 1078.2,752.4 1080.2,758.3 1081.7,764.2 1082.7,766.2 1083.2,753.4 1084.6,746.5 1088.1,746.5" stroke="#ffffff"/>
<path stroke="#c0c0c0" d="M822.5 777.5H1088.5M1088.5 542.5V780.5M822.5 777.5v3M866.8 777.5v3M911.2 777.5v3M955.5 777.5v3M999.8 777.5v3M1044.2 777.5v3M1088.5 777.5v3M1085.5 738.3h3M1083.5 699.1h5M1085.5 659.9h3M1083.5 620.7h5M1085.5 581.5h3M1083.5 542.3h5"/>
</svg>
<span id="t0" class="t" style="left:824.4px;transform-origin:0 50%;top:17.9px;font-size:13px;line-height:16px;font-weight:bold;color:#ecdcdc;transform:scaleX(1.0090)">STRIKE</span>
<span id="t1" class="t" style="left:890.6px;transform-origin:0 50%;top:17.9px;font-size:13px;line-height:16px;font-weight:bold;color:#c4c4c4;transform:scaleX(1.0625)">NOISE</span>
<span id="t2" class="t" style="left:998.5px;transform-origin:0 50%;top:17.9px;font-size:13.5px;line-height:16px;font-weight:bold;color:#ffffff;transform:scaleX(1.0704)">Bng 129°</span>
<span id="t3" class="t" style="left:1076.0px;transform-origin:0 50%;top:17.9px;font-size:13.5px;line-height:16px;font-weight:bold;color:#00e000;transform:scaleX(1.0971)">285mi</span>
<span id="t4" class="t" style="left:829.2px;transform-origin:0 50%;top:64.4px;font-size:12.2px;line-height:15px;font-weight:normal;color:#e4e4e4;transform:scaleX(1.0949)">Strikes/min</span>
<span id="t5" class="t" style="left:943.8px;transform-origin:0 50%;top:64.4px;font-size:12.2px;line-height:15px;font-weight:normal;color:#e4e4e4;transform:scaleX(1.0556)">Close/min</span>
<span id="t6" class="t" style="left:1050.0px;transform-origin:0 50%;top:64.4px;font-size:12.2px;line-height:15px;font-weight:normal;color:#e4e4e4;transform:scaleX(1.0418)">Noises/min</span>
<span id="t7" class="t" style="right:235.7px;transform-origin:100% 50%;top:84.7px;font-size:29px;line-height:35px;font-weight:bold;color:#ffffff;transform:scaleX(1.0656)">2</span>
<span id="t8" class="t" style="right:125.5px;transform-origin:100% 50%;top:84.7px;font-size:29px;line-height:35px;font-weight:bold;color:#ffffff;transform:scaleX(1.1152)">0</span>
<span id="t9" class="t" style="right:15.5px;transform-origin:100% 50%;top:84.7px;font-size:29px;line-height:35px;font-weight:bold;color:#c0c0c0;transform:scaleX(1.1152)">0</span>
<span id="t10" class="t" style="right:235.2px;transform-origin:100% 50%;top:130.6px;font-size:14px;line-height:17px;font-weight:normal;color:#ffffff;transform:scaleX(1.0098)">Total Strikes</span>
<span id="t11" class="t" style="right:125.2px;transform-origin:100% 50%;top:130.6px;font-size:14px;line-height:17px;font-weight:normal;color:#ffffff;transform:scaleX(0.9889)">Total Close</span>
<span id="t12" class="t" style="right:15.2px;transform-origin:100% 50%;top:130.6px;font-size:14px;line-height:17px;font-weight:normal;color:#c0c0c0;transform:scaleX(0.9900)">Total Noises</span>
<span id="t13" class="t" style="right:235.5px;transform-origin:100% 50%;top:149.1px;font-size:14px;line-height:17px;font-weight:normal;color:#ffffff;transform:scaleX(1.0178)">116820</span>
<span id="t14" class="t" style="right:125.5px;transform-origin:100% 50%;top:149.1px;font-size:14px;line-height:17px;font-weight:normal;color:#ffffff;transform:scaleX(0.9888)">52541</span>
<span id="t15" class="t" style="right:15.5px;transform-origin:100% 50%;top:149.1px;font-size:14px;line-height:17px;font-weight:normal;color:#ffffff;transform:scaleX(0.9888)">18967</span>
<span id="t16" class="t" style="left:821.0px;transform-origin:0 50%;top:202.6px;font-size:14px;line-height:17px;font-weight:normal;color:#b4b4b4;transform:scaleX(1.0360)">Lightning type distribution</span>
<span id="t17" class="t" style="left:821.0px;transform-origin:0 50%;top:224.9px;font-size:13px;line-height:16px;font-weight:bold;color:#ffffff;transform:scaleX(0.9776)">Cloud-ground</span>
<span id="t18" class="t" style="left:913.2px;transform-origin:0 50%;top:222.9px;font-size:16px;line-height:19px;font-weight:normal;color:#e0e0e0;transform:scaleX(0.8134)">+</span>
<span id="t19" class="t" style="left:979.5px;transform-origin:0 50%;top:224.9px;font-size:13px;line-height:16px;font-weight:bold;color:#ffffff;transform:scaleX(1.1140)">22%</span>
<span id="t20" class="t" style="left:1016.0px;transform-origin:0 50%;top:223.9px;font-size:14px;line-height:17px;font-weight:bold;color:#d0d0d0;transform:scaleX(0.7939)">−</span>
<span id="t21" class="t" style="left:1082.3px;transform-origin:0 50%;top:224.9px;font-size:13px;line-height:16px;font-weight:bold;color:#ffffff;transform:scaleX(1.1333)">67%</span>
<span id="t22" class="t" style="left:821.0px;transform-origin:0 50%;top:248.9px;font-size:13px;line-height:16px;font-weight:bold;color:#b4b4b4;transform:scaleX(0.9988)">Count</span>
<span id="t23" class="t" style="left:925.5px;transform-origin:0 50%;top:248.9px;font-size:13px;line-height:16px;font-weight:bold;color:#ffffff;transform:scaleX(1.0787)">26148</span>
<span id="t24" class="t" style="left:1028.5px;transform-origin:0 50%;top:248.9px;font-size:13px;line-height:16px;font-weight:bold;color:#ffffff;transform:scaleX(1.0648)">77791</span>
<span id="t25" class="t" style="left:821.0px;transform-origin:0 50%;top:278.9px;font-size:13px;line-height:16px;font-weight:bold;color:#ffffff;transform:scaleX(1.0184)">Intracloud</span>
<span id="t26" class="t" style="left:913.2px;transform-origin:0 50%;top:276.9px;font-size:16px;line-height:19px;font-weight:normal;color:#e0e0e0;transform:scaleX(0.8134)">+</span>
<span id="t27" class="t" style="left:979.5px;transform-origin:0 50%;top:278.9px;font-size:13px;line-height:16px;font-weight:bold;color:#ffffff;transform:scaleX(1.1172)">5%</span>
<span id="t28" class="t" style="left:1016.0px;transform-origin:0 50%;top:277.9px;font-size:14px;line-height:17px;font-weight:bold;color:#d0d0d0;transform:scaleX(0.7939)">−</span>
<span id="t29" class="t" style="left:1082.3px;transform-origin:0 50%;top:278.9px;font-size:13px;line-height:16px;font-weight:bold;color:#ffffff;transform:scaleX(1.1172)">6%</span>
<span id="t30" class="t" style="left:821.0px;transform-origin:0 50%;top:303.0px;font-size:13px;line-height:16px;font-weight:bold;color:#b4b4b4;transform:scaleX(0.9988)">Count</span>
<span id="t31" class="t" style="left:925.5px;transform-origin:0 50%;top:303.0px;font-size:13px;line-height:16px;font-weight:bold;color:#ffffff;transform:scaleX(1.0719)">5617</span>
<span id="t32" class="t" style="left:1028.5px;transform-origin:0 50%;top:303.0px;font-size:13px;line-height:16px;font-weight:bold;color:#ffffff;transform:scaleX(1.0719)">7264</span>
<span id="t33" class="t" style="left:821.5px;transform-origin:0 50%;top:336.8px;font-size:17.4px;line-height:21px;font-weight:bold;color:#00e000;transform:scaleX(1.1672)">3/16/2026 8:10:18 PM</span>
<span id="t34" class="t" style="left:821.0px;transform-origin:0 50%;top:375.7px;font-size:14px;line-height:17px;font-weight:normal;color:#ffffff;transform:scaleX(0.9685)">Squelch</span>
<span id="t35" class="t" style="left:821.0px;transform-origin:0 50%;top:395.7px;font-size:14px;line-height:17px;font-weight:normal;color:#ffffff;transform:scaleX(0.9979)">Persistence</span>
<span id="t36" class="t" style="left:821.0px;transform-origin:0 50%;top:415.7px;font-size:14px;line-height:17px;font-weight:normal;color:#ffffff;transform:scaleX(0.9693)">Range</span>
<span id="t37" class="t" style="left:909.5px;transform-origin:0 50%;top:375.7px;font-size:14px;line-height:17px;font-weight:normal;color:#ffffff;transform:scaleX(0.9619)">0</span>
<span id="t38" class="t" style="left:909.5px;transform-origin:0 50%;top:395.7px;font-size:14px;line-height:17px;font-weight:normal;color:#ffffff;transform:scaleX(0.9874)">90 min</span>
<span id="t39" class="t" style="left:909.5px;transform-origin:0 50%;top:415.7px;font-size:14px;line-height:17px;font-weight:normal;color:#ffffff;transform:scaleX(0.9874)">313 mi</span>
<span id="t40" class="t" style="left:981.4px;transform-origin:0 50%;top:375.7px;font-size:14px;line-height:17px;font-weight:normal;color:#ffffff;transform:scaleX(0.9803)">Upload</span>
<span id="t41" class="t" style="left:981.4px;transform-origin:0 50%;top:395.7px;font-size:14px;line-height:17px;font-weight:normal;color:#ffffff;transform:scaleX(1.0138)">Capture</span>
<span id="t42" class="t" style="left:981.4px;transform-origin:0 50%;top:415.7px;font-size:14px;line-height:17px;font-weight:normal;color:#ffffff;transform:scaleX(0.9502)">Receiver</span>
<span id="t43" class="t" style="left:1061.2px;transform-origin:0 50%;top:375.7px;font-size:14px;line-height:17px;font-weight:normal;color:#b4b4b4;transform:scaleX(0.9819)">Disabled</span>
<span id="t44" class="t" style="left:1061.2px;transform-origin:0 50%;top:395.7px;font-size:14px;line-height:17px;font-weight:normal;color:#00e000;transform:scaleX(0.9574)">Active</span>
<span id="t45" class="t" style="left:1061.2px;transform-origin:0 50%;top:415.7px;font-size:14px;line-height:17px;font-weight:normal;color:#00e000;transform:scaleX(0.9827)">Enabled</span>
<span id="t46" class="t" style="left:821.0px;transform-origin:0 50%;top:462.1px;font-size:14px;line-height:17px;font-weight:normal;color:#b4b4b4;transform:scaleX(0.9806)">Uptime</span>
<span id="t47" class="t" style="left:821.0px;transform-origin:0 50%;top:485.3px;font-size:14px;line-height:17px;font-weight:normal;color:#b4b4b4;transform:scaleX(1.0094)">Peak rate</span>
<span id="t48" class="t" style="left:909.5px;transform-origin:0 50%;top:462.1px;font-size:14px;line-height:17px;font-weight:normal;color:#ffffff;transform:scaleX(1.0275)">1519:55</span>
<span id="t49" class="t" style="left:909.5px;transform-origin:0 50%;top:485.3px;font-size:14px;line-height:17px;font-weight:normal;color:#ffffff;transform:scaleX(1.0157)">1384/min</span>
<span id="t50" class="t" style="left:981.4px;transform-origin:0 50%;top:462.1px;font-size:14px;line-height:17px;font-weight:normal;color:#b4b4b4;transform:scaleX(0.9880)">Peak time</span>
<span id="t51" class="t" style="left:981.4px;transform-origin:0 50%;top:485.3px;font-size:14px;line-height:17px;font-weight:normal;color:#ffffff;transform:scaleX(0.9830)">2:49 AM</span>
<span id="t52" class="t" style="left:1061.2px;transform-origin:0 50%;top:462.1px;font-size:14px;line-height:17px;font-weight:normal;color:#b4b4b4;transform:scaleX(0.9948)">Plot</span>
<span id="t53" class="t" style="left:1061.2px;transform-origin:0 50%;top:485.3px;font-size:14px;line-height:17px;font-weight:normal;color:#ffffff;transform:scaleX(0.9917)">Strike</span>
<span id="t54" class="t" style="left:822.0px;transform-origin:0 50%;top:515.8px;font-size:14px;line-height:17px;font-weight:normal;color:#b4b4b4;transform:scaleX(1.0099)">Trend graph</span>
<span id="t55" class="t" style="left:908.5px;transform-origin:0 50%;top:515.8px;font-size:14px;line-height:17px;font-weight:normal;color:#ffffff;transform:scaleX(0.9874)">60 min</span>
<span id="t56" class="t" style="left:13.2px;transform-origin:0 50%;top:761.7px;font-size:9.8px;line-height:12px;font-weight:normal;color:#e4e4e4;transform:scaleX(0.9474)">Symbols</span>
<span id="t57" class="t" style="left:53.2px;transform-origin:0 50%;top:761.7px;font-size:9.8px;line-height:12px;font-weight:normal;color:#e4e4e4;transform:scaleX(0.9572)">-CG</span>
<span id="t58" class="t" style="left:78.0px;transform-origin:0 50%;top:761.7px;font-size:9.8px;line-height:12px;font-weight:normal;color:#e4e4e4;transform:scaleX(1.1330)">-IC</span>
<span id="t59" class="t" style="left:98.9px;transform-origin:0 50%;top:761.7px;font-size:9.8px;line-height:12px;font-weight:normal;color:#e4e4e4;transform:scaleX(0.9842)">+CG</span>
<span id="t60" class="t" style="left:124.2px;transform-origin:0 50%;top:761.7px;font-size:9.8px;line-height:12px;font-weight:normal;color:#e4e4e4;transform:scaleX(1.1139)">+IC</span>
<span id="t61" class="t" style="left:153.2px;transform-origin:0 50%;top:761.7px;font-size:9.8px;line-height:12px;font-weight:normal;color:#e4e4e4;transform:scaleX(0.9295)">Strike age color codes</span>
<span id="t62" class="t" style="left:13.2px;transform-origin:0 50%;top:774.7px;font-size:9.8px;line-height:12px;font-weight:normal;color:#e4e4e4;transform:scaleX(0.8954)">Recent</span>
<span id="t63" class="t" style="left:13.2px;transform-origin:0 50%;top:787.9px;font-size:9.8px;line-height:12px;font-weight:normal;color:#e4e4e4;transform:scaleX(0.9705)">Old</span>
<span id="t64" class="t" style="left:153.6px;transform-origin:0 50%;top:774.7px;font-size:9.8px;line-height:12px;font-weight:normal;color:#ffdc00;transform:scaleX(0.9684)">15+</span>
<span id="t65" class="t" style="left:188.3px;transform-origin:0 50%;top:774.7px;font-size:9.8px;line-height:12px;font-weight:normal;color:#ffb400;transform:scaleX(0.9684)">30+</span>
<span id="t66" class="t" style="left:223.0px;transform-origin:0 50%;top:774.7px;font-size:9.8px;line-height:12px;font-weight:normal;color:#ff9600;transform:scaleX(0.9564)">45+</span>
<span id="t67" class="t" style="left:153.6px;transform-origin:0 50%;top:787.9px;font-size:9.8px;line-height:12px;font-weight:normal;color:#f08000;transform:scaleX(0.9684)">60+</span>
<span id="t68" class="t" style="left:188.3px;transform-origin:0 50%;top:787.9px;font-size:9.8px;line-height:12px;font-weight:normal;color:#f06414;transform:scaleX(0.9684)">75+</span>
<span id="t69" class="t" style="left:223.0px;transform-origin:0 50%;top:787.9px;font-size:9.8px;line-height:12px;font-weight:normal;color:#f03200;transform:scaleX(0.9564)">90+</span>
<span id="t70" class="t" style="left:689.5px;transform-origin:0 50%;top:792.8px;font-size:9.8px;line-height:12px;font-weight:normal;color:#ffffff;transform:scaleX(0.9638)">©2005 Astrogenic Systems</span>
<span id="t71" class="t" style="left:396.1px;transform-origin:0 50%;top:1.7px;font-size:10.5px;line-height:13px;font-weight:normal;color:#ffff90;font-family:'Liberation Mono',monospace;transform:scaleX(1.0473)">313</span>
<span id="t72" class="t" style="left:395.9px;transform-origin:0 50%;top:121.7px;font-size:10.5px;line-height:13px;font-weight:normal;color:#ffff90;font-family:'Liberation Mono',monospace;transform:scaleX(1.0473)">219</span>
<span id="t73" class="t" style="left:396.1px;transform-origin:0 50%;top:241.6px;font-size:10.5px;line-height:13px;font-weight:normal;color:#ffff90;font-family:'Liberation Mono',monospace;transform:scaleX(1.0473)">125</span>
<span id="t74" class="t" style="left:400.0px;transform-origin:0 50%;top:361.7px;font-size:10.5px;line-height:13px;font-weight:normal;color:#ffff90;font-family:'Liberation Mono',monospace;transform:scaleX(0.9675)">31</span>
<span id="t75" class="t" style="left:1091.8px;transform-origin:0 50%;top:536.1px;font-size:12px;line-height:14px;font-weight:normal;color:#c8c8c8;transform:scaleX(1.0105)">30</span>
<span id="t76" class="t" style="left:1091.8px;transform-origin:0 50%;top:614.3px;font-size:12px;line-height:14px;font-weight:normal;color:#c8c8c8;transform:scaleX(1.0105)">20</span>
<span id="t77" class="t" style="left:1091.8px;transform-origin:0 50%;top:692.6px;font-size:12px;line-height:14px;font-weight:normal;color:#c8c8c8;transform:scaleX(1.0105)">10</span>
<span id="t78" class="t" style="left:820.1px;transform-origin:0 50%;top:782.4px;font-size:12px;line-height:14px;font-weight:normal;color:#c8c8c8;transform:scaleX(0.9881)">60</span>
<span id="t79" class="t" style="left:864.3px;transform-origin:0 50%;top:782.4px;font-size:12px;line-height:14px;font-weight:normal;color:#c8c8c8;transform:scaleX(0.9881)">50</span>
<span id="t80" class="t" style="left:908.6px;transform-origin:0 50%;top:782.4px;font-size:12px;line-height:14px;font-weight:normal;color:#c8c8c8;transform:scaleX(0.9881)">40</span>
<span id="t81" class="t" style="left:952.9px;transform-origin:0 50%;top:782.4px;font-size:12px;line-height:14px;font-weight:normal;color:#c8c8c8;transform:scaleX(0.9881)">30</span>
<span id="t82" class="t" style="left:997.2px;transform-origin:0 50%;top:782.4px;font-size:12px;line-height:14px;font-weight:normal;color:#c8c8c8;transform:scaleX(0.9881)">20</span>
<span id="t83" class="t" style="left:1041.5px;transform-origin:0 50%;top:782.4px;font-size:12px;line-height:14px;font-weight:normal;color:#c8c8c8;transform:scaleX(0.9881)">10</span>
<span id="t84" class="t" style="left:1086.6px;transform-origin:0 50%;top:782.4px;font-size:12px;line-height:14px;font-weight:normal;color:#c8c8c8;transform:scaleX(0.9869)">0</span>
<span id="t85" class="t" style="left:1100.4px;transform-origin:0 50%;top:782.4px;font-size:12px;line-height:14px;font-weight:normal;color:#c8c8c8;transform:scaleX(0.9305)">min</span>
</body></html>
